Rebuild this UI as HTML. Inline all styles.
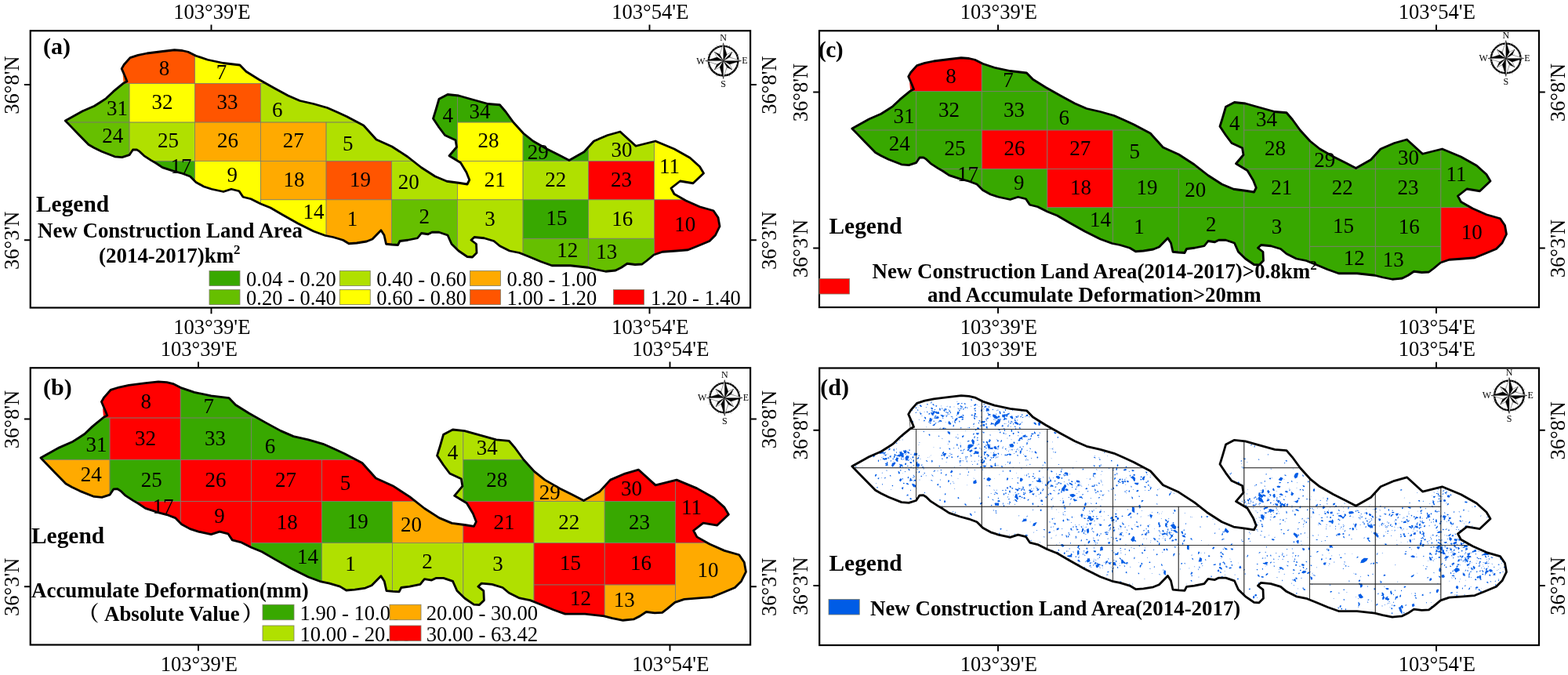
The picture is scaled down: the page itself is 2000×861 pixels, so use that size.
<!DOCTYPE html>
<html lang="en"><head><meta charset="utf-8"><title>Figure</title>
<style>html,body{margin:0;padding:0;background:#fff}svg{display:block}text{font-family:"Liberation Serif", "Noto Serif CJK SC", serif;fill:#000}.b{font-weight:bold}</style>
</head><body>
<svg width="2000" height="861" viewBox="0 0 2000 861">
<rect width="2000" height="861" fill="#fff"/>
<defs>
<clipPath id="oc"><path d="M83.30,154.00 L105.30,141.70 L120.30,135.20 L128.60,130.00 L135.30,125.60 L144.40,116.90 L148.30,113.60 L157.80,105.90 L162.00,103.80 L159.70,98.00 L155.20,87.60 L158.30,82.30 L166.00,73.60 L176.00,70.40 L187.50,68.00 L207.50,65.50 L222.50,63.75 L232.50,64.50 L240.00,66.25 L250.00,71.25 L265.00,76.25 L285.00,80.50 L306.00,83.00 L314.00,91.25 L330.00,101.25 L350.00,112.50 L367.50,122.00 L382.50,128.50 L400.00,132.50 L417.50,137.50 L430.00,143.00 L442.50,148.75 L463.75,160.00 L480.00,178.00 L500.00,187.00 L520.00,200.00 L537.50,213.75 L555.00,225.00 L570.00,231.25 L585.00,233.25 L596.00,235.00 L598.75,229.50 L595.00,220.00 L587.50,207.50 L573.00,198.75 L582.50,187.50 L581.00,178.75 L567.50,172.50 L560.00,162.50 L552.50,151.25 L556.00,140.00 L560.00,126.25 L571.00,120.50 L585.00,122.00 L600.00,126.25 L622.50,132.50 L637.50,133.75 L645.00,142.50 L655.00,156.25 L667.50,170.00 L680.00,180.00 L697.50,190.00 L712.50,197.50 L726.00,204.50 L745.00,193.75 L757.50,180.00 L775.00,172.50 L791.00,168.00 L811.00,186.25 L836.00,180.00 L860.00,190.00 L880.00,201.25 L892.50,212.50 L897.50,221.00 L884.00,233.75 L867.50,231.00 L856.00,240.00 L860.00,247.50 L875.00,256.00 L892.50,263.75 L910.00,268.75 L916.00,277.50 L918.00,288.75 L912.50,300.00 L905.00,307.50 L890.00,313.75 L877.50,318.75 L862.50,320.00 L845.00,321.25 L834.00,325.00 L825.00,332.50 L819.00,337.00 L810.00,337.50 L800.00,336.25 L792.50,341.25 L785.00,345.00 L772.50,346.25 L760.00,343.75 L750.00,341.25 L727.50,338.75 L704.00,338.75 L690.00,333.75 L675.00,327.50 L662.50,322.50 L650.00,320.00 L637.50,313.75 L630.00,307.50 L617.50,303.75 L605.00,302.50 L601.00,306.25 L607.50,311.25 L608.00,322.50 L602.50,328.00 L596.00,327.50 L585.00,320.00 L576.00,311.25 L571.00,300.00 L560.00,296.25 L551.00,296.25 L546.00,298.75 L537.50,297.50 L532.50,303.75 L520.00,306.25 L510.00,307.50 L507.50,312.50 L500.00,312.00 L492.50,311.25 L490.00,300.00 L486.00,293.75 L475.00,305.00 L467.50,308.00 L455.00,310.00 L445.00,310.75 L437.50,306.25 L425.00,302.50 L415.00,300.50 L400.00,295.00 L380.00,285.00 L360.00,273.75 L345.00,265.00 L332.50,260.00 L320.00,253.75 L310.00,251.25 L305.00,243.75 L295.00,241.25 L285.00,244.50 L270.00,241.25 L260.00,238.00 L250.00,232.50 L242.50,225.00 L232.50,221.25 L221.00,218.20 L207.20,213.60 L198.80,208.00 L192.90,204.60 L183.60,198.60 L178.00,193.20 L174.30,190.80 L169.50,191.00 L165.00,197.70 L155.70,200.60 L146.40,199.80 L129.70,193.20 L120.00,188.50 L113.00,184.50 L100.00,171.30 L90.00,160.90Z"/></clipPath>
</defs>
<g id="pa">
<rect x="38.75" y="39.25" width="918.35" height="353.25" fill="#fff" stroke="#000" stroke-width="2.2"/><path d="M269.50,39.25 v-7.8 M269.50,392.50 v7.8" stroke="#000" stroke-width="1.9"/><path d="M828.50,39.25 v-7.8 M828.50,392.50 v7.8" stroke="#000" stroke-width="1.9"/><path d="M38.75,108.00 h-7.8 M957.10,108.00 h7.8" stroke="#000" stroke-width="1.9"/><path d="M38.75,306.25 h-7.8 M957.10,306.25 h7.8" stroke="#000" stroke-width="1.9"/><text x="270.30" y="24.20" font-size="26.6" text-anchor="middle">103°39'E</text><text x="270.30" y="425.50" font-size="26.6" text-anchor="middle">103°39'E</text><text x="829.30" y="24.20" font-size="26.6" text-anchor="middle">103°54'E</text><text x="829.30" y="425.50" font-size="26.6" text-anchor="middle">103°54'E</text><text transform="translate(23.75,108.50) rotate(-90)" font-size="26.6" text-anchor="middle">36°8'N</text><text transform="translate(989.60,108.50) rotate(-90)" font-size="26.6" text-anchor="middle">36°8'N</text><text transform="translate(23.75,306.75) rotate(-90)" font-size="26.6" text-anchor="middle">36°3'N</text><text transform="translate(989.60,306.75) rotate(-90)" font-size="26.6" text-anchor="middle">36°3'N</text>
<g transform="translate(0.000,0.000) scale(1.0000)"><g clip-path="url(#oc)"><rect x="81.33" y="57.20" width="167.34" height="49.40" fill="#FF5500"/><rect x="248.67" y="57.20" width="167.34" height="49.40" fill="#FFFF00"/><rect x="81.33" y="106.60" width="83.67" height="49.40" fill="#66BF00"/><rect x="165.00" y="106.60" width="83.67" height="49.40" fill="#FFFF00"/><rect x="248.67" y="106.60" width="83.67" height="49.40" fill="#FF5500"/><rect x="332.34" y="106.60" width="200.81" height="49.40" fill="#B0E000"/><rect x="81.33" y="156.00" width="83.67" height="49.40" fill="#66BF00"/><rect x="165.00" y="156.00" width="83.67" height="49.40" fill="#B0E000"/><rect x="248.67" y="156.00" width="83.67" height="49.40" fill="#FFAA00"/><rect x="332.34" y="156.00" width="83.67" height="49.40" fill="#FFAA00"/><rect x="416.01" y="156.00" width="117.14" height="49.40" fill="#B0E000"/><rect x="541.51" y="106.60" width="41.84" height="98.80" fill="#38A800"/><rect x="583.35" y="106.60" width="83.67" height="49.40" fill="#38A800"/><rect x="583.35" y="156.00" width="83.67" height="49.40" fill="#FFFF00"/><rect x="667.02" y="156.00" width="83.67" height="49.40" fill="#38A800"/><rect x="750.69" y="156.00" width="83.67" height="49.40" fill="#B0E000"/><rect x="834.36" y="156.00" width="167.34" height="98.80" fill="#FFFF00"/><rect x="81.33" y="205.40" width="167.34" height="49.40" fill="#38A800"/><rect x="248.67" y="205.40" width="83.67" height="98.80" fill="#FFFF00"/><rect x="332.34" y="205.40" width="83.67" height="49.40" fill="#FFAA00"/><rect x="416.01" y="205.40" width="83.67" height="49.40" fill="#FF5500"/><rect x="499.68" y="205.40" width="83.67" height="49.40" fill="#B0E000"/><rect x="583.35" y="205.40" width="83.67" height="49.40" fill="#FFFF00"/><rect x="667.02" y="205.40" width="83.67" height="49.40" fill="#B0E000"/><rect x="750.69" y="205.40" width="83.67" height="49.40" fill="#FF0000"/><rect x="332.34" y="254.80" width="83.67" height="98.80" fill="#FFFF00"/><rect x="416.01" y="254.80" width="83.67" height="98.80" fill="#FFAA00"/><rect x="499.68" y="254.80" width="83.67" height="98.80" fill="#66BF00"/><rect x="583.35" y="254.80" width="83.67" height="98.80" fill="#B0E000"/><rect x="667.02" y="254.80" width="83.67" height="49.40" fill="#38A800"/><rect x="750.69" y="254.80" width="83.67" height="49.40" fill="#B0E000"/><rect x="834.36" y="254.80" width="167.34" height="98.80" fill="#FF0000"/><rect x="667.02" y="304.20" width="83.67" height="98.80" fill="#66BF00"/><rect x="750.69" y="304.20" width="83.67" height="98.80" fill="#66BF00"/><rect x="81.33" y="57.20" width="167.34" height="49.40" fill="none" stroke="#7a7a6a" stroke-width="0.60"/><rect x="248.67" y="57.20" width="167.34" height="49.40" fill="none" stroke="#7a7a6a" stroke-width="0.60"/><rect x="81.33" y="106.60" width="83.67" height="49.40" fill="none" stroke="#7a7a6a" stroke-width="0.60"/><rect x="165.00" y="106.60" width="83.67" height="49.40" fill="none" stroke="#7a7a6a" stroke-width="0.60"/><rect x="248.67" y="106.60" width="83.67" height="49.40" fill="none" stroke="#7a7a6a" stroke-width="0.60"/><rect x="332.34" y="106.60" width="200.81" height="49.40" fill="none" stroke="#7a7a6a" stroke-width="0.60"/><rect x="81.33" y="156.00" width="83.67" height="49.40" fill="none" stroke="#7a7a6a" stroke-width="0.60"/><rect x="165.00" y="156.00" width="83.67" height="49.40" fill="none" stroke="#7a7a6a" stroke-width="0.60"/><rect x="248.67" y="156.00" width="83.67" height="49.40" fill="none" stroke="#7a7a6a" stroke-width="0.60"/><rect x="332.34" y="156.00" width="83.67" height="49.40" fill="none" stroke="#7a7a6a" stroke-width="0.60"/><rect x="416.01" y="156.00" width="117.14" height="49.40" fill="none" stroke="#7a7a6a" stroke-width="0.60"/><rect x="541.51" y="106.60" width="41.84" height="98.80" fill="none" stroke="#7a7a6a" stroke-width="0.60"/><rect x="583.35" y="106.60" width="83.67" height="49.40" fill="none" stroke="#7a7a6a" stroke-width="0.60"/><rect x="583.35" y="156.00" width="83.67" height="49.40" fill="none" stroke="#7a7a6a" stroke-width="0.60"/><rect x="667.02" y="156.00" width="83.67" height="49.40" fill="none" stroke="#7a7a6a" stroke-width="0.60"/><rect x="750.69" y="156.00" width="83.67" height="49.40" fill="none" stroke="#7a7a6a" stroke-width="0.60"/><rect x="834.36" y="156.00" width="167.34" height="98.80" fill="none" stroke="#7a7a6a" stroke-width="0.60"/><rect x="81.33" y="205.40" width="167.34" height="49.40" fill="none" stroke="#7a7a6a" stroke-width="0.60"/><rect x="248.67" y="205.40" width="83.67" height="98.80" fill="none" stroke="#7a7a6a" stroke-width="0.60"/><rect x="332.34" y="205.40" width="83.67" height="49.40" fill="none" stroke="#7a7a6a" stroke-width="0.60"/><rect x="416.01" y="205.40" width="83.67" height="49.40" fill="none" stroke="#7a7a6a" stroke-width="0.60"/><rect x="499.68" y="205.40" width="83.67" height="49.40" fill="none" stroke="#7a7a6a" stroke-width="0.60"/><rect x="583.35" y="205.40" width="83.67" height="49.40" fill="none" stroke="#7a7a6a" stroke-width="0.60"/><rect x="667.02" y="205.40" width="83.67" height="49.40" fill="none" stroke="#7a7a6a" stroke-width="0.60"/><rect x="750.69" y="205.40" width="83.67" height="49.40" fill="none" stroke="#7a7a6a" stroke-width="0.60"/><rect x="332.34" y="254.80" width="83.67" height="98.80" fill="none" stroke="#7a7a6a" stroke-width="0.60"/><rect x="416.01" y="254.80" width="83.67" height="98.80" fill="none" stroke="#7a7a6a" stroke-width="0.60"/><rect x="499.68" y="254.80" width="83.67" height="98.80" fill="none" stroke="#7a7a6a" stroke-width="0.60"/><rect x="583.35" y="254.80" width="83.67" height="98.80" fill="none" stroke="#7a7a6a" stroke-width="0.60"/><rect x="667.02" y="254.80" width="83.67" height="49.40" fill="none" stroke="#7a7a6a" stroke-width="0.60"/><rect x="750.69" y="254.80" width="83.67" height="49.40" fill="none" stroke="#7a7a6a" stroke-width="0.60"/><rect x="834.36" y="254.80" width="167.34" height="98.80" fill="none" stroke="#7a7a6a" stroke-width="0.60"/><rect x="667.02" y="304.20" width="83.67" height="98.80" fill="none" stroke="#7a7a6a" stroke-width="0.60"/><rect x="750.69" y="304.20" width="83.67" height="98.80" fill="none" stroke="#7a7a6a" stroke-width="0.60"/></g><path d="M156.6,94.5 L157.6,105.6 L161.8,104 Z" fill="#FF5500" stroke="none" stroke-width="0.60"/><path d="M83.30,154.00 L105.30,141.70 L120.30,135.20 L128.60,130.00 L135.30,125.60 L144.40,116.90 L148.30,113.60 L157.80,105.90 L162.00,103.80 L159.70,98.00 L155.20,87.60 L158.30,82.30 L166.00,73.60 L176.00,70.40 L187.50,68.00 L207.50,65.50 L222.50,63.75 L232.50,64.50 L240.00,66.25 L250.00,71.25 L265.00,76.25 L285.00,80.50 L306.00,83.00 L314.00,91.25 L330.00,101.25 L350.00,112.50 L367.50,122.00 L382.50,128.50 L400.00,132.50 L417.50,137.50 L430.00,143.00 L442.50,148.75 L463.75,160.00 L480.00,178.00 L500.00,187.00 L520.00,200.00 L537.50,213.75 L555.00,225.00 L570.00,231.25 L585.00,233.25 L596.00,235.00 L598.75,229.50 L595.00,220.00 L587.50,207.50 L573.00,198.75 L582.50,187.50 L581.00,178.75 L567.50,172.50 L560.00,162.50 L552.50,151.25 L556.00,140.00 L560.00,126.25 L571.00,120.50 L585.00,122.00 L600.00,126.25 L622.50,132.50 L637.50,133.75 L645.00,142.50 L655.00,156.25 L667.50,170.00 L680.00,180.00 L697.50,190.00 L712.50,197.50 L726.00,204.50 L745.00,193.75 L757.50,180.00 L775.00,172.50 L791.00,168.00 L811.00,186.25 L836.00,180.00 L860.00,190.00 L880.00,201.25 L892.50,212.50 L897.50,221.00 L884.00,233.75 L867.50,231.00 L856.00,240.00 L860.00,247.50 L875.00,256.00 L892.50,263.75 L910.00,268.75 L916.00,277.50 L918.00,288.75 L912.50,300.00 L905.00,307.50 L890.00,313.75 L877.50,318.75 L862.50,320.00 L845.00,321.25 L834.00,325.00 L825.00,332.50 L819.00,337.00 L810.00,337.50 L800.00,336.25 L792.50,341.25 L785.00,345.00 L772.50,346.25 L760.00,343.75 L750.00,341.25 L727.50,338.75 L704.00,338.75 L690.00,333.75 L675.00,327.50 L662.50,322.50 L650.00,320.00 L637.50,313.75 L630.00,307.50 L617.50,303.75 L605.00,302.50 L601.00,306.25 L607.50,311.25 L608.00,322.50 L602.50,328.00 L596.00,327.50 L585.00,320.00 L576.00,311.25 L571.00,300.00 L560.00,296.25 L551.00,296.25 L546.00,298.75 L537.50,297.50 L532.50,303.75 L520.00,306.25 L510.00,307.50 L507.50,312.50 L500.00,312.00 L492.50,311.25 L490.00,300.00 L486.00,293.75 L475.00,305.00 L467.50,308.00 L455.00,310.00 L445.00,310.75 L437.50,306.25 L425.00,302.50 L415.00,300.50 L400.00,295.00 L380.00,285.00 L360.00,273.75 L345.00,265.00 L332.50,260.00 L320.00,253.75 L310.00,251.25 L305.00,243.75 L295.00,241.25 L285.00,244.50 L270.00,241.25 L260.00,238.00 L250.00,232.50 L242.50,225.00 L232.50,221.25 L221.00,218.20 L207.20,213.60 L198.80,208.00 L192.90,204.60 L183.60,198.60 L178.00,193.20 L174.30,190.80 L169.50,191.00 L165.00,197.70 L155.70,200.60 L146.40,199.80 L129.70,193.20 L120.00,188.50 L113.00,184.50 L100.00,171.30 L90.00,160.90Z" fill="none" stroke="#000" stroke-width="2.80" stroke-linejoin="round"/></g><text x="209.50" y="95.90" font-size="27" text-anchor="middle">8</text><text x="282.50" y="100.90" font-size="27" text-anchor="middle">7</text><text x="149.50" y="146.65" font-size="27" text-anchor="middle">31</text><text x="207.00" y="139.15" font-size="27" text-anchor="middle">32</text><text x="290.00" y="139.15" font-size="27" text-anchor="middle">33</text><text x="353.75" y="148.90" font-size="27" text-anchor="middle">6</text><text x="143.75" y="181.65" font-size="27" text-anchor="middle">24</text><text x="214.50" y="188.40" font-size="27" text-anchor="middle">25</text><text x="290.50" y="188.40" font-size="27" text-anchor="middle">26</text><text x="374.25" y="188.40" font-size="27" text-anchor="middle">27</text><text x="443.75" y="192.15" font-size="27" text-anchor="middle">5</text><text x="231.00" y="220.90" font-size="27" text-anchor="middle">17</text><text x="296.25" y="232.15" font-size="27" text-anchor="middle">9</text><text x="375.00" y="238.40" font-size="27" text-anchor="middle">18</text><text x="459.50" y="237.90" font-size="27" text-anchor="middle">19</text><text x="400.00" y="278.90" font-size="27" text-anchor="middle">14</text><text x="449.50" y="288.40" font-size="27" text-anchor="middle">1</text><text x="521.25" y="240.90" font-size="27" text-anchor="middle">20</text><text x="541.25" y="285.15" font-size="27" text-anchor="middle">2</text><text x="631.25" y="237.90" font-size="27" text-anchor="middle">21</text><text x="708.75" y="237.90" font-size="27" text-anchor="middle">22</text><text x="625.00" y="287.90" font-size="27" text-anchor="middle">3</text><text x="710.00" y="287.15" font-size="27" text-anchor="middle">15</text><text x="571.25" y="155.90" font-size="27" text-anchor="middle">4</text><text x="612.00" y="150.90" font-size="27" text-anchor="middle">34</text><text x="623.00" y="188.40" font-size="27" text-anchor="middle">28</text><text x="686.25" y="203.40" font-size="27" text-anchor="middle">29</text><text x="793.00" y="199.65" font-size="27" text-anchor="middle">30</text><text x="854.00" y="220.90" font-size="27" text-anchor="middle">11</text><text x="792.50" y="238.40" font-size="27" text-anchor="middle">23</text><text x="793.75" y="287.90" font-size="27" text-anchor="middle">16</text><text x="873.75" y="295.15" font-size="27" text-anchor="middle">10</text><text x="723.75" y="328.40" font-size="27" text-anchor="middle">12</text><text x="773.75" y="330.40" font-size="27" text-anchor="middle">13</text>
<text x="55.10" y="68.60" font-size="30.00" class="b">(a)</text>
<text x="46.00" y="269.50" font-size="29.40" class="b">Legend</text>
<text x="48.00" y="303.00" font-size="26.90" class="b">New Construction Land Area</text>
<text x="126.00" y="334.50" font-size="26.95" class="b">(2014-2017)km<tspan font-size="17" dy="-11">2</tspan></text>
<rect x="267.00" y="345.50" width="39.00" height="19.00" fill="#38A800" stroke="#7d7d66" stroke-width="0.8"/>
<text x="314.00" y="364.50" font-size="26.50">0.04 - 0.20</text>
<rect x="267.00" y="369.50" width="39.00" height="19.00" fill="#66BF00" stroke="#7d7d66" stroke-width="0.8"/>
<text x="314.00" y="388.50" font-size="26.50">0.20 - 0.40</text>
<rect x="433.25" y="345.50" width="39.00" height="19.00" fill="#B0E000" stroke="#7d7d66" stroke-width="0.8"/>
<text x="480.25" y="364.50" font-size="26.50">0.40 - 0.60</text>
<rect x="433.25" y="369.50" width="39.00" height="19.00" fill="#FFFF00" stroke="#7d7d66" stroke-width="0.8"/>
<text x="480.25" y="388.50" font-size="26.50">0.60 - 0.80</text>
<rect x="599.50" y="345.50" width="39.00" height="19.00" fill="#FFAA00" stroke="#7d7d66" stroke-width="0.8"/>
<text x="646.50" y="364.50" font-size="26.50">0.80 - 1.00</text>
<rect x="599.50" y="369.50" width="39.00" height="19.00" fill="#FF5500" stroke="#7d7d66" stroke-width="0.8"/>
<text x="646.50" y="388.50" font-size="26.50">1.00 - 1.20</text>
<rect x="782.50" y="369.50" width="39.00" height="19.00" fill="#FF0000" stroke="#7d7d66" stroke-width="0.8"/>
<text x="830.00" y="388.50" font-size="26.50">1.20 - 1.40</text>
<g transform="translate(922.6,77.6)"><g><circle r="18.8" fill="#fff" stroke="#000" stroke-width="2.3"/><circle r="18.8" fill="none" stroke="#fff" stroke-width="0.5" stroke-dasharray="1.2 2.4"/><g transform="rotate(22.5)"><path d="M0,-13 L0,-7" stroke="#999" stroke-width="0.35"/><path d="M0,-20.2 L0,-21.6" stroke="#777" stroke-width="0.6"/></g><g transform="rotate(67.5)"><path d="M0,-13 L0,-7" stroke="#999" stroke-width="0.35"/><path d="M0,-20.2 L0,-21.6" stroke="#777" stroke-width="0.6"/></g><g transform="rotate(112.5)"><path d="M0,-13 L0,-7" stroke="#999" stroke-width="0.35"/><path d="M0,-20.2 L0,-21.6" stroke="#777" stroke-width="0.6"/></g><g transform="rotate(157.5)"><path d="M0,-13 L0,-7" stroke="#999" stroke-width="0.35"/><path d="M0,-20.2 L0,-21.6" stroke="#777" stroke-width="0.6"/></g><g transform="rotate(202.5)"><path d="M0,-13 L0,-7" stroke="#999" stroke-width="0.35"/><path d="M0,-20.2 L0,-21.6" stroke="#777" stroke-width="0.6"/></g><g transform="rotate(247.5)"><path d="M0,-13 L0,-7" stroke="#999" stroke-width="0.35"/><path d="M0,-20.2 L0,-21.6" stroke="#777" stroke-width="0.6"/></g><g transform="rotate(292.5)"><path d="M0,-13 L0,-7" stroke="#999" stroke-width="0.35"/><path d="M0,-20.2 L0,-21.6" stroke="#777" stroke-width="0.6"/></g><g transform="rotate(337.5)"><path d="M0,-13 L0,-7" stroke="#999" stroke-width="0.35"/><path d="M0,-20.2 L0,-21.6" stroke="#777" stroke-width="0.6"/></g><g transform="rotate(45)"><path d="M0,-16 L3.5,-6.8 L0,0Z" fill="#000" stroke="#000" stroke-width="0.3"/><path d="M0,-16 L-3.5,-6.8 L0,0Z" fill="#fff" stroke="#000" stroke-width="0.35"/></g><g transform="rotate(135)"><path d="M0,-16 L3.5,-6.8 L0,0Z" fill="#000" stroke="#000" stroke-width="0.3"/><path d="M0,-16 L-3.5,-6.8 L0,0Z" fill="#fff" stroke="#000" stroke-width="0.35"/></g><g transform="rotate(225)"><path d="M0,-16 L3.5,-6.8 L0,0Z" fill="#000" stroke="#000" stroke-width="0.3"/><path d="M0,-16 L-3.5,-6.8 L0,0Z" fill="#fff" stroke="#000" stroke-width="0.35"/></g><g transform="rotate(315)"><path d="M0,-16 L3.5,-6.8 L0,0Z" fill="#000" stroke="#000" stroke-width="0.3"/><path d="M0,-16 L-3.5,-6.8 L0,0Z" fill="#fff" stroke="#000" stroke-width="0.35"/></g><g transform="rotate(0)"><path d="M0,-22.8 L4.5,-7.8 L0,0Z" fill="#000" stroke="#000" stroke-width="0.3"/><path d="M0,-22.8 L-4.5,-7.8 L0,0Z" fill="#fff" stroke="#000" stroke-width="0.4"/></g><g transform="rotate(90)"><path d="M0,-22.8 L4.5,-7.8 L0,0Z" fill="#000" stroke="#000" stroke-width="0.3"/><path d="M0,-22.8 L-4.5,-7.8 L0,0Z" fill="#fff" stroke="#000" stroke-width="0.4"/></g><g transform="rotate(180)"><path d="M0,-22.8 L4.5,-7.8 L0,0Z" fill="#000" stroke="#000" stroke-width="0.3"/><path d="M0,-22.8 L-4.5,-7.8 L0,0Z" fill="#fff" stroke="#000" stroke-width="0.4"/></g><g transform="rotate(270)"><path d="M0,-22.8 L4.5,-7.8 L0,0Z" fill="#000" stroke="#000" stroke-width="0.3"/><path d="M0,-22.8 L-4.5,-7.8 L0,0Z" fill="#fff" stroke="#000" stroke-width="0.4"/></g><text x="0" y="-25.6" font-size="12" text-anchor="middle">N</text><text x="0" y="33.4" font-size="12" text-anchor="middle">S</text><text x="23.6" y="3.8" font-size="12">E</text><text x="-23" y="3.9" font-size="12" text-anchor="end">W</text></g></g>
</g>
<g id="pb">
<rect x="38.75" y="469.25" width="918.35" height="353.25" fill="#fff" stroke="#000" stroke-width="2.2"/><path d="M253.00,469.25 v-7.8 M253.00,822.50 v7.8" stroke="#000" stroke-width="1.9"/><path d="M854.50,469.25 v-7.8 M854.50,822.50 v7.8" stroke="#000" stroke-width="1.9"/><path d="M38.75,534.50 h-7.8 M957.10,534.50 h7.8" stroke="#000" stroke-width="1.9"/><path d="M38.75,748.25 h-7.8 M957.10,748.25 h7.8" stroke="#000" stroke-width="1.9"/><text x="253.80" y="454.20" font-size="26.6" text-anchor="middle">103°39'E</text><text x="253.80" y="855.50" font-size="26.6" text-anchor="middle">103°39'E</text><text x="855.30" y="454.20" font-size="26.6" text-anchor="middle">103°54'E</text><text x="855.30" y="855.50" font-size="26.6" text-anchor="middle">103°54'E</text><text transform="translate(23.75,535.00) rotate(-90)" font-size="26.6" text-anchor="middle">36°8'N</text><text transform="translate(989.60,535.00) rotate(-90)" font-size="26.6" text-anchor="middle">36°8'N</text><text transform="translate(23.75,748.75) rotate(-90)" font-size="26.6" text-anchor="middle">36°3'N</text><text transform="translate(989.60,748.75) rotate(-90)" font-size="26.6" text-anchor="middle">36°3'N</text>
<g transform="translate(-37.804,418.144) scale(1.0776)"><g clip-path="url(#oc)"><rect x="81.33" y="57.20" width="167.34" height="49.40" fill="#FF0000"/><rect x="248.67" y="57.20" width="167.34" height="49.40" fill="#38A800"/><rect x="81.33" y="106.60" width="83.67" height="49.40" fill="#38A800"/><rect x="165.00" y="106.60" width="83.67" height="49.40" fill="#FF0000"/><rect x="248.67" y="106.60" width="83.67" height="49.40" fill="#38A800"/><rect x="332.34" y="106.60" width="200.81" height="49.40" fill="#38A800"/><rect x="81.33" y="156.00" width="83.67" height="49.40" fill="#FFAA00"/><rect x="165.00" y="156.00" width="83.67" height="49.40" fill="#38A800"/><rect x="248.67" y="156.00" width="83.67" height="49.40" fill="#FF0000"/><rect x="332.34" y="156.00" width="83.67" height="49.40" fill="#FF0000"/><rect x="416.01" y="156.00" width="117.14" height="49.40" fill="#FF0000"/><rect x="541.51" y="106.60" width="41.84" height="98.80" fill="#B0E000"/><rect x="583.35" y="106.60" width="83.67" height="49.40" fill="#B0E000"/><rect x="583.35" y="156.00" width="83.67" height="49.40" fill="#38A800"/><rect x="667.02" y="156.00" width="83.67" height="49.40" fill="#FFAA00"/><rect x="750.69" y="156.00" width="83.67" height="49.40" fill="#FF0000"/><rect x="834.36" y="156.00" width="167.34" height="98.80" fill="#FF0000"/><rect x="81.33" y="205.40" width="167.34" height="49.40" fill="#FF0000"/><rect x="248.67" y="205.40" width="83.67" height="98.80" fill="#FF0000"/><rect x="332.34" y="205.40" width="83.67" height="49.40" fill="#FF0000"/><rect x="416.01" y="205.40" width="83.67" height="49.40" fill="#38A800"/><rect x="499.68" y="205.40" width="83.67" height="49.40" fill="#FFAA00"/><rect x="583.35" y="205.40" width="83.67" height="49.40" fill="#FF0000"/><rect x="667.02" y="205.40" width="83.67" height="49.40" fill="#B0E000"/><rect x="750.69" y="205.40" width="83.67" height="49.40" fill="#38A800"/><rect x="332.34" y="254.80" width="83.67" height="98.80" fill="#38A800"/><rect x="416.01" y="254.80" width="83.67" height="98.80" fill="#B0E000"/><rect x="499.68" y="254.80" width="83.67" height="98.80" fill="#B0E000"/><rect x="583.35" y="254.80" width="83.67" height="98.80" fill="#B0E000"/><rect x="667.02" y="254.80" width="83.67" height="49.40" fill="#FF0000"/><rect x="750.69" y="254.80" width="83.67" height="49.40" fill="#FF0000"/><rect x="834.36" y="254.80" width="167.34" height="98.80" fill="#FFAA00"/><rect x="667.02" y="304.20" width="83.67" height="98.80" fill="#FF0000"/><rect x="750.69" y="304.20" width="83.67" height="98.80" fill="#FFAA00"/><rect x="81.33" y="57.20" width="167.34" height="49.40" fill="none" stroke="#7a7a6a" stroke-width="0.56"/><rect x="248.67" y="57.20" width="167.34" height="49.40" fill="none" stroke="#7a7a6a" stroke-width="0.56"/><rect x="81.33" y="106.60" width="83.67" height="49.40" fill="none" stroke="#7a7a6a" stroke-width="0.56"/><rect x="165.00" y="106.60" width="83.67" height="49.40" fill="none" stroke="#7a7a6a" stroke-width="0.56"/><rect x="248.67" y="106.60" width="83.67" height="49.40" fill="none" stroke="#7a7a6a" stroke-width="0.56"/><rect x="332.34" y="106.60" width="200.81" height="49.40" fill="none" stroke="#7a7a6a" stroke-width="0.56"/><rect x="81.33" y="156.00" width="83.67" height="49.40" fill="none" stroke="#7a7a6a" stroke-width="0.56"/><rect x="165.00" y="156.00" width="83.67" height="49.40" fill="none" stroke="#7a7a6a" stroke-width="0.56"/><rect x="248.67" y="156.00" width="83.67" height="49.40" fill="none" stroke="#7a7a6a" stroke-width="0.56"/><rect x="332.34" y="156.00" width="83.67" height="49.40" fill="none" stroke="#7a7a6a" stroke-width="0.56"/><rect x="416.01" y="156.00" width="117.14" height="49.40" fill="none" stroke="#7a7a6a" stroke-width="0.56"/><rect x="541.51" y="106.60" width="41.84" height="98.80" fill="none" stroke="#7a7a6a" stroke-width="0.56"/><rect x="583.35" y="106.60" width="83.67" height="49.40" fill="none" stroke="#7a7a6a" stroke-width="0.56"/><rect x="583.35" y="156.00" width="83.67" height="49.40" fill="none" stroke="#7a7a6a" stroke-width="0.56"/><rect x="667.02" y="156.00" width="83.67" height="49.40" fill="none" stroke="#7a7a6a" stroke-width="0.56"/><rect x="750.69" y="156.00" width="83.67" height="49.40" fill="none" stroke="#7a7a6a" stroke-width="0.56"/><rect x="834.36" y="156.00" width="167.34" height="98.80" fill="none" stroke="#7a7a6a" stroke-width="0.56"/><rect x="81.33" y="205.40" width="167.34" height="49.40" fill="none" stroke="#7a7a6a" stroke-width="0.56"/><rect x="248.67" y="205.40" width="83.67" height="98.80" fill="none" stroke="#7a7a6a" stroke-width="0.56"/><rect x="332.34" y="205.40" width="83.67" height="49.40" fill="none" stroke="#7a7a6a" stroke-width="0.56"/><rect x="416.01" y="205.40" width="83.67" height="49.40" fill="none" stroke="#7a7a6a" stroke-width="0.56"/><rect x="499.68" y="205.40" width="83.67" height="49.40" fill="none" stroke="#7a7a6a" stroke-width="0.56"/><rect x="583.35" y="205.40" width="83.67" height="49.40" fill="none" stroke="#7a7a6a" stroke-width="0.56"/><rect x="667.02" y="205.40" width="83.67" height="49.40" fill="none" stroke="#7a7a6a" stroke-width="0.56"/><rect x="750.69" y="205.40" width="83.67" height="49.40" fill="none" stroke="#7a7a6a" stroke-width="0.56"/><rect x="332.34" y="254.80" width="83.67" height="98.80" fill="none" stroke="#7a7a6a" stroke-width="0.56"/><rect x="416.01" y="254.80" width="83.67" height="98.80" fill="none" stroke="#7a7a6a" stroke-width="0.56"/><rect x="499.68" y="254.80" width="83.67" height="98.80" fill="none" stroke="#7a7a6a" stroke-width="0.56"/><rect x="583.35" y="254.80" width="83.67" height="98.80" fill="none" stroke="#7a7a6a" stroke-width="0.56"/><rect x="667.02" y="254.80" width="83.67" height="49.40" fill="none" stroke="#7a7a6a" stroke-width="0.56"/><rect x="750.69" y="254.80" width="83.67" height="49.40" fill="none" stroke="#7a7a6a" stroke-width="0.56"/><rect x="834.36" y="254.80" width="167.34" height="98.80" fill="none" stroke="#7a7a6a" stroke-width="0.56"/><rect x="667.02" y="304.20" width="83.67" height="98.80" fill="none" stroke="#7a7a6a" stroke-width="0.56"/><rect x="750.69" y="304.20" width="83.67" height="98.80" fill="none" stroke="#7a7a6a" stroke-width="0.56"/></g><path d="M156.6,94.5 L157.6,105.6 L161.8,104 Z" fill="#FF0000" stroke="none" stroke-width="0.56"/><path d="M83.30,154.00 L105.30,141.70 L120.30,135.20 L128.60,130.00 L135.30,125.60 L144.40,116.90 L148.30,113.60 L157.80,105.90 L162.00,103.80 L159.70,98.00 L155.20,87.60 L158.30,82.30 L166.00,73.60 L176.00,70.40 L187.50,68.00 L207.50,65.50 L222.50,63.75 L232.50,64.50 L240.00,66.25 L250.00,71.25 L265.00,76.25 L285.00,80.50 L306.00,83.00 L314.00,91.25 L330.00,101.25 L350.00,112.50 L367.50,122.00 L382.50,128.50 L400.00,132.50 L417.50,137.50 L430.00,143.00 L442.50,148.75 L463.75,160.00 L480.00,178.00 L500.00,187.00 L520.00,200.00 L537.50,213.75 L555.00,225.00 L570.00,231.25 L585.00,233.25 L596.00,235.00 L598.75,229.50 L595.00,220.00 L587.50,207.50 L573.00,198.75 L582.50,187.50 L581.00,178.75 L567.50,172.50 L560.00,162.50 L552.50,151.25 L556.00,140.00 L560.00,126.25 L571.00,120.50 L585.00,122.00 L600.00,126.25 L622.50,132.50 L637.50,133.75 L645.00,142.50 L655.00,156.25 L667.50,170.00 L680.00,180.00 L697.50,190.00 L712.50,197.50 L726.00,204.50 L745.00,193.75 L757.50,180.00 L775.00,172.50 L791.00,168.00 L811.00,186.25 L836.00,180.00 L860.00,190.00 L880.00,201.25 L892.50,212.50 L897.50,221.00 L884.00,233.75 L867.50,231.00 L856.00,240.00 L860.00,247.50 L875.00,256.00 L892.50,263.75 L910.00,268.75 L916.00,277.50 L918.00,288.75 L912.50,300.00 L905.00,307.50 L890.00,313.75 L877.50,318.75 L862.50,320.00 L845.00,321.25 L834.00,325.00 L825.00,332.50 L819.00,337.00 L810.00,337.50 L800.00,336.25 L792.50,341.25 L785.00,345.00 L772.50,346.25 L760.00,343.75 L750.00,341.25 L727.50,338.75 L704.00,338.75 L690.00,333.75 L675.00,327.50 L662.50,322.50 L650.00,320.00 L637.50,313.75 L630.00,307.50 L617.50,303.75 L605.00,302.50 L601.00,306.25 L607.50,311.25 L608.00,322.50 L602.50,328.00 L596.00,327.50 L585.00,320.00 L576.00,311.25 L571.00,300.00 L560.00,296.25 L551.00,296.25 L546.00,298.75 L537.50,297.50 L532.50,303.75 L520.00,306.25 L510.00,307.50 L507.50,312.50 L500.00,312.00 L492.50,311.25 L490.00,300.00 L486.00,293.75 L475.00,305.00 L467.50,308.00 L455.00,310.00 L445.00,310.75 L437.50,306.25 L425.00,302.50 L415.00,300.50 L400.00,295.00 L380.00,285.00 L360.00,273.75 L345.00,265.00 L332.50,260.00 L320.00,253.75 L310.00,251.25 L305.00,243.75 L295.00,241.25 L285.00,244.50 L270.00,241.25 L260.00,238.00 L250.00,232.50 L242.50,225.00 L232.50,221.25 L221.00,218.20 L207.20,213.60 L198.80,208.00 L192.90,204.60 L183.60,198.60 L178.00,193.20 L174.30,190.80 L169.50,191.00 L165.00,197.70 L155.70,200.60 L146.40,199.80 L129.70,193.20 L120.00,188.50 L113.00,184.50 L100.00,171.30 L90.00,160.90Z" fill="none" stroke="#000" stroke-width="2.60" stroke-linejoin="round"/></g><text x="186.25" y="520.90" font-size="27" text-anchor="middle">8</text><text x="266.25" y="527.15" font-size="27" text-anchor="middle">7</text><text x="123.00" y="575.90" font-size="27" text-anchor="middle">31</text><text x="185.50" y="567.90" font-size="27" text-anchor="middle">32</text><text x="274.50" y="567.90" font-size="27" text-anchor="middle">33</text><text x="344.50" y="578.40" font-size="27" text-anchor="middle">6</text><text x="116.25" y="614.15" font-size="27" text-anchor="middle">24</text><text x="193.25" y="620.90" font-size="27" text-anchor="middle">25</text><text x="275.00" y="620.90" font-size="27" text-anchor="middle">26</text><text x="364.50" y="620.90" font-size="27" text-anchor="middle">27</text><text x="440.50" y="625.40" font-size="27" text-anchor="middle">5</text><text x="208.00" y="655.40" font-size="27" text-anchor="middle">17</text><text x="280.00" y="667.15" font-size="27" text-anchor="middle">9</text><text x="366.25" y="674.65" font-size="27" text-anchor="middle">18</text><text x="456.25" y="673.90" font-size="27" text-anchor="middle">19</text><text x="392.50" y="718.90" font-size="27" text-anchor="middle">14</text><text x="447.00" y="728.40" font-size="27" text-anchor="middle">1</text><text x="524.50" y="677.65" font-size="27" text-anchor="middle">20</text><text x="545.00" y="725.15" font-size="27" text-anchor="middle">2</text><text x="635.00" y="728.40" font-size="27" text-anchor="middle">3</text><text x="643.00" y="674.65" font-size="27" text-anchor="middle">21</text><text x="725.75" y="674.65" font-size="27" text-anchor="middle">22</text><text x="727.50" y="727.15" font-size="27" text-anchor="middle">15</text><text x="577.50" y="585.90" font-size="27" text-anchor="middle">4</text><text x="621.25" y="580.40" font-size="27" text-anchor="middle">34</text><text x="633.75" y="620.90" font-size="27" text-anchor="middle">28</text><text x="701.25" y="637.15" font-size="27" text-anchor="middle">29</text><text x="805.50" y="632.15" font-size="27" text-anchor="middle">30</text><text x="882.00" y="656.40" font-size="27" text-anchor="middle">11</text><text x="815.50" y="674.65" font-size="27" text-anchor="middle">23</text><text x="817.50" y="727.15" font-size="27" text-anchor="middle">16</text><text x="903.00" y="735.90" font-size="27" text-anchor="middle">10</text><text x="740.50" y="772.15" font-size="27" text-anchor="middle">12</text><text x="796.25" y="773.90" font-size="27" text-anchor="middle">13</text>
<text x="55.10" y="503.60" font-size="30.00" class="b">(b)</text>
<text x="40.00" y="692.50" font-size="29.40" class="b">Legend</text>
<text x="40.00" y="761.50" font-size="26.93" class="b">Accumulate Deformation(mm)</text>
<text y="791.5" font-size="26.9" class="b"><tspan x="99.5">（</tspan><tspan x="133">Absolute Value</tspan><tspan x="308.75">）</tspan></text>
<rect x="335.00" y="771.25" width="40.00" height="19.50" fill="#38A800" stroke="#7d7d66" stroke-width="0.8"/>
<text x="382.50" y="790.75" font-size="26.70">1.90 - 10.00</text>
<rect x="335.00" y="798.00" width="40.00" height="19.50" fill="#B0E000" stroke="#7d7d66" stroke-width="0.8"/>
<text x="382.50" y="817.50" font-size="26.70">10.00 - 20.00</text>
<rect x="497.00" y="771.25" width="40.00" height="19.50" fill="#FFAA00" stroke="#7d7d66" stroke-width="0.8"/>
<text x="543.75" y="790.75" font-size="26.70">20.00 - 30.00</text>
<rect x="497.00" y="798.00" width="40.00" height="19.50" fill="#FF0000" stroke="#7d7d66" stroke-width="0.8"/>
<text x="543.75" y="817.50" font-size="26.70">30.00 - 63.42</text>
<g transform="translate(924.25,507.5)"><g><circle r="18.8" fill="#fff" stroke="#000" stroke-width="2.3"/><circle r="18.8" fill="none" stroke="#fff" stroke-width="0.5" stroke-dasharray="1.2 2.4"/><g transform="rotate(22.5)"><path d="M0,-13 L0,-7" stroke="#999" stroke-width="0.35"/><path d="M0,-20.2 L0,-21.6" stroke="#777" stroke-width="0.6"/></g><g transform="rotate(67.5)"><path d="M0,-13 L0,-7" stroke="#999" stroke-width="0.35"/><path d="M0,-20.2 L0,-21.6" stroke="#777" stroke-width="0.6"/></g><g transform="rotate(112.5)"><path d="M0,-13 L0,-7" stroke="#999" stroke-width="0.35"/><path d="M0,-20.2 L0,-21.6" stroke="#777" stroke-width="0.6"/></g><g transform="rotate(157.5)"><path d="M0,-13 L0,-7" stroke="#999" stroke-width="0.35"/><path d="M0,-20.2 L0,-21.6" stroke="#777" stroke-width="0.6"/></g><g transform="rotate(202.5)"><path d="M0,-13 L0,-7" stroke="#999" stroke-width="0.35"/><path d="M0,-20.2 L0,-21.6" stroke="#777" stroke-width="0.6"/></g><g transform="rotate(247.5)"><path d="M0,-13 L0,-7" stroke="#999" stroke-width="0.35"/><path d="M0,-20.2 L0,-21.6" stroke="#777" stroke-width="0.6"/></g><g transform="rotate(292.5)"><path d="M0,-13 L0,-7" stroke="#999" stroke-width="0.35"/><path d="M0,-20.2 L0,-21.6" stroke="#777" stroke-width="0.6"/></g><g transform="rotate(337.5)"><path d="M0,-13 L0,-7" stroke="#999" stroke-width="0.35"/><path d="M0,-20.2 L0,-21.6" stroke="#777" stroke-width="0.6"/></g><g transform="rotate(45)"><path d="M0,-16 L3.5,-6.8 L0,0Z" fill="#000" stroke="#000" stroke-width="0.3"/><path d="M0,-16 L-3.5,-6.8 L0,0Z" fill="#fff" stroke="#000" stroke-width="0.35"/></g><g transform="rotate(135)"><path d="M0,-16 L3.5,-6.8 L0,0Z" fill="#000" stroke="#000" stroke-width="0.3"/><path d="M0,-16 L-3.5,-6.8 L0,0Z" fill="#fff" stroke="#000" stroke-width="0.35"/></g><g transform="rotate(225)"><path d="M0,-16 L3.5,-6.8 L0,0Z" fill="#000" stroke="#000" stroke-width="0.3"/><path d="M0,-16 L-3.5,-6.8 L0,0Z" fill="#fff" stroke="#000" stroke-width="0.35"/></g><g transform="rotate(315)"><path d="M0,-16 L3.5,-6.8 L0,0Z" fill="#000" stroke="#000" stroke-width="0.3"/><path d="M0,-16 L-3.5,-6.8 L0,0Z" fill="#fff" stroke="#000" stroke-width="0.35"/></g><g transform="rotate(0)"><path d="M0,-22.8 L4.5,-7.8 L0,0Z" fill="#000" stroke="#000" stroke-width="0.3"/><path d="M0,-22.8 L-4.5,-7.8 L0,0Z" fill="#fff" stroke="#000" stroke-width="0.4"/></g><g transform="rotate(90)"><path d="M0,-22.8 L4.5,-7.8 L0,0Z" fill="#000" stroke="#000" stroke-width="0.3"/><path d="M0,-22.8 L-4.5,-7.8 L0,0Z" fill="#fff" stroke="#000" stroke-width="0.4"/></g><g transform="rotate(180)"><path d="M0,-22.8 L4.5,-7.8 L0,0Z" fill="#000" stroke="#000" stroke-width="0.3"/><path d="M0,-22.8 L-4.5,-7.8 L0,0Z" fill="#fff" stroke="#000" stroke-width="0.4"/></g><g transform="rotate(270)"><path d="M0,-22.8 L4.5,-7.8 L0,0Z" fill="#000" stroke="#000" stroke-width="0.3"/><path d="M0,-22.8 L-4.5,-7.8 L0,0Z" fill="#fff" stroke="#000" stroke-width="0.4"/></g><text x="0" y="-25.6" font-size="12" text-anchor="middle">N</text><text x="0" y="33.4" font-size="12" text-anchor="middle">S</text><text x="23.6" y="3.8" font-size="12">E</text><text x="-23" y="3.9" font-size="12" text-anchor="end">W</text></g></g>
</g>
<g id="pc">
<rect x="1045.00" y="39.25" width="918.00" height="352.75" fill="#fff" stroke="#000" stroke-width="2.2"/><path d="M1273.00,39.25 v-7.8 M1273.00,392.00 v7.8" stroke="#000" stroke-width="1.9"/><path d="M1832.00,39.25 v-7.8 M1832.00,392.00 v7.8" stroke="#000" stroke-width="1.9"/><path d="M1045.00,117.50 h-7.8 M1963.00,117.50 h7.8" stroke="#000" stroke-width="1.9"/><path d="M1045.00,316.50 h-7.8 M1963.00,316.50 h7.8" stroke="#000" stroke-width="1.9"/><text x="1273.80" y="24.20" font-size="26.6" text-anchor="middle">103°39'E</text><text x="1273.80" y="425.50" font-size="26.6" text-anchor="middle">103°39'E</text><text x="1832.80" y="24.20" font-size="26.6" text-anchor="middle">103°54'E</text><text x="1832.80" y="425.50" font-size="26.6" text-anchor="middle">103°54'E</text><text transform="translate(1030.00,118.00) rotate(-90)" font-size="26.6" text-anchor="middle">36°8'N</text><text transform="translate(1995.50,118.00) rotate(-90)" font-size="26.6" text-anchor="middle">36°8'N</text><text transform="translate(1030.00,317.00) rotate(-90)" font-size="26.6" text-anchor="middle">36°3'N</text><text transform="translate(1995.50,317.00) rotate(-90)" font-size="26.6" text-anchor="middle">36°3'N</text>
<g transform="translate(1003.500,10.000) scale(1.0000)"><g clip-path="url(#oc)"><rect x="81.33" y="57.20" width="167.34" height="49.40" fill="#FF0000"/><rect x="248.67" y="57.20" width="167.34" height="49.40" fill="#38A800"/><rect x="81.33" y="106.60" width="83.67" height="49.40" fill="#38A800"/><rect x="165.00" y="106.60" width="83.67" height="49.40" fill="#38A800"/><rect x="248.67" y="106.60" width="83.67" height="49.40" fill="#38A800"/><rect x="332.34" y="106.60" width="200.81" height="49.40" fill="#38A800"/><rect x="81.33" y="156.00" width="83.67" height="49.40" fill="#38A800"/><rect x="165.00" y="156.00" width="83.67" height="49.40" fill="#38A800"/><rect x="248.67" y="156.00" width="83.67" height="49.40" fill="#FF0000"/><rect x="332.34" y="156.00" width="83.67" height="49.40" fill="#FF0000"/><rect x="416.01" y="156.00" width="117.14" height="49.40" fill="#38A800"/><rect x="541.51" y="106.60" width="41.84" height="98.80" fill="#38A800"/><rect x="583.35" y="106.60" width="83.67" height="49.40" fill="#38A800"/><rect x="583.35" y="156.00" width="83.67" height="49.40" fill="#38A800"/><rect x="667.02" y="156.00" width="83.67" height="49.40" fill="#38A800"/><rect x="750.69" y="156.00" width="83.67" height="49.40" fill="#38A800"/><rect x="834.36" y="156.00" width="167.34" height="98.80" fill="#38A800"/><rect x="81.33" y="205.40" width="167.34" height="49.40" fill="#38A800"/><rect x="248.67" y="205.40" width="83.67" height="98.80" fill="#38A800"/><rect x="332.34" y="205.40" width="83.67" height="49.40" fill="#FF0000"/><rect x="416.01" y="205.40" width="83.67" height="49.40" fill="#38A800"/><rect x="499.68" y="205.40" width="83.67" height="49.40" fill="#38A800"/><rect x="583.35" y="205.40" width="83.67" height="49.40" fill="#38A800"/><rect x="667.02" y="205.40" width="83.67" height="49.40" fill="#38A800"/><rect x="750.69" y="205.40" width="83.67" height="49.40" fill="#38A800"/><rect x="332.34" y="254.80" width="83.67" height="98.80" fill="#38A800"/><rect x="416.01" y="254.80" width="83.67" height="98.80" fill="#38A800"/><rect x="499.68" y="254.80" width="83.67" height="98.80" fill="#38A800"/><rect x="583.35" y="254.80" width="83.67" height="98.80" fill="#38A800"/><rect x="667.02" y="254.80" width="83.67" height="49.40" fill="#38A800"/><rect x="750.69" y="254.80" width="83.67" height="49.40" fill="#38A800"/><rect x="834.36" y="254.80" width="167.34" height="98.80" fill="#FF0000"/><rect x="667.02" y="304.20" width="83.67" height="98.80" fill="#38A800"/><rect x="750.69" y="304.20" width="83.67" height="98.80" fill="#38A800"/><rect x="81.33" y="57.20" width="167.34" height="49.40" fill="none" stroke="#7a7a6a" stroke-width="0.60"/><rect x="248.67" y="57.20" width="167.34" height="49.40" fill="none" stroke="#7a7a6a" stroke-width="0.60"/><rect x="81.33" y="106.60" width="83.67" height="49.40" fill="none" stroke="#7a7a6a" stroke-width="0.60"/><rect x="165.00" y="106.60" width="83.67" height="49.40" fill="none" stroke="#7a7a6a" stroke-width="0.60"/><rect x="248.67" y="106.60" width="83.67" height="49.40" fill="none" stroke="#7a7a6a" stroke-width="0.60"/><rect x="332.34" y="106.60" width="200.81" height="49.40" fill="none" stroke="#7a7a6a" stroke-width="0.60"/><rect x="81.33" y="156.00" width="83.67" height="49.40" fill="none" stroke="#7a7a6a" stroke-width="0.60"/><rect x="165.00" y="156.00" width="83.67" height="49.40" fill="none" stroke="#7a7a6a" stroke-width="0.60"/><rect x="248.67" y="156.00" width="83.67" height="49.40" fill="none" stroke="#7a7a6a" stroke-width="0.60"/><rect x="332.34" y="156.00" width="83.67" height="49.40" fill="none" stroke="#7a7a6a" stroke-width="0.60"/><rect x="416.01" y="156.00" width="117.14" height="49.40" fill="none" stroke="#7a7a6a" stroke-width="0.60"/><rect x="541.51" y="106.60" width="41.84" height="98.80" fill="none" stroke="#7a7a6a" stroke-width="0.60"/><rect x="583.35" y="106.60" width="83.67" height="49.40" fill="none" stroke="#7a7a6a" stroke-width="0.60"/><rect x="583.35" y="156.00" width="83.67" height="49.40" fill="none" stroke="#7a7a6a" stroke-width="0.60"/><rect x="667.02" y="156.00" width="83.67" height="49.40" fill="none" stroke="#7a7a6a" stroke-width="0.60"/><rect x="750.69" y="156.00" width="83.67" height="49.40" fill="none" stroke="#7a7a6a" stroke-width="0.60"/><rect x="834.36" y="156.00" width="167.34" height="98.80" fill="none" stroke="#7a7a6a" stroke-width="0.60"/><rect x="81.33" y="205.40" width="167.34" height="49.40" fill="none" stroke="#7a7a6a" stroke-width="0.60"/><rect x="248.67" y="205.40" width="83.67" height="98.80" fill="none" stroke="#7a7a6a" stroke-width="0.60"/><rect x="332.34" y="205.40" width="83.67" height="49.40" fill="none" stroke="#7a7a6a" stroke-width="0.60"/><rect x="416.01" y="205.40" width="83.67" height="49.40" fill="none" stroke="#7a7a6a" stroke-width="0.60"/><rect x="499.68" y="205.40" width="83.67" height="49.40" fill="none" stroke="#7a7a6a" stroke-width="0.60"/><rect x="583.35" y="205.40" width="83.67" height="49.40" fill="none" stroke="#7a7a6a" stroke-width="0.60"/><rect x="667.02" y="205.40" width="83.67" height="49.40" fill="none" stroke="#7a7a6a" stroke-width="0.60"/><rect x="750.69" y="205.40" width="83.67" height="49.40" fill="none" stroke="#7a7a6a" stroke-width="0.60"/><rect x="332.34" y="254.80" width="83.67" height="98.80" fill="none" stroke="#7a7a6a" stroke-width="0.60"/><rect x="416.01" y="254.80" width="83.67" height="98.80" fill="none" stroke="#7a7a6a" stroke-width="0.60"/><rect x="499.68" y="254.80" width="83.67" height="98.80" fill="none" stroke="#7a7a6a" stroke-width="0.60"/><rect x="583.35" y="254.80" width="83.67" height="98.80" fill="none" stroke="#7a7a6a" stroke-width="0.60"/><rect x="667.02" y="254.80" width="83.67" height="49.40" fill="none" stroke="#7a7a6a" stroke-width="0.60"/><rect x="750.69" y="254.80" width="83.67" height="49.40" fill="none" stroke="#7a7a6a" stroke-width="0.60"/><rect x="834.36" y="254.80" width="167.34" height="98.80" fill="none" stroke="#7a7a6a" stroke-width="0.60"/><rect x="667.02" y="304.20" width="83.67" height="98.80" fill="none" stroke="#7a7a6a" stroke-width="0.60"/><rect x="750.69" y="304.20" width="83.67" height="98.80" fill="none" stroke="#7a7a6a" stroke-width="0.60"/></g><path d="M156.6,94.5 L157.6,105.6 L161.8,104 Z" fill="#FF0000" stroke="none" stroke-width="0.60"/><path d="M83.30,154.00 L105.30,141.70 L120.30,135.20 L128.60,130.00 L135.30,125.60 L144.40,116.90 L148.30,113.60 L157.80,105.90 L162.00,103.80 L159.70,98.00 L155.20,87.60 L158.30,82.30 L166.00,73.60 L176.00,70.40 L187.50,68.00 L207.50,65.50 L222.50,63.75 L232.50,64.50 L240.00,66.25 L250.00,71.25 L265.00,76.25 L285.00,80.50 L306.00,83.00 L314.00,91.25 L330.00,101.25 L350.00,112.50 L367.50,122.00 L382.50,128.50 L400.00,132.50 L417.50,137.50 L430.00,143.00 L442.50,148.75 L463.75,160.00 L480.00,178.00 L500.00,187.00 L520.00,200.00 L537.50,213.75 L555.00,225.00 L570.00,231.25 L585.00,233.25 L596.00,235.00 L598.75,229.50 L595.00,220.00 L587.50,207.50 L573.00,198.75 L582.50,187.50 L581.00,178.75 L567.50,172.50 L560.00,162.50 L552.50,151.25 L556.00,140.00 L560.00,126.25 L571.00,120.50 L585.00,122.00 L600.00,126.25 L622.50,132.50 L637.50,133.75 L645.00,142.50 L655.00,156.25 L667.50,170.00 L680.00,180.00 L697.50,190.00 L712.50,197.50 L726.00,204.50 L745.00,193.75 L757.50,180.00 L775.00,172.50 L791.00,168.00 L811.00,186.25 L836.00,180.00 L860.00,190.00 L880.00,201.25 L892.50,212.50 L897.50,221.00 L884.00,233.75 L867.50,231.00 L856.00,240.00 L860.00,247.50 L875.00,256.00 L892.50,263.75 L910.00,268.75 L916.00,277.50 L918.00,288.75 L912.50,300.00 L905.00,307.50 L890.00,313.75 L877.50,318.75 L862.50,320.00 L845.00,321.25 L834.00,325.00 L825.00,332.50 L819.00,337.00 L810.00,337.50 L800.00,336.25 L792.50,341.25 L785.00,345.00 L772.50,346.25 L760.00,343.75 L750.00,341.25 L727.50,338.75 L704.00,338.75 L690.00,333.75 L675.00,327.50 L662.50,322.50 L650.00,320.00 L637.50,313.75 L630.00,307.50 L617.50,303.75 L605.00,302.50 L601.00,306.25 L607.50,311.25 L608.00,322.50 L602.50,328.00 L596.00,327.50 L585.00,320.00 L576.00,311.25 L571.00,300.00 L560.00,296.25 L551.00,296.25 L546.00,298.75 L537.50,297.50 L532.50,303.75 L520.00,306.25 L510.00,307.50 L507.50,312.50 L500.00,312.00 L492.50,311.25 L490.00,300.00 L486.00,293.75 L475.00,305.00 L467.50,308.00 L455.00,310.00 L445.00,310.75 L437.50,306.25 L425.00,302.50 L415.00,300.50 L400.00,295.00 L380.00,285.00 L360.00,273.75 L345.00,265.00 L332.50,260.00 L320.00,253.75 L310.00,251.25 L305.00,243.75 L295.00,241.25 L285.00,244.50 L270.00,241.25 L260.00,238.00 L250.00,232.50 L242.50,225.00 L232.50,221.25 L221.00,218.20 L207.20,213.60 L198.80,208.00 L192.90,204.60 L183.60,198.60 L178.00,193.20 L174.30,190.80 L169.50,191.00 L165.00,197.70 L155.70,200.60 L146.40,199.80 L129.70,193.20 L120.00,188.50 L113.00,184.50 L100.00,171.30 L90.00,160.90Z" fill="none" stroke="#000" stroke-width="2.80" stroke-linejoin="round"/></g><text x="1213.00" y="105.90" font-size="27" text-anchor="middle">8</text><text x="1286.00" y="110.90" font-size="27" text-anchor="middle">7</text><text x="1153.00" y="156.65" font-size="27" text-anchor="middle">31</text><text x="1210.50" y="149.15" font-size="27" text-anchor="middle">32</text><text x="1293.50" y="149.15" font-size="27" text-anchor="middle">33</text><text x="1357.25" y="158.90" font-size="27" text-anchor="middle">6</text><text x="1147.25" y="191.65" font-size="27" text-anchor="middle">24</text><text x="1218.00" y="198.40" font-size="27" text-anchor="middle">25</text><text x="1294.00" y="198.40" font-size="27" text-anchor="middle">26</text><text x="1377.75" y="198.40" font-size="27" text-anchor="middle">27</text><text x="1447.25" y="202.15" font-size="27" text-anchor="middle">5</text><text x="1234.50" y="230.90" font-size="27" text-anchor="middle">17</text><text x="1299.75" y="242.15" font-size="27" text-anchor="middle">9</text><text x="1378.50" y="248.40" font-size="27" text-anchor="middle">18</text><text x="1463.00" y="247.90" font-size="27" text-anchor="middle">19</text><text x="1403.50" y="288.90" font-size="27" text-anchor="middle">14</text><text x="1453.00" y="298.40" font-size="27" text-anchor="middle">1</text><text x="1524.75" y="250.90" font-size="27" text-anchor="middle">20</text><text x="1544.75" y="295.15" font-size="27" text-anchor="middle">2</text><text x="1634.75" y="247.90" font-size="27" text-anchor="middle">21</text><text x="1712.25" y="247.90" font-size="27" text-anchor="middle">22</text><text x="1628.50" y="297.90" font-size="27" text-anchor="middle">3</text><text x="1713.50" y="297.15" font-size="27" text-anchor="middle">15</text><text x="1574.75" y="165.90" font-size="27" text-anchor="middle">4</text><text x="1615.50" y="160.90" font-size="27" text-anchor="middle">34</text><text x="1626.50" y="198.40" font-size="27" text-anchor="middle">28</text><text x="1689.75" y="213.40" font-size="27" text-anchor="middle">29</text><text x="1796.50" y="209.65" font-size="27" text-anchor="middle">30</text><text x="1857.50" y="230.90" font-size="27" text-anchor="middle">11</text><text x="1796.00" y="248.40" font-size="27" text-anchor="middle">23</text><text x="1797.25" y="297.90" font-size="27" text-anchor="middle">16</text><text x="1877.25" y="305.15" font-size="27" text-anchor="middle">10</text><text x="1727.25" y="338.40" font-size="27" text-anchor="middle">12</text><text x="1777.25" y="340.40" font-size="27" text-anchor="middle">13</text>
<text x="1044.00" y="73.40" font-size="29.50" class="b" letter-spacing="-0.6">(c)</text>
<text x="1057.50" y="297.50" font-size="29.40" class="b">Legend</text>
<rect x="1045.00" y="355.50" width="38.50" height="19.50" fill="#FF0000" stroke="#7d7d66" stroke-width="0.8"/>
<text x="1112.50" y="354.50" font-size="26.90" class="b">New Construction Land Area(2014-2017)&gt;0.8km<tspan font-size="17" dy="-11">2</tspan></text>
<text x="1183.00" y="385.00" font-size="26.86" class="b">and Accumulate Deformation&gt;20mm</text>
<g transform="translate(1920.75,74.5)"><g><circle r="18.8" fill="#fff" stroke="#000" stroke-width="2.3"/><circle r="18.8" fill="none" stroke="#fff" stroke-width="0.5" stroke-dasharray="1.2 2.4"/><g transform="rotate(22.5)"><path d="M0,-13 L0,-7" stroke="#999" stroke-width="0.35"/><path d="M0,-20.2 L0,-21.6" stroke="#777" stroke-width="0.6"/></g><g transform="rotate(67.5)"><path d="M0,-13 L0,-7" stroke="#999" stroke-width="0.35"/><path d="M0,-20.2 L0,-21.6" stroke="#777" stroke-width="0.6"/></g><g transform="rotate(112.5)"><path d="M0,-13 L0,-7" stroke="#999" stroke-width="0.35"/><path d="M0,-20.2 L0,-21.6" stroke="#777" stroke-width="0.6"/></g><g transform="rotate(157.5)"><path d="M0,-13 L0,-7" stroke="#999" stroke-width="0.35"/><path d="M0,-20.2 L0,-21.6" stroke="#777" stroke-width="0.6"/></g><g transform="rotate(202.5)"><path d="M0,-13 L0,-7" stroke="#999" stroke-width="0.35"/><path d="M0,-20.2 L0,-21.6" stroke="#777" stroke-width="0.6"/></g><g transform="rotate(247.5)"><path d="M0,-13 L0,-7" stroke="#999" stroke-width="0.35"/><path d="M0,-20.2 L0,-21.6" stroke="#777" stroke-width="0.6"/></g><g transform="rotate(292.5)"><path d="M0,-13 L0,-7" stroke="#999" stroke-width="0.35"/><path d="M0,-20.2 L0,-21.6" stroke="#777" stroke-width="0.6"/></g><g transform="rotate(337.5)"><path d="M0,-13 L0,-7" stroke="#999" stroke-width="0.35"/><path d="M0,-20.2 L0,-21.6" stroke="#777" stroke-width="0.6"/></g><g transform="rotate(45)"><path d="M0,-16 L3.5,-6.8 L0,0Z" fill="#000" stroke="#000" stroke-width="0.3"/><path d="M0,-16 L-3.5,-6.8 L0,0Z" fill="#fff" stroke="#000" stroke-width="0.35"/></g><g transform="rotate(135)"><path d="M0,-16 L3.5,-6.8 L0,0Z" fill="#000" stroke="#000" stroke-width="0.3"/><path d="M0,-16 L-3.5,-6.8 L0,0Z" fill="#fff" stroke="#000" stroke-width="0.35"/></g><g transform="rotate(225)"><path d="M0,-16 L3.5,-6.8 L0,0Z" fill="#000" stroke="#000" stroke-width="0.3"/><path d="M0,-16 L-3.5,-6.8 L0,0Z" fill="#fff" stroke="#000" stroke-width="0.35"/></g><g transform="rotate(315)"><path d="M0,-16 L3.5,-6.8 L0,0Z" fill="#000" stroke="#000" stroke-width="0.3"/><path d="M0,-16 L-3.5,-6.8 L0,0Z" fill="#fff" stroke="#000" stroke-width="0.35"/></g><g transform="rotate(0)"><path d="M0,-22.8 L4.5,-7.8 L0,0Z" fill="#000" stroke="#000" stroke-width="0.3"/><path d="M0,-22.8 L-4.5,-7.8 L0,0Z" fill="#fff" stroke="#000" stroke-width="0.4"/></g><g transform="rotate(90)"><path d="M0,-22.8 L4.5,-7.8 L0,0Z" fill="#000" stroke="#000" stroke-width="0.3"/><path d="M0,-22.8 L-4.5,-7.8 L0,0Z" fill="#fff" stroke="#000" stroke-width="0.4"/></g><g transform="rotate(180)"><path d="M0,-22.8 L4.5,-7.8 L0,0Z" fill="#000" stroke="#000" stroke-width="0.3"/><path d="M0,-22.8 L-4.5,-7.8 L0,0Z" fill="#fff" stroke="#000" stroke-width="0.4"/></g><g transform="rotate(270)"><path d="M0,-22.8 L4.5,-7.8 L0,0Z" fill="#000" stroke="#000" stroke-width="0.3"/><path d="M0,-22.8 L-4.5,-7.8 L0,0Z" fill="#fff" stroke="#000" stroke-width="0.4"/></g><text x="0" y="-25.6" font-size="12" text-anchor="middle">N</text><text x="0" y="33.4" font-size="12" text-anchor="middle">S</text><text x="23.6" y="3.8" font-size="12">E</text><text x="-23" y="3.9" font-size="12" text-anchor="end">W</text></g></g>
</g>
<g id="pd">
<rect x="1045.20" y="469.50" width="917.80" height="353.50" fill="#fff" stroke="#000" stroke-width="2.2"/><path d="M1273.00,469.50 v-7.8 M1273.00,823.00 v7.8" stroke="#000" stroke-width="1.9"/><path d="M1832.00,469.50 v-7.8 M1832.00,823.00 v7.8" stroke="#000" stroke-width="1.9"/><path d="M1045.20,548.75 h-7.8 M1963.00,548.75 h7.8" stroke="#000" stroke-width="1.9"/><path d="M1045.20,747.00 h-7.8 M1963.00,747.00 h7.8" stroke="#000" stroke-width="1.9"/><text x="1273.80" y="454.20" font-size="26.6" text-anchor="middle">103°39'E</text><text x="1273.80" y="855.50" font-size="26.6" text-anchor="middle">103°39'E</text><text x="1832.80" y="454.20" font-size="26.6" text-anchor="middle">103°54'E</text><text x="1832.80" y="855.50" font-size="26.6" text-anchor="middle">103°54'E</text><text transform="translate(1030.20,549.25) rotate(-90)" font-size="26.6" text-anchor="middle">36°8'N</text><text transform="translate(1995.50,549.25) rotate(-90)" font-size="26.6" text-anchor="middle">36°8'N</text><text transform="translate(1030.20,747.50) rotate(-90)" font-size="26.6" text-anchor="middle">36°3'N</text><text transform="translate(1995.50,747.50) rotate(-90)" font-size="26.6" text-anchor="middle">36°3'N</text>
<g transform="translate(1003.500,440.800) scale(1.0000)"><g clip-path="url(#oc)"><rect x="0" y="0" width="1000" height="400" fill="#fff"/><path fill="#005CE6" d="M648.3,198.7L648.9,198.0L649.7,198.8L649.0,200.0ZM631.3,238.2L631.2,238.8L630.8,238.8L630.8,238.3ZM267.5,86.9L268.0,87.9L266.9,87.9L266.6,86.7ZM283.7,126.3L285.1,125.6L288.0,124.9L289.9,127.7L288.8,129.7L285.0,129.4ZM504.0,238.8L502.9,238.0L502.8,237.3L503.1,236.7L503.9,237.5L504.1,238.2ZM864.3,292.7L863.3,292.5L864.0,291.9L864.8,292.2ZM125.9,135.6L126.0,136.3L125.3,136.2L125.5,135.4ZM493.8,211.3L494.3,208.7L496.2,210.4L495.3,212.3ZM240.3,172.6L240.1,172.1L240.4,170.9L241.3,171.3ZM731.0,228.7L731.6,227.9L732.1,228.4L731.7,229.2ZM434.0,288.8L433.8,290.8L432.1,289.8L432.7,288.1ZM398.5,271.0L398.2,269.8L399.4,269.3L399.5,270.7ZM622.0,192.2L619.7,191.9L620.4,189.9L621.6,189.2L622.7,189.2L623.2,191.7ZM387.7,281.1L386.6,281.6L385.8,281.5L386.2,280.7L387.5,279.9L388.1,280.4ZM871.5,308.1L871.5,310.2L870.3,311.4L869.4,310.6ZM235.0,138.3L234.9,139.2L234.0,139.5L234.1,138.7ZM813.9,246.4L815.8,247.3L813.9,248.8L812.5,247.8ZM624.6,185.6L625.3,185.9L624.8,186.4L624.3,186.1ZM569.4,259.1L569.3,260.4L568.6,260.8L567.2,260.6L567.1,259.7L568.6,258.7ZM219.9,131.1L219.2,131.6L218.4,131.2L219.0,130.2ZM340.0,180.1L337.1,179.8L336.7,179.1L337.3,177.4L339.7,178.2ZM606.8,191.7L607.6,190.3L608.5,190.1L610.0,190.3L610.0,191.3L607.8,192.2ZM817.2,220.3L816.5,221.3L815.2,220.2L816.2,219.3ZM484.5,228.6L484.9,230.2L483.5,230.3L482.6,229.4ZM778.1,222.4L777.1,223.2L775.9,222.2L776.9,221.2ZM508.9,239.7L509.0,240.7L508.4,241.4L507.6,241.1L507.2,240.6L507.9,239.7ZM278.5,152.4L278.4,151.6L279.0,151.5L279.2,152.3ZM680.6,203.8L679.5,202.9L680.3,202.2L681.4,202.6ZM319.4,225.9L319.1,226.0L318.9,225.8L318.8,225.5L319.1,225.3L319.6,225.6ZM382.5,246.7L383.9,247.1L383.8,247.8L383.0,248.2L381.5,247.5ZM844.4,270.7L844.7,270.4L845.0,270.7L844.8,271.0ZM218.5,140.7L219.5,140.7L219.0,141.7L217.9,142.6L217.2,142.2L217.7,140.9ZM353.0,212.9L352.7,213.9L352.2,213.7L352.1,212.9ZM764.5,237.3L764.4,237.9L763.9,237.8L763.7,237.3L764.0,237.1ZM582.3,144.2L582.6,143.3L584.6,144.3L583.7,145.6ZM139.6,139.9L139.6,139.6L140.4,139.5L140.4,140.2L139.9,140.4ZM272.2,199.1L269.0,199.1L268.9,197.7L271.3,197.3ZM239.3,98.5L239.2,100.4L238.0,101.8L237.8,100.0ZM291.2,123.9L290.8,125.0L289.3,125.0L289.0,123.3L289.9,122.5ZM759.4,300.9L758.7,302.7L756.5,302.4L757.4,301.2ZM359.9,177.6L360.1,178.0L359.6,178.5L359.3,178.1ZM750.6,228.1L750.6,229.2L748.8,229.6L747.5,229.0L748.8,228.4ZM831.0,314.0L829.7,315.6L828.3,314.4L828.6,311.6L830.3,310.8L831.8,311.3ZM341.9,173.5L341.6,172.9L342.1,171.4L342.6,172.0L342.9,172.8L342.2,174.5ZM266.2,213.8L266.5,212.5L267.8,213.4L268.0,214.3ZM617.0,212.2L614.5,209.6L616.7,208.2L618.9,209.0ZM339.8,194.0L339.7,194.8L339.4,195.4L338.9,194.9L338.8,194.5L339.1,194.0ZM508.3,277.9L508.0,278.9L506.9,277.6L507.7,277.0ZM283.9,200.2L283.6,199.7L283.9,199.3L284.4,199.3L284.5,199.8L284.3,200.4ZM866.9,224.6L866.6,225.0L865.9,224.6L866.5,224.1ZM609.7,208.6L609.7,206.5L613.2,205.2L613.9,207.2ZM627.2,210.9L627.8,211.1L627.6,211.7L626.8,211.8ZM230.2,133.6L230.8,132.6L231.9,131.5L232.0,133.0L231.1,133.8ZM625.1,295.2L626.0,295.7L625.8,296.5L625.0,296.2ZM482.0,240.9L479.2,241.9L478.1,240.7L480.2,239.8ZM661.0,239.6L660.1,239.8L660.0,239.2L660.4,238.7L660.8,238.2L661.4,239.0ZM421.5,165.4L421.1,165.2L421.0,164.6L421.5,164.8L421.9,165.3ZM422.8,219.3L423.9,220.8L422.7,222.1L421.4,222.5L421.1,220.8L421.3,219.1ZM236.1,125.2L236.1,125.9L235.5,125.7L235.6,125.2ZM241.9,111.3L245.1,111.7L243.6,113.0L241.5,112.7ZM386.8,248.7L386.8,250.6L385.1,252.6L383.9,252.1L385.0,249.3ZM281.9,201.4L282.4,201.7L282.4,202.1L281.9,202.3L281.5,202.1L281.7,201.8ZM739.1,215.4L739.6,214.7L740.6,214.9L740.0,215.7ZM375.8,238.1L377.1,232.8L379.0,233.9L377.9,237.5ZM479.2,263.0L479.9,263.3L479.3,264.4L478.9,263.6ZM699.7,200.6L699.2,202.9L696.6,203.6L696.8,201.4ZM651.8,310.0L652.1,309.8L652.5,309.9L652.4,310.3L652.2,310.4L651.7,310.5ZM143.8,135.2L147.2,136.5L149.2,139.8L149.2,142.7L147.1,142.7L144.5,139.6ZM516.7,218.5L517.0,218.8L516.9,219.2L516.7,219.4L516.4,219.1L516.2,218.8ZM854.4,253.1L855.5,253.4L855.4,254.2L854.4,254.2ZM556.5,294.3L555.6,295.3L553.7,295.0L555.5,293.9ZM831.0,195.8L832.0,194.7L833.4,195.3L831.9,196.5ZM644.4,258.6L645.1,258.6L645.4,259.1L645.1,259.6L644.6,259.6L644.2,259.2ZM109.8,139.6L112.4,137.8L112.3,141.2L110.3,142.8ZM859.5,254.4L859.4,251.0L861.7,252.1L861.6,254.8ZM627.9,214.6L627.6,214.1L628.3,213.7L628.6,214.2ZM392.4,258.6L391.5,258.8L391.9,257.5L392.5,257.2ZM297.1,136.0L297.6,134.2L299.6,133.7L298.9,136.4ZM628.6,190.4L628.4,189.5L629.9,188.8L631.5,188.8L631.4,189.8L630.0,190.9ZM310.2,225.0L310.4,224.7L310.9,224.7L311.0,224.9L310.9,225.5L310.4,225.5ZM410.3,216.3L411.1,216.4L410.5,216.8L409.8,217.2L409.3,217.0ZM343.5,209.4L343.9,208.6L344.4,208.9L343.9,209.7ZM866.5,200.6L865.0,200.2L864.6,198.9L866.6,198.7L868.2,199.4L868.0,200.5ZM299.0,183.6L299.9,184.2L299.9,185.2L298.9,185.5L298.6,184.1ZM653.9,226.2L652.7,226.6L652.9,225.9L653.2,225.5L654.4,225.2L654.4,225.6ZM380.5,264.5L383.6,261.5L384.9,262.9L382.7,266.2ZM388.4,276.7L389.2,276.6L389.4,277.1L388.8,277.6L388.1,277.1ZM749.7,209.8L749.9,207.9L752.5,206.8L751.9,209.5ZM394.5,254.4L394.2,254.3L394.0,253.9L393.9,252.9L394.5,253.0L394.7,253.2ZM600.8,321.7L600.1,321.9L599.7,321.4L600.4,321.0ZM258.7,119.3L260.4,121.0L259.6,122.3L257.6,120.4ZM326.5,183.2L326.4,182.4L327.4,182.6L327.8,183.3L327.7,184.6L327.0,184.2ZM402.6,283.4L403.1,283.6L402.9,284.1L402.4,284.2ZM409.4,140.6L409.1,141.2L408.7,140.7L409.1,140.2ZM758.0,228.5L758.6,227.8L759.7,228.1L759.6,228.8L758.1,229.1ZM862.8,209.9L863.1,209.5L864.0,209.8L864.1,210.4L863.2,211.0L862.8,210.7ZM230.4,157.6L230.4,158.1L229.9,158.1L229.3,157.7L229.7,157.4ZM270.2,139.2L268.7,137.5L269.7,136.7L270.9,137.9ZM398.6,144.8L399.3,144.6L400.0,144.9L400.4,145.6L399.4,146.0L398.4,145.6ZM413.5,146.1L414.5,146.1L415.3,146.9L414.8,147.7L413.5,147.4ZM607.1,278.3L607.7,277.1L610.2,276.9L612.0,277.9L610.5,278.7ZM888.7,281.9L888.2,282.2L888.1,281.7L888.5,281.1L888.9,281.1ZM393.3,177.2L392.7,179.9L391.7,180.5L391.9,178.2ZM453.6,277.5L453.7,279.1L453.1,279.6L452.2,278.6L452.0,277.3L452.7,276.9ZM165.5,154.4L165.5,153.7L166.3,153.6L166.3,154.4ZM650.1,181.7L650.6,181.3L650.9,181.9L650.4,182.2ZM358.3,262.5L358.4,262.1L358.9,261.7L359.3,262.1L359.2,262.7ZM291.6,107.6L291.0,106.3L292.5,105.2L292.8,106.7ZM213.9,130.8L212.5,131.2L212.1,130.8L213.5,130.3ZM175.1,84.2L175.9,84.1L176.3,84.4L175.8,84.7L175.3,84.8ZM864.5,257.1L863.7,256.3L863.3,254.3L864.5,255.0L865.0,256.4ZM683.1,250.2L681.7,250.2L681.6,249.5L682.6,249.7ZM227.1,131.9L226.9,133.0L226.0,132.4L226.5,131.7ZM376.6,192.4L376.7,194.1L373.1,194.1L373.1,192.6ZM831.1,244.0L831.4,243.3L832.1,243.5L832.1,244.3ZM600.4,234.9L599.7,235.8L598.6,234.6L599.7,234.0ZM644.9,211.1L645.4,211.3L645.1,211.7L644.7,211.7L644.6,211.3ZM840.4,187.7L841.3,186.9L841.8,188.4L841.3,189.1ZM551.7,278.9L552.3,277.2L553.6,277.1L553.2,279.1ZM463.4,167.6L464.2,167.6L464.6,168.1L463.9,168.5L462.9,168.2ZM276.0,94.7L277.7,91.9L279.6,92.9L278.1,95.0ZM254.1,125.9L254.5,126.2L253.9,127.3L253.6,126.5ZM216.5,126.5L217.1,125.1L217.7,125.4L218.1,127.3L217.5,128.1L217.0,128.0ZM368.2,244.4L368.9,244.6L369.2,245.8L368.2,246.2ZM254.4,95.6L253.8,94.6L255.1,94.3L255.6,95.5ZM611.2,281.7L611.0,281.2L611.1,280.6L611.7,280.6L611.6,281.3ZM635.2,196.6L635.1,197.4L634.3,197.1L633.0,196.5L633.7,195.8L634.4,195.7ZM185.5,149.0L184.7,148.7L184.5,146.6L185.5,145.7L186.2,147.7ZM368.8,196.2L370.7,197.7L367.2,198.7L366.1,197.9ZM221.4,77.5L221.4,75.7L223.0,77.4L222.4,78.9ZM556.9,236.9L557.2,237.5L556.8,237.9L555.9,238.2L555.7,238.0L556.2,237.4ZM334.1,156.5L334.0,157.6L333.6,157.1L333.4,156.3ZM254.4,101.0L253.6,100.7L253.5,99.8L254.3,99.1L255.5,99.8L255.2,100.5ZM617.8,157.0L618.4,157.5L618.2,157.9L617.6,157.7L616.9,157.3L617.4,156.9ZM608.0,219.4L607.6,220.4L607.0,220.1L606.6,219.8L606.9,219.2L607.8,219.0ZM831.2,191.8L831.8,192.0L832.1,192.6L831.6,192.8L830.9,192.7L830.9,192.2ZM842.0,271.8L838.4,272.0L840.8,268.4L844.9,268.8ZM509.7,226.8L509.4,228.1L508.7,227.8L508.4,226.7ZM386.9,227.9L387.3,227.8L388.1,227.7L387.9,228.7L387.3,229.2L386.7,229.0ZM559.6,232.5L564.2,237.1L562.3,239.2L558.0,236.8ZM756.3,245.1L756.9,245.6L756.4,246.0L756.0,245.7ZM839.1,279.2L840.0,279.3L839.1,281.5L838.4,280.6ZM220.0,82.8L220.0,81.9L220.7,81.9L221.1,82.9L220.6,83.2ZM359.0,238.8L359.4,238.0L360.4,238.6L359.6,239.6ZM664.4,289.4L665.0,289.0L665.4,289.7L664.8,290.1ZM220.5,143.8L221.0,143.7L221.7,143.9L221.4,144.5L220.5,144.5L220.4,144.1ZM856.6,234.8L857.3,234.0L857.5,235.3L857.1,235.7L856.7,235.5ZM216.0,95.9L213.6,97.5L214.5,93.9L217.3,92.0L218.2,93.3ZM848.2,229.7L848.6,230.2L848.0,230.6L847.8,230.1ZM384.2,228.3L383.7,228.5L383.0,228.4L383.3,227.9L383.8,227.9ZM790.6,330.7L790.2,331.1L789.9,331.2L789.4,331.2L790.0,330.4L790.6,329.9ZM553.8,271.7L554.3,271.2L554.8,271.7L554.3,272.0ZM356.5,177.7L356.4,179.1L353.6,180.1L354.9,178.2ZM305.2,145.4L305.9,146.5L305.0,146.6L304.5,145.7ZM801.1,319.7L800.4,318.4L802.3,318.1L802.8,319.1ZM810.5,239.6L812.3,239.1L812.2,240.6L811.3,241.0ZM403.4,178.0L402.9,178.4L402.4,177.9L403.1,177.5ZM498.0,238.9L497.2,239.0L497.3,238.4L498.0,238.4ZM298.9,134.6L298.1,134.2L298.4,133.7L299.2,133.6L299.7,134.6ZM766.1,237.4L766.0,236.2L767.3,236.0L768.0,237.0ZM489.8,241.6L488.3,240.8L488.2,239.4L489.4,240.0ZM718.9,217.9L719.3,217.5L720.2,217.9L719.4,218.2ZM263.9,137.4L264.9,138.4L264.2,139.5L263.2,139.0ZM364.2,176.2L364.9,178.9L360.2,176.3L360.2,174.6ZM514.6,218.0L515.3,218.2L515.3,219.0L514.7,218.7ZM273.0,123.1L272.7,122.8L273.2,121.7L274.0,122.2L273.7,123.0ZM729.8,205.2L730.1,205.7L729.7,206.1L729.3,206.0L729.1,205.4ZM412.4,232.9L413.3,234.4L412.1,235.4L411.8,233.4ZM205.2,125.8L205.6,125.2L206.1,125.9L205.7,126.5ZM267.1,101.4L265.2,99.2L267.9,95.8L272.5,94.3L271.7,98.8ZM882.0,272.4L881.2,272.3L882.3,271.2L882.7,271.6ZM463.9,250.7L464.3,250.4L464.6,250.8L464.3,251.5L464.0,251.6ZM630.8,199.8L630.0,201.5L628.9,201.9L628.4,201.1L629.2,199.7L629.7,198.8ZM160.3,141.4L161.7,141.5L161.9,143.1L160.9,143.6L159.9,142.9ZM233.5,105.3L232.1,105.3L232.5,104.1L233.8,104.0ZM252.6,169.5L251.9,170.4L251.0,169.8L251.7,168.7ZM850.6,260.5L851.7,260.1L852.7,260.7L850.8,261.9L850.0,261.5ZM368.8,126.0L369.1,125.5L369.7,125.7L369.3,126.3ZM148.6,133.9L150.1,133.5L149.9,135.2L148.4,135.3ZM783.0,317.4L783.6,319.0L783.2,320.6L781.8,320.8L781.8,319.3ZM655.9,296.7L656.5,296.1L657.1,296.0L657.0,296.7L656.6,297.2L655.8,297.1ZM391.7,280.6L391.0,280.7L390.5,280.2L390.7,279.6L391.8,279.5L392.0,280.2ZM124.5,143.8L123.6,145.2L122.8,144.6L123.0,144.0L123.5,143.2ZM252.1,110.4L252.0,111.2L251.5,111.9L250.3,111.2L250.8,110.0ZM865.2,276.7L865.1,275.9L865.2,275.0L865.7,274.9L866.1,275.4L865.8,276.6ZM209.3,138.6L211.6,138.3L210.6,139.3L208.4,139.7ZM229.5,148.6L230.4,148.9L230.2,149.4L229.4,149.0ZM832.3,211.0L832.5,211.9L831.3,212.2L831.4,210.6ZM576.4,277.0L576.5,277.4L575.9,277.5L576.0,277.0ZM154.5,141.1L155.9,140.1L155.8,143.3L154.2,145.1L153.8,143.6ZM301.0,193.8L299.9,194.8L299.1,193.6L300.7,192.7ZM292.4,104.2L291.8,104.4L290.2,103.4L291.0,102.4ZM201.9,83.6L201.2,84.3L200.0,83.2L199.9,82.4L200.9,81.1L201.6,82.0ZM806.3,259.0L806.6,260.1L805.9,259.8L805.8,259.4ZM828.9,223.2L827.8,223.2L827.6,222.4L828.5,222.4ZM766.7,225.0L765.7,226.0L765.6,225.3L765.9,224.8L766.7,224.6ZM218.9,80.9L218.3,80.6L217.9,80.0L218.4,79.7L219.0,80.2ZM307.2,217.8L305.9,219.0L306.0,217.8L307.3,216.7ZM895.6,274.4L895.3,274.9L894.9,274.9L894.7,274.2ZM340.2,227.0L339.8,226.9L339.5,226.6L339.7,226.3L340.0,226.0L340.3,226.5ZM895.0,267.6L895.5,268.8L895.3,269.7L894.0,268.7ZM652.5,268.7L653.0,268.8L652.6,269.6L652.1,269.1ZM646.3,211.3L646.9,211.4L646.9,211.8L646.4,212.1ZM318.6,235.5L319.4,235.2L319.2,236.1L318.4,236.5ZM797.8,232.7L797.1,233.8L795.6,232.5L796.5,231.5ZM268.1,90.1L269.2,94.0L265.2,93.0L262.4,89.9L263.1,87.4L266.1,88.5ZM456.6,257.9L456.9,257.7L457.3,258.0L457.5,258.4L457.1,258.7L456.4,258.3ZM783.2,240.1L784.1,241.1L783.6,242.2L782.3,241.0ZM424.0,240.7L425.4,240.8L425.5,241.7L424.5,242.0L423.8,241.3ZM673.6,184.3L673.1,186.2L671.4,185.8L671.2,183.9L672.6,182.3L673.6,183.0ZM812.5,245.7L812.0,246.9L810.4,245.3L810.7,243.9ZM260.3,144.9L260.8,145.5L260.0,146.6L259.0,146.9L259.1,145.2ZM689.8,258.8L689.7,260.1L689.2,260.6L688.8,261.1L688.7,260.0L688.8,259.1ZM186.0,93.6L184.3,97.1L182.1,96.8L183.5,93.8ZM313.4,230.7L312.9,230.2L313.4,230.0L313.7,230.3ZM796.5,251.3L794.3,250.4L794.0,247.2L796.5,247.8ZM672.0,212.0L673.1,213.6L671.4,214.2L671.0,213.0ZM251.3,78.6L253.1,77.0L254.8,77.0L254.6,78.4L252.7,79.0ZM841.7,272.5L841.5,273.6L839.8,274.4L840.1,272.9ZM878.9,258.1L878.9,257.7L879.4,257.6L879.6,257.9L879.7,258.3L879.1,258.5ZM554.9,248.4L554.8,247.5L555.4,246.6L557.2,246.2L556.9,247.5ZM134.0,150.6L134.9,149.8L137.3,150.4L137.3,151.5L135.5,151.6ZM353.7,204.7L352.9,204.2L353.6,203.5L354.2,203.1L354.5,204.1ZM647.0,300.3L646.0,298.9L648.6,297.3L649.3,298.9ZM756.0,216.6L758.3,217.4L757.7,218.3L756.1,217.6ZM834.6,253.1L835.5,253.0L836.0,253.5L835.5,254.3L834.7,253.7ZM294.1,141.0L293.8,139.3L295.1,139.5L295.2,141.0ZM274.9,131.0L274.5,130.8L274.7,130.3L275.5,130.0L276.1,130.3L275.9,130.9ZM710.0,243.2L711.2,243.7L711.5,245.5L710.5,245.4L709.4,243.5ZM604.9,242.6L603.9,241.9L604.2,241.1L605.1,241.8ZM356.2,163.7L355.1,162.6L356.2,161.9L357.5,162.3L357.4,163.1ZM355.4,184.6L355.6,182.9L357.5,182.5L359.4,184.1L358.5,185.1L357.2,185.3ZM820.3,214.7L819.3,219.8L816.7,219.5L817.3,216.1ZM704.4,242.2L702.0,241.3L702.1,240.1L705.4,239.2L706.4,241.2ZM598.1,203.0L597.9,202.0L598.4,201.4L599.2,201.7L599.4,202.3L599.2,202.8ZM157.4,184.9L157.7,183.8L158.5,184.8L158.1,185.4ZM709.2,234.2L709.4,233.4L709.8,233.6L710.0,234.4L709.3,234.8ZM894.6,279.4L894.7,279.9L894.3,280.0L894.0,279.3ZM427.8,273.5L428.4,274.3L428.7,275.2L427.8,274.8L427.2,273.9ZM770.8,229.7L770.5,230.2L769.9,230.2L769.5,229.4L770.0,229.3ZM611.2,164.9L611.0,163.7L611.9,163.3L612.3,164.4ZM597.2,193.6L597.8,194.4L596.0,194.9L595.3,194.6L595.6,194.0ZM850.9,256.9L850.8,255.1L851.9,253.9L853.3,254.4L853.1,255.8L852.7,256.9ZM516.5,288.7L516.7,289.4L516.2,289.5L515.6,289.0ZM385.4,211.0L386.3,210.8L386.5,211.6L385.7,211.8ZM857.0,260.3L856.3,260.4L856.0,259.7L856.6,259.2L857.3,259.5L857.7,260.1ZM335.6,173.5L332.6,178.3L331.6,175.4L334.2,172.5ZM775.7,224.3L775.1,224.6L775.1,223.8L775.6,223.3ZM206.2,140.6L207.2,140.5L208.1,141.2L207.2,141.7ZM656.9,221.1L657.2,220.4L657.9,221.4L657.3,221.9ZM690.7,262.4L690.0,261.4L690.0,260.6L691.2,259.2L691.8,260.3L692.1,261.1ZM775.9,228.3L775.9,226.3L777.6,225.9L778.1,227.4L776.8,229.4ZM143.2,150.6L148.4,152.9L147.6,154.3L144.8,153.5ZM481.2,243.3L480.8,244.0L480.1,243.4L480.6,242.9ZM369.1,232.0L368.0,230.9L369.3,230.0L370.5,231.1ZM245.7,78.1L245.2,78.1L245.1,77.7L245.7,77.7ZM609.8,271.4L609.9,270.6L611.1,270.7L610.6,271.6ZM431.0,280.2L430.9,280.9L430.3,281.2L430.3,280.3L430.5,280.0ZM422.1,173.4L422.3,172.8L423.1,171.9L424.4,172.9L424.2,174.1L423.2,174.3ZM155.5,191.9L154.9,191.9L155.2,191.5L155.5,191.5L155.7,191.6ZM432.6,253.9L431.9,253.5L432.4,252.9L433.0,253.3ZM395.6,283.8L394.4,282.3L394.1,279.8L398.4,279.0L398.1,282.0ZM784.6,313.5L783.5,313.3L783.5,311.7L784.5,312.1ZM694.6,272.7L691.9,273.1L692.8,271.2L694.5,271.3ZM824.2,270.5L822.8,271.2L822.2,270.7L823.0,269.3L823.9,269.6ZM568.2,258.8L568.6,259.6L567.7,260.4L566.4,259.7L566.1,258.8ZM868.5,260.3L865.8,261.2L865.8,258.3L868.4,258.5ZM161.4,178.2L161.1,178.8L160.4,178.4L160.9,177.5ZM304.2,185.3L304.0,185.6L303.5,185.6L303.6,185.1L304.1,184.9ZM381.0,240.5L381.6,239.9L381.9,240.4L381.6,241.2L381.1,241.2ZM862.1,256.0L861.8,255.9L861.8,255.1L862.4,254.6L862.5,255.1L862.6,255.6ZM475.8,292.6L475.0,291.9L474.9,291.2L476.0,291.6L476.4,292.4ZM606.7,220.8L605.2,220.7L605.2,219.4L606.6,219.3ZM756.8,300.8L757.1,299.5L758.0,300.7L758.0,301.6ZM208.0,113.6L205.3,111.4L205.1,109.3L208.1,110.1L208.5,111.4ZM446.4,214.9L447.4,213.3L448.3,214.4L447.2,215.5ZM749.5,312.0L749.0,311.1L749.1,309.2L749.7,309.4L750.6,309.6L750.5,310.9ZM222.2,103.9L223.0,104.6L222.4,106.0L221.4,105.0ZM853.0,257.9L854.0,256.7L854.5,258.0L854.0,259.3ZM175.6,92.5L175.6,90.8L177.5,91.6L177.6,94.1ZM640.3,182.4L640.6,181.7L641.1,182.1L640.8,182.7ZM788.9,306.7L790.0,308.0L787.3,309.3L787.2,307.3ZM260.1,100.3L260.8,100.1L261.3,100.8L260.6,101.3L260.0,101.1ZM397.8,247.5L398.1,248.7L397.1,249.1L396.7,248.1L396.9,247.5ZM717.2,206.9L716.9,208.3L716.0,208.8L715.5,208.3L716.2,206.9ZM148.1,156.0L147.7,155.0L148.2,154.1L148.6,155.2ZM437.4,262.6L436.7,262.1L436.3,261.2L436.6,260.2L437.1,260.1L437.7,261.0ZM618.9,248.0L618.2,246.7L620.5,246.5L622.3,247.4L621.7,248.2L620.8,248.8ZM786.0,332.6L786.3,334.4L784.7,335.5L783.6,333.3L783.6,331.2L785.3,331.1ZM771.8,235.5L772.2,235.5L772.5,235.6L772.6,236.1L772.2,236.2L771.9,235.9ZM312.9,201.6L314.2,200.3L314.9,202.3L313.9,203.6ZM310.0,186.4L310.1,185.7L310.5,185.8L310.6,186.5L310.3,186.6ZM379.6,284.0L379.1,283.2L380.0,282.3L381.1,283.4ZM910.3,283.6L910.7,284.0L910.6,284.5L910.3,284.4L909.8,284.1L910.0,283.8ZM859.5,223.7L859.1,224.1L858.0,223.9L857.9,223.2L858.8,223.0L859.8,223.2ZM661.0,226.7L660.4,226.9L660.2,226.7L660.7,226.3L661.0,226.2ZM652.9,195.6L651.8,195.1L652.6,194.3L653.6,194.2L654.1,194.6L654.3,195.6ZM453.0,209.9L453.5,210.5L453.3,211.1L452.7,210.6ZM529.7,280.8L530.3,280.5L530.9,280.5L530.6,281.3L530.0,281.4ZM158.6,145.7L158.2,145.2L159.3,144.8L159.5,145.5ZM792.8,239.9L792.1,239.5L793.3,239.0L793.6,239.8ZM872.6,276.0L871.4,276.2L871.2,275.3L872.0,274.5ZM317.6,111.6L316.8,113.0L315.3,111.4L315.9,109.3ZM184.9,81.8L185.4,81.9L185.4,82.5L184.8,82.6ZM622.4,184.8L621.2,185.4L619.7,184.2L619.8,182.8L621.0,181.8L621.7,183.2ZM220.2,147.9L219.9,146.2L221.3,147.2L221.2,148.9ZM627.0,171.2L630.0,167.7L633.2,169.3L630.8,172.6ZM186.5,93.2L186.3,93.5L186.0,93.6L185.8,93.2L185.9,92.9L186.5,92.7ZM665.4,257.5L667.7,258.7L666.7,260.7L665.2,260.5ZM290.6,137.2L290.5,137.8L290.2,137.9L289.5,137.6L289.7,137.1L290.2,137.2ZM183.4,79.6L185.0,78.9L186.8,80.3L185.6,81.6ZM704.0,315.0L705.1,315.5L704.6,316.4L703.8,315.9ZM729.1,269.3L728.8,270.1L727.4,271.2L726.8,270.2L728.2,269.0ZM213.4,156.2L213.4,155.7L213.5,155.1L214.1,154.7L214.7,154.9L214.4,155.3ZM397.8,185.6L397.9,186.6L397.1,186.8L396.5,186.2L396.7,185.6ZM352.0,198.3L352.4,197.4L353.4,197.4L353.2,198.8L352.2,198.9ZM314.4,167.6L312.7,167.0L313.9,166.2L315.8,166.6ZM890.9,292.0L890.8,288.4L892.9,287.8L892.8,290.8ZM482.2,259.2L482.6,260.1L482.6,261.0L481.4,261.7L480.7,261.2L480.4,259.5ZM338.7,197.3L337.3,197.1L337.0,195.6L337.9,195.4ZM711.1,217.6L711.9,214.1L713.5,215.9L712.6,217.5ZM96.9,154.0L96.4,154.6L96.2,154.2L96.6,153.8ZM646.9,166.8L648.5,163.1L650.8,162.3L652.8,162.6L651.2,168.2L648.4,169.8ZM113.8,175.9L114.0,175.4L114.5,175.5L114.6,176.3L114.1,176.4ZM639.2,236.4L638.3,235.8L639.5,234.7L641.1,234.9ZM310.3,134.8L309.5,134.8L309.1,134.1L310.1,134.1ZM187.6,85.0L187.2,84.9L187.2,84.4L187.6,84.2L187.8,84.7ZM404.2,189.8L404.5,189.2L405.0,189.3L404.6,190.1ZM209.9,99.4L208.7,101.3L205.7,98.7L206.8,96.0ZM279.5,93.2L279.9,93.7L280.0,94.3L279.1,93.9L279.0,93.7ZM206.0,87.6L205.3,88.4L205.1,87.9L205.4,86.8L205.8,86.8L206.2,86.8ZM898.0,300.5L898.7,301.3L898.6,301.8L897.7,301.4L897.1,300.9L897.2,300.4ZM280.8,235.6L281.3,236.1L280.5,236.5L280.0,235.9ZM421.5,246.0L420.6,245.6L420.3,245.0L421.5,245.2ZM166.9,83.3L166.7,81.7L167.5,81.2L167.8,83.2ZM224.7,80.1L225.7,80.2L226.1,81.7L224.9,81.9ZM399.3,176.2L398.8,176.7L397.8,176.0L397.4,175.3L398.2,174.8L399.0,175.3ZM283.0,189.1L283.5,189.9L282.6,190.2L282.4,189.3ZM278.9,112.7L279.8,112.0L279.9,112.9L279.1,113.5ZM558.0,257.4L558.8,257.5L559.0,258.2L558.7,258.8L557.7,258.2ZM219.5,83.4L219.8,84.1L220.1,85.2L219.5,85.2L219.3,84.3ZM693.1,206.6L692.7,206.8L692.3,206.1L692.8,205.7L693.5,206.0ZM333.5,181.2L334.3,181.2L334.0,182.1L333.5,181.9ZM279.3,100.1L279.1,99.4L280.0,99.6L279.9,100.1ZM451.4,168.2L451.2,167.1L451.7,166.7L452.6,166.9L453.2,167.9L452.4,168.5ZM384.6,177.8L384.6,177.3L385.2,177.5L385.5,177.9L385.1,178.3L384.9,178.2ZM310.7,120.0L309.8,119.9L310.0,118.9L310.9,118.1L311.8,117.7L311.7,118.7ZM583.4,196.8L584.7,196.4L584.4,198.7L583.6,198.4ZM270.5,93.9L271.4,93.8L271.9,95.5L270.9,95.9ZM268.2,132.4L265.7,131.9L264.9,128.3L267.2,128.8ZM312.9,90.8L312.5,91.6L311.9,91.3L312.3,90.7ZM708.1,220.9L708.7,218.8L710.0,218.3L709.7,220.2ZM769.0,333.6L769.8,333.5L769.8,334.0L769.2,334.1ZM393.6,249.4L393.2,250.8L392.3,250.2L392.3,248.6L393.3,248.2ZM387.9,200.7L389.1,201.4L389.1,202.0L387.5,201.5ZM262.1,81.7L262.8,80.8L263.6,81.9L263.3,82.5ZM862.1,275.7L862.1,275.0L863.6,274.5L863.2,275.6ZM370.3,233.5L369.3,233.8L368.9,233.0L370.4,232.8ZM305.6,166.7L305.6,164.9L306.4,164.3L306.6,166.3ZM409.7,291.9L410.1,292.5L409.6,292.7L408.7,292.7L408.4,292.2L409.1,291.7ZM892.7,273.1L892.3,272.5L892.9,272.1L893.2,272.7ZM479.0,237.1L479.0,236.0L479.9,235.7L480.4,236.6L480.2,237.8ZM793.5,207.2L792.1,206.5L793.1,205.7L794.3,205.6L795.2,206.3L794.5,206.9ZM716.6,212.5L718.5,211.3L720.2,214.5L717.4,215.0ZM250.0,122.6L251.3,122.2L252.4,123.4L250.9,124.3ZM620.9,212.1L621.4,212.2L621.1,212.9L620.7,213.1L620.3,212.7L620.6,212.2ZM826.7,272.9L826.7,273.3L826.0,273.1L825.9,272.5L826.4,272.4ZM234.9,77.5L235.1,77.0L235.6,77.3L235.7,77.5L235.5,77.9L234.9,77.7ZM444.0,259.5L442.5,259.2L442.3,258.5L443.4,258.4ZM260.1,188.9L260.4,188.2L261.2,188.1L261.4,188.6ZM537.6,217.4L537.5,218.7L535.8,219.3L534.6,217.6ZM325.6,175.7L325.3,175.0L325.6,174.9L326.1,175.2L326.3,175.7L326.1,175.8ZM751.3,331.1L753.2,328.9L754.2,329.9L752.5,331.6ZM213.9,182.7L214.2,182.0L214.7,182.8L214.0,183.3ZM759.8,331.4L760.0,332.7L759.2,332.7L759.0,331.7ZM399.4,283.2L400.1,283.5L399.9,284.2L399.0,283.7ZM283.4,134.9L282.9,135.3L282.6,134.1L283.0,134.0L283.4,134.2ZM632.1,222.7L633.2,221.4L634.4,222.7L633.2,223.6ZM635.7,192.1L636.2,191.8L636.9,193.1L636.5,193.4ZM294.3,90.7L294.3,91.8L292.9,92.2L293.0,91.0ZM787.3,194.6L787.5,193.9L788.0,193.6L788.2,194.5ZM239.4,121.7L239.1,125.7L236.9,124.0L235.4,121.7L236.8,119.0ZM417.4,230.8L418.1,232.6L417.1,233.5L416.1,232.0ZM242.7,76.1L242.8,75.6L243.1,75.7L243.4,76.0L243.3,76.3L242.9,76.5ZM880.2,275.0L880.2,274.5L880.9,274.6L880.7,275.2ZM192.7,178.8L191.6,177.7L192.4,176.2L194.2,177.0ZM316.1,230.1L313.7,230.0L314.4,227.0L318.3,225.2L318.4,226.9ZM638.3,259.2L638.8,260.0L638.0,260.5L637.4,259.9L637.6,259.4ZM309.7,179.6L309.4,179.0L310.3,179.2L310.2,179.9ZM321.2,160.1L321.7,159.5L323.8,159.9L322.2,161.1ZM206.4,82.4L206.1,81.7L206.6,81.2L207.0,82.0ZM655.8,205.4L655.4,207.1L654.4,207.6L654.0,206.2L654.5,204.9L655.6,204.7ZM637.8,187.0L636.9,186.6L638.1,184.7L638.6,185.8ZM369.8,147.4L369.9,147.7L369.6,148.0L369.3,147.9L369.1,147.7L369.4,147.4ZM426.6,233.5L426.6,234.1L426.0,233.8L426.1,233.3ZM656.6,289.8L657.6,288.3L659.6,287.0L662.7,287.9L662.6,289.3L659.1,290.7ZM706.9,335.1L708.1,334.8L708.6,336.3L708.2,336.8L707.1,336.5ZM397.9,153.4L398.5,152.8L399.6,152.8L400.4,154.0L399.5,154.6L398.8,154.6ZM626.0,201.7L626.9,203.5L625.6,204.6L623.2,203.1L622.3,201.4ZM565.9,272.4L565.6,272.6L565.3,272.5L565.0,272.2L565.2,271.7L565.7,272.0ZM638.9,276.2L638.7,275.3L639.3,274.9L640.3,275.9L640.2,276.5ZM721.1,234.7L720.8,233.1L722.3,232.0L723.8,234.0L722.4,235.9ZM810.9,224.0L810.3,223.2L810.8,223.0L811.4,223.7ZM286.7,132.3L287.8,132.1L288.1,132.7L287.9,133.6L287.0,133.5L286.7,132.8ZM148.8,180.5L148.6,182.4L147.9,183.6L146.5,182.3L146.5,181.4L147.5,180.7ZM121.9,142.2L121.9,142.6L121.3,143.1L120.9,142.5L121.3,142.1ZM834.1,229.3L833.6,228.4L834.3,228.6L834.9,229.3ZM315.1,169.9L315.3,168.6L317.4,168.0L316.4,170.0ZM393.8,273.4L393.9,272.9L394.1,272.8L394.7,273.1L394.8,273.9L394.2,273.9ZM689.4,193.8L690.6,194.7L690.6,196.2L689.3,196.6L688.9,195.7ZM501.3,266.3L500.9,266.5L500.5,266.2L500.7,265.6L501.2,265.8ZM595.6,205.5L595.5,206.0L595.1,205.8L594.7,205.6L594.8,205.2L595.4,205.2ZM224.6,133.5L225.1,133.5L225.4,134.5L225.2,134.9L224.6,134.5L224.5,133.7ZM744.9,277.7L745.8,277.1L746.4,277.7L745.7,278.8L744.8,279.1ZM439.9,214.2L437.2,216.6L435.9,214.9L438.5,212.6ZM660.2,223.2L660.1,223.8L659.6,223.5L659.3,222.9L659.3,222.6L659.9,222.3ZM347.9,167.8L348.7,167.5L348.6,168.7L347.7,168.6ZM417.0,278.4L416.4,279.0L416.3,278.0L417.0,277.8ZM389.3,234.6L389.2,235.2L388.4,235.1L388.6,234.5ZM657.8,184.4L657.2,182.9L658.2,183.4L659.7,184.1L659.6,184.7L659.0,185.1ZM291.9,196.3L293.6,197.7L294.3,199.2L293.4,199.4L291.3,197.7L290.4,195.8ZM850.8,270.5L850.9,271.3L850.4,271.4L849.9,271.4L849.6,271.0L849.9,270.3ZM517.3,300.3L516.4,301.1L515.0,299.4L515.7,298.9ZM272.9,85.3L272.3,85.8L271.6,85.5L270.5,83.9L271.8,83.6L272.3,84.0ZM830.3,263.3L829.6,263.2L829.0,262.8L829.9,262.4L831.1,262.6L830.9,263.1ZM131.2,142.5L131.2,140.8L132.6,140.5L133.3,142.7ZM601.6,203.4L601.3,202.8L601.3,202.6L601.9,202.4L602.2,202.7L602.0,203.0ZM315.6,97.7L317.6,98.5L318.3,99.9L318.3,101.5L316.6,100.6L315.5,99.6ZM748.2,208.2L748.8,208.8L748.1,209.3L747.8,208.7ZM895.5,286.7L895.7,287.3L895.8,287.8L895.1,288.0L894.2,287.6L894.6,287.1ZM834.3,263.2L832.2,263.9L830.0,263.0L831.1,262.3L833.5,261.5ZM831.5,269.1L833.2,269.2L833.2,271.2L831.1,270.9ZM484.8,238.5L485.5,238.9L485.9,239.9L484.7,241.5L484.2,240.2ZM818.3,250.6L817.2,250.9L816.5,250.2L816.8,249.5L817.5,249.7ZM651.0,296.8L651.4,297.5L650.3,298.1L649.0,296.9L649.0,295.7L649.8,295.7ZM352.2,257.0L349.5,255.1L349.8,253.8L350.5,253.2L352.5,253.5L354.1,255.5ZM285.3,103.7L285.2,103.0L285.9,102.7L285.9,103.7ZM704.0,210.8L703.3,209.2L704.3,209.3L705.3,210.4L704.8,211.4ZM558.0,246.7L557.9,247.2L557.2,247.1L557.2,246.5L557.9,246.2ZM612.4,256.0L612.2,257.8L611.3,257.5L611.5,256.4ZM496.0,234.5L492.2,233.2L489.6,229.1L491.4,227.9L493.8,227.3L495.9,230.5ZM204.2,148.8L203.4,149.1L203.1,148.6L203.6,148.2ZM266.8,201.9L265.7,202.0L264.8,201.8L265.1,201.3L266.0,201.1L267.0,201.4ZM240.6,157.9L240.5,158.7L239.2,159.3L239.5,158.4ZM255.1,134.7L254.4,135.7L253.9,135.4L254.4,134.4ZM485.6,240.8L485.7,241.6L484.7,242.3L484.5,241.2ZM291.8,90.5L292.6,89.7L294.0,91.0L293.0,92.1ZM146.3,134.7L147.2,135.2L146.4,135.7L145.7,135.2ZM769.8,315.4L769.8,313.3L770.9,312.5L772.1,315.5L772.3,317.1ZM246.5,102.8L246.5,102.1L248.0,101.4L248.6,102.0L247.9,102.9ZM852.0,264.3L854.0,265.7L850.7,268.1L848.6,265.8ZM832.0,258.5L831.2,258.7L830.7,258.6L830.4,258.4L831.0,257.6L831.8,258.0ZM828.9,209.7L828.4,210.0L827.9,209.8L828.2,209.3ZM247.1,146.5L249.6,144.4L250.7,145.2L249.0,147.6ZM253.6,131.1L254.2,129.9L255.3,130.6L254.9,131.4L254.3,131.6ZM789.6,261.9L790.6,262.4L789.8,263.7L788.8,263.1ZM152.5,149.8L152.5,151.4L151.9,152.2L150.6,152.2L150.7,150.7L151.3,150.0ZM170.9,78.3L169.5,76.8L169.5,75.3L171.7,76.4L172.5,78.0ZM689.4,198.5L689.0,198.6L688.4,198.5L687.9,198.0L688.9,197.5L689.7,197.7ZM254.9,170.1L257.1,167.9L259.4,169.0L260.9,170.5L258.4,172.9L255.4,172.2ZM392.0,250.9L392.4,250.3L392.8,251.0L392.3,251.4ZM471.3,267.4L471.3,265.7L473.0,265.8L473.0,267.3ZM138.0,138.2L138.8,138.9L139.4,140.3L138.4,140.8L137.3,140.9L137.0,138.6ZM857.3,319.1L857.1,319.7L856.9,319.9L856.5,319.5L856.5,318.9L857.2,318.7ZM411.0,230.7L410.4,230.4L410.0,229.5L411.0,229.0L411.7,230.2ZM584.1,206.7L583.8,205.0L585.5,203.7L586.5,205.1L586.8,206.5L585.3,208.7ZM342.2,185.0L342.5,185.4L342.6,185.9L342.1,185.9L341.8,185.4ZM884.9,298.2L882.8,296.2L883.9,293.4L885.9,296.0ZM672.0,211.3L672.2,211.9L671.8,213.1L670.8,213.0L670.0,212.3L670.6,211.8ZM301.8,221.1L302.2,220.4L302.7,221.3L302.2,222.0ZM626.5,213.9L625.3,215.2L623.7,214.6L624.8,213.5ZM846.7,246.3L846.6,245.3L848.3,246.2L848.3,247.4ZM321.4,168.5L322.4,169.0L321.7,170.8L320.7,170.5ZM276.4,102.6L276.3,103.1L275.4,102.9L275.6,102.5L276.1,102.2ZM347.0,152.1L346.4,152.0L346.3,151.3L346.8,151.2L347.2,151.3L347.5,151.6ZM202.3,88.5L202.6,88.8L202.3,89.3L201.9,89.2L201.7,88.6L202.0,88.4ZM174.4,164.3L174.6,164.6L174.7,165.1L174.2,165.3L174.0,164.8L174.0,164.3ZM194.6,81.3L194.7,79.8L195.8,79.9L196.1,80.4L196.2,82.6L195.1,82.9ZM432.3,259.9L431.6,260.7L430.6,259.4L431.7,258.9ZM278.3,107.4L278.8,108.2L278.4,109.2L277.6,108.9L277.2,108.2L277.8,107.2ZM809.2,252.7L809.7,252.4L809.7,253.4L809.0,253.7ZM801.7,239.2L801.1,238.9L802.4,238.1L802.9,238.6ZM628.5,282.5L631.6,282.6L633.0,284.5L630.2,285.0L628.3,284.1ZM611.0,212.6L611.9,212.5L612.4,213.1L612.3,213.9L611.3,214.0L610.6,213.3ZM383.7,219.7L385.3,219.1L385.3,220.2L383.7,221.5L382.9,221.3ZM429.5,173.5L430.3,172.6L431.2,172.5L431.5,172.8L430.8,173.7L429.2,174.3ZM774.3,212.2L775.1,213.2L772.5,213.6L771.4,212.1ZM257.6,141.2L254.5,139.4L255.2,138.1L258.3,139.8ZM252.1,149.1L250.6,148.2L250.8,146.8L251.8,145.8L252.9,147.1ZM136.1,143.9L136.8,144.1L136.9,144.8L136.3,145.2L136.0,144.5ZM303.9,90.4L304.6,90.1L305.1,90.7L304.1,91.3ZM402.8,191.6L402.5,190.4L403.6,189.7L404.2,191.1L403.5,192.0ZM250.8,74.6L252.5,74.5L252.3,75.7L250.6,75.2ZM819.8,218.9L817.8,217.2L818.6,215.3L821.1,218.6ZM719.5,217.4L718.0,218.4L717.6,217.7L719.3,216.4ZM599.9,212.7L601.2,212.7L601.2,213.1L600.5,213.5L599.8,213.5L599.6,213.1ZM437.9,304.3L437.8,304.6L437.3,304.9L436.4,304.3L436.8,303.8ZM247.6,142.0L249.2,141.3L249.1,142.0L248.1,142.9L246.9,143.0ZM516.8,267.6L516.2,268.2L516.1,267.7L516.4,266.6L516.8,266.7L517.2,267.1ZM705.9,270.0L707.6,269.6L708.1,271.3L705.8,271.3ZM322.1,110.7L323.2,110.9L323.4,111.5L323.1,112.3L322.2,111.5ZM500.4,231.3L500.5,232.7L499.3,232.5L499.1,231.3ZM161.8,168.2L161.9,168.5L161.4,169.0L160.8,169.0L160.9,168.2L161.2,167.5ZM304.7,113.5L305.4,116.8L302.1,117.0L300.5,115.3ZM528.5,264.3L528.9,264.8L528.1,265.1L528.1,264.6ZM771.6,230.0L772.8,230.2L772.5,231.1L771.1,231.1ZM182.1,98.3L181.8,98.8L181.1,98.2L181.5,97.6ZM211.6,90.7L211.6,91.7L208.8,90.3L209.9,90.0ZM887.2,279.8L887.4,279.4L888.2,279.5L888.0,280.0ZM255.3,125.0L258.2,125.9L260.3,131.2L257.0,131.4ZM218.2,88.2L217.0,87.4L217.6,84.6L218.2,83.9L220.2,85.1L219.2,87.6ZM878.9,310.1L879.8,310.8L879.5,311.6L878.6,310.8ZM808.2,219.3L808.9,219.5L808.1,219.9L807.3,220.0L806.8,219.6L807.3,219.3ZM846.8,263.6L847.2,262.9L848.0,263.3L847.0,264.0ZM277.5,100.1L277.1,99.5L277.4,99.3L278.0,99.4L278.3,100.1L278.1,100.3ZM336.7,189.3L335.3,189.2L335.5,188.1L336.9,188.0ZM139.0,146.1L138.0,145.4L138.7,144.8L139.5,144.7L139.9,145.9ZM672.2,213.8L671.1,214.7L670.6,214.3L670.9,213.6ZM230.5,78.6L231.2,79.4L230.0,79.9L229.3,79.3ZM693.1,220.2L692.4,218.9L694.0,217.9L694.7,219.9ZM802.6,321.9L801.8,322.2L801.9,320.8L802.4,320.2ZM590.5,196.5L590.3,195.4L591.6,195.3L591.4,196.7ZM854.0,251.5L853.1,252.4L852.2,251.7L853.0,250.0ZM884.2,271.6L883.5,272.5L882.4,271.9L883.3,271.1ZM382.0,182.3L382.5,181.7L383.9,182.6L382.6,183.4ZM892.0,266.7L891.2,266.5L891.6,266.1L892.0,266.3ZM821.1,300.0L820.0,300.4L819.8,297.9L821.4,296.5L822.4,296.7L822.8,298.6ZM872.5,283.5L873.0,283.1L873.5,283.8L873.4,284.3L872.8,284.6L872.1,284.1ZM325.1,210.8L323.7,211.3L323.0,210.6L323.7,210.1L324.3,209.3L325.2,209.9ZM227.6,141.5L228.3,141.5L228.4,142.4L227.6,142.3ZM812.2,238.2L811.2,238.3L810.5,237.2L811.1,236.3L811.8,237.2ZM255.9,96.8L255.6,97.2L255.2,97.1L255.1,96.8L255.3,96.5L255.7,96.6ZM276.1,94.2L276.5,93.9L277.0,94.0L276.6,94.9L276.2,95.5L276.0,95.0ZM294.3,190.2L293.9,193.0L292.1,193.9L291.2,190.3L293.0,189.1ZM914.8,292.4L915.5,292.5L915.8,293.2L915.4,293.5L914.7,292.9ZM243.2,116.9L243.9,116.9L244.2,117.4L243.7,118.3L242.5,118.4L242.5,117.7ZM477.5,239.2L477.5,239.7L476.9,240.0L476.8,239.2ZM663.0,220.6L663.0,220.1L663.2,219.9L663.5,220.2L663.7,220.6L663.3,220.8ZM381.1,235.9L380.8,237.5L379.3,236.8L379.8,235.6ZM245.1,135.5L244.7,138.5L239.3,137.6L240.0,134.1ZM202.9,164.7L203.3,164.3L204.0,164.8L203.8,165.6L202.9,165.4ZM308.2,197.8L306.9,197.6L307.4,196.1L309.3,195.6ZM263.4,137.2L263.1,136.7L264.0,136.2L264.8,136.5L264.2,137.2ZM122.5,141.8L122.6,141.5L123.0,141.1L123.2,141.3L123.4,141.6L122.9,141.8ZM345.5,175.4L346.5,174.9L346.5,175.7L346.1,176.1ZM128.0,147.8L129.0,149.8L128.1,153.0L127.1,150.4ZM322.5,190.1L321.3,190.4L321.1,189.7L321.9,189.4ZM680.9,223.5L682.5,222.3L684.4,223.1L683.8,224.6ZM187.2,89.5L185.0,88.7L184.8,86.9L186.8,87.2ZM675.8,204.4L675.7,203.0L677.0,201.7L677.4,203.4L676.9,204.5ZM602.1,193.3L603.6,192.4L603.6,195.4L602.2,195.1ZM802.7,219.7L802.3,218.3L803.2,218.2L804.1,219.6L803.5,220.3ZM714.0,281.7L712.2,281.7L712.2,280.6L713.6,280.1ZM473.0,190.6L472.9,192.1L471.7,191.3L471.4,190.3L472.0,189.6ZM671.5,243.1L670.6,242.5L671.1,241.5L672.1,242.4ZM860.3,218.9L859.5,219.1L858.7,217.2L859.7,216.7ZM882.8,296.5L881.9,296.7L881.2,295.4L881.4,294.9L882.5,295.3ZM303.5,187.8L304.1,187.7L304.1,188.3L303.8,188.8L303.3,188.8L303.1,188.4ZM816.8,296.3L817.1,295.4L818.9,295.5L818.4,296.3L817.0,297.0ZM227.7,142.5L228.5,141.8L229.1,141.9L229.0,142.4L228.4,143.1L227.8,143.0ZM864.6,306.4L865.8,305.0L865.9,306.6L864.9,307.5ZM350.4,159.3L350.9,161.1L349.5,162.0L349.3,160.1ZM354.1,206.9L354.1,206.3L355.1,205.6L355.6,206.3L355.6,207.4L354.8,207.8ZM378.8,219.7L379.9,219.6L381.6,220.1L381.3,221.0L380.2,221.1L378.8,220.8ZM249.5,77.6L249.6,76.6L250.4,77.5L250.1,78.6ZM407.6,292.9L407.7,292.3L407.9,292.1L408.5,291.8L408.6,292.2L408.2,292.8ZM188.3,84.9L189.8,84.1L190.8,83.7L193.6,86.4L192.8,86.9L191.7,87.2ZM884.5,272.2L884.5,271.7L884.7,270.9L885.3,271.3L885.9,272.0L885.7,272.7ZM851.9,248.6L851.8,247.6L852.1,247.2L853.8,247.5L853.8,248.1L852.8,248.6ZM387.6,194.2L388.0,194.2L388.4,194.6L388.1,194.9L387.8,195.3L387.3,194.9ZM140.5,143.8L141.8,142.6L142.5,143.8L141.0,144.7ZM634.9,170.7L634.5,171.2L633.9,171.0L634.3,170.4ZM444.6,169.8L440.5,169.7L438.0,167.4L442.3,167.1ZM230.7,166.1L230.3,165.4L230.5,164.8L231.0,164.7L231.2,165.0L231.2,165.6ZM309.5,187.4L310.7,186.8L310.9,187.8L309.5,188.2ZM833.3,249.5L833.0,248.6L833.9,247.9L834.8,248.0L834.6,249.2ZM677.2,207.9L676.6,208.0L676.9,207.0L677.3,207.0ZM617.5,218.0L618.1,218.1L618.2,218.5L617.8,219.0L617.1,218.7L616.6,218.4ZM699.0,276.0L698.9,276.5L697.9,276.6L697.4,275.9ZM426.4,262.3L425.9,262.1L426.1,261.0L426.7,261.2ZM168.4,94.3L169.0,94.4L169.3,95.2L168.4,94.9ZM617.5,221.9L617.8,222.5L616.9,222.7L616.1,222.2L616.5,221.8ZM341.1,236.1L341.3,236.6L340.4,236.3L340.2,235.8L340.8,235.6ZM628.8,193.4L628.5,192.2L629.8,192.4L629.9,193.3ZM837.7,198.7L837.6,196.6L839.6,196.1L840.7,197.5L840.0,199.2ZM294.3,123.7L294.6,123.9L294.6,124.8L294.5,125.5L294.0,125.0L293.9,124.4ZM390.7,180.4L388.4,179.5L389.8,178.5L391.7,179.1ZM424.7,247.9L424.2,246.7L425.3,245.8L426.8,246.3L426.4,247.5ZM400.6,186.5L399.8,185.0L401.1,184.7L402.1,186.4ZM848.1,263.8L848.0,263.2L848.4,262.5L848.7,262.5L849.1,263.1L848.7,263.7ZM605.8,197.6L605.7,198.0L604.9,198.2L605.0,197.6L605.4,197.3ZM244.1,98.4L244.7,98.0L245.5,97.9L245.4,99.2L244.9,99.7L244.4,99.0ZM659.7,230.7L659.7,231.2L659.4,231.5L658.8,231.5L658.7,231.2L659.0,230.7ZM786.9,239.5L787.0,239.9L786.6,240.4L786.0,240.2L786.2,239.5L786.5,239.1ZM830.1,188.2L829.9,189.2L828.5,189.2L828.6,188.2ZM162.2,145.1L162.6,147.2L161.3,148.3L160.9,146.1ZM490.8,239.0L490.0,239.1L489.5,238.4L490.6,238.3ZM884.9,312.6L885.3,312.4L886.2,313.3L886.2,314.5L885.1,314.3L884.7,313.6ZM685.2,276.6L688.3,276.8L686.7,280.3L684.2,279.0ZM811.3,252.9L813.2,253.3L812.7,255.4L811.7,256.7L810.6,255.3L810.4,253.8ZM743.0,204.5L743.4,205.3L742.9,206.0L742.6,205.1ZM239.0,116.2L239.7,115.3L240.4,116.5L239.5,118.4L238.9,118.3ZM464.9,220.3L463.1,217.6L463.1,215.0L466.7,216.5ZM582.5,154.7L582.9,154.8L583.1,156.4L582.2,156.8L581.5,156.6L581.9,155.5ZM222.2,91.4L223.6,90.2L225.9,91.7L224.5,92.8ZM322.3,195.1L322.3,194.6L322.8,194.6L323.0,195.2ZM149.3,176.5L148.5,176.2L148.4,175.3L149.4,175.0L150.5,175.9ZM221.3,144.2L221.5,143.5L222.1,143.6L222.0,144.5ZM235.5,148.2L235.2,147.4L235.9,147.3L236.1,148.2ZM828.6,233.8L827.6,232.6L830.1,229.7L830.5,231.3ZM907.4,286.2L907.4,285.5L908.0,285.6L908.1,286.3ZM683.0,266.8L683.9,266.8L683.9,267.6L683.3,267.7L682.7,267.1ZM174.5,95.7L175.4,94.6L176.5,95.4L175.3,97.0ZM861.4,268.3L861.8,268.6L862.0,269.2L861.2,269.0L860.7,268.7L860.9,268.3ZM850.7,250.9L854.1,250.0L854.7,252.3L851.7,253.8L849.7,253.3ZM770.4,218.2L770.1,217.3L771.0,216.0L772.0,216.2L772.6,217.1L771.7,217.6ZM495.4,233.0L495.3,231.6L496.2,229.7L496.9,231.4L496.5,233.1ZM473.1,184.4L472.5,183.6L473.4,183.5L474.1,184.2ZM670.1,290.9L670.8,289.8L671.0,290.5L670.7,291.0L670.0,291.7ZM812.8,230.2L813.4,230.1L813.4,230.5L813.5,231.2L812.7,231.5L812.2,230.5ZM653.2,267.5L652.5,268.9L651.6,268.2L652.6,267.2ZM249.9,158.8L249.3,158.7L249.6,158.2L250.3,157.6L250.8,158.1L250.4,158.7ZM804.6,219.6L803.0,220.6L800.7,221.9L801.3,220.8L802.5,218.5L804.2,218.5ZM865.2,292.9L865.3,293.3L865.0,294.1L864.8,293.9L864.4,293.7L864.6,293.0ZM293.7,95.2L294.4,94.5L294.9,95.3L294.3,95.9ZM416.5,182.9L415.6,181.2L415.8,180.5L417.3,181.1L417.8,183.4ZM343.2,136.6L342.4,137.3L342.1,136.2L342.4,135.4L343.4,135.5ZM790.5,226.0L786.7,226.4L786.0,225.0L789.5,223.4ZM487.8,191.6L487.6,190.2L488.5,188.1L490.3,188.0L489.0,190.6ZM191.3,84.7L192.0,85.3L191.6,86.0L190.7,86.3L190.4,85.6L190.3,84.9ZM687.4,271.7L687.4,271.0L687.9,270.7L688.3,271.0L688.1,271.6ZM239.0,121.6L239.4,121.5L239.6,122.2L238.9,122.2ZM292.3,191.2L294.7,192.8L295.4,195.5L294.4,197.0L292.8,195.5L291.9,193.1ZM268.1,90.5L269.0,90.7L268.7,91.4L267.8,91.6L267.0,91.1ZM245.7,194.4L245.8,193.7L246.5,194.2L246.8,194.9L246.4,195.0L246.0,195.1ZM400.4,266.3L400.3,267.4L400.0,268.2L398.9,268.3L398.6,267.2L399.6,266.2ZM313.4,184.3L314.0,184.1L314.2,184.6L314.0,185.0L313.7,185.0ZM868.3,266.7L870.8,264.1L871.2,267.0L868.5,268.4ZM524.6,264.3L525.3,262.8L526.6,263.1L526.5,264.7L525.6,265.8L524.7,266.5ZM292.7,194.1L291.8,193.1L293.0,192.0L294.3,192.8ZM479.2,211.7L479.5,211.8L479.5,212.4L479.0,212.2ZM383.7,216.1L384.1,216.5L383.8,216.9L383.2,216.7L383.2,216.4L383.3,215.9ZM695.8,221.8L696.8,222.2L696.0,224.7L694.3,225.6ZM860.6,224.4L860.1,225.1L858.5,223.8L858.9,223.0L859.8,223.2ZM314.5,113.2L313.2,112.9L314.0,111.9L315.5,112.0ZM697.9,216.5L697.2,217.4L695.9,216.2L697.0,215.6ZM235.4,140.7L236.3,140.7L236.4,141.3L235.5,141.3ZM437.3,166.7L437.5,165.4L438.0,164.9L438.8,164.9L438.5,166.3L437.7,166.7ZM233.5,131.8L232.1,132.1L232.5,130.2L233.8,129.4L234.2,130.4ZM606.6,189.9L607.2,189.5L607.9,190.1L608.0,190.9ZM696.1,211.7L696.3,214.3L694.3,214.6L692.9,212.3ZM244.2,126.4L244.8,125.2L245.5,125.7L245.2,126.6ZM807.3,256.8L806.5,256.9L806.5,256.3L807.3,255.9ZM487.5,223.3L486.8,225.5L484.4,227.3L485.1,224.2ZM840.5,251.8L840.2,251.1L840.8,250.1L841.5,250.2L842.1,250.2L841.5,251.7ZM429.0,225.0L427.9,226.1L427.7,225.4L428.3,224.9ZM143.5,139.4L143.3,139.8L143.0,139.8L142.7,139.5L142.8,139.2L143.2,139.0ZM165.2,150.4L166.0,148.1L167.4,148.3L165.8,151.8ZM391.4,209.6L392.5,209.9L392.0,210.8L391.3,210.8L390.8,210.3ZM268.8,92.3L267.5,91.2L269.8,90.1L271.1,91.9ZM744.6,202.8L744.1,202.7L743.8,202.3L743.9,202.1L744.5,202.2ZM307.1,116.1L306.7,116.6L305.5,116.5L305.5,115.7L305.9,115.3L306.8,115.5ZM249.5,119.8L248.8,120.4L248.7,119.8L249.6,119.0ZM480.2,245.3L480.0,245.8L479.2,245.7L479.4,245.3ZM253.7,136.7L252.6,136.3L252.7,135.5L253.6,135.3L254.4,136.2ZM271.9,239.4L271.8,240.1L271.0,240.0L270.4,239.4L270.8,238.6L271.2,238.7ZM604.0,175.2L604.1,174.7L604.6,174.8L604.6,175.6L604.2,175.7ZM822.3,241.9L822.7,241.9L822.7,242.5L822.3,242.7L821.9,242.1ZM265.3,135.0L264.6,135.5L264.5,134.8L265.0,134.6ZM581.8,178.1L581.8,178.6L581.1,178.4L580.9,177.8L581.1,177.5L581.9,177.6ZM361.0,201.3L362.0,200.8L362.0,201.9L361.1,202.2ZM664.7,244.7L664.3,244.6L664.4,244.2L664.4,243.9L664.8,244.1L665.2,244.3ZM797.0,259.6L797.5,260.1L796.7,260.5L796.5,260.1ZM166.6,137.5L166.4,140.0L161.9,140.5L162.6,136.7ZM379.9,267.3L380.5,267.1L380.7,267.3L380.8,267.9L380.2,268.2L379.9,268.1ZM647.0,188.6L644.4,192.0L642.7,189.4L644.6,187.2ZM227.0,75.1L226.0,73.7L227.6,73.4L228.4,74.7ZM263.1,132.3L259.5,132.3L259.0,130.2L262.8,130.8ZM627.5,288.9L627.9,288.1L628.7,288.4L628.3,289.4ZM186.5,165.7L187.1,167.1L185.6,166.2L184.7,164.6ZM547.4,278.6L547.6,279.5L546.0,280.2L543.9,280.3L544.5,279.1L545.6,278.6ZM350.1,184.2L350.7,183.7L351.5,184.7L351.7,185.4L351.0,185.8L350.5,185.5ZM754.6,317.4L753.4,317.3L754.2,316.0L755.3,315.6ZM587.1,205.1L587.1,205.6L586.5,205.9L586.2,205.5L586.6,205.0ZM355.8,178.7L356.5,178.8L356.3,179.2L355.8,179.4L355.4,179.1L355.6,178.7ZM485.6,231.9L485.3,231.8L485.0,230.7L485.4,230.6L485.8,231.1ZM872.4,268.5L873.3,269.8L870.2,270.8L867.0,270.3L867.4,268.9L869.4,267.9ZM309.0,90.2L309.7,90.2L310.0,91.1L309.6,91.5L309.1,91.4L309.0,90.9ZM469.3,248.9L469.4,248.5L469.9,248.6L470.1,249.1L469.7,249.3L469.3,249.2ZM814.6,208.4L814.6,207.4L815.3,207.3L815.7,207.6L815.3,208.4ZM839.0,242.1L839.1,241.5L839.8,241.4L839.7,242.0ZM256.1,93.9L254.3,93.0L256.1,91.8L257.8,92.5ZM836.2,247.6L835.9,248.6L834.8,248.4L835.2,247.5ZM482.5,248.2L483.6,248.1L483.4,249.2L482.0,249.3ZM276.4,200.3L276.2,202.4L275.3,202.7L275.5,201.2ZM189.3,158.9L189.5,159.7L188.6,160.7L187.3,160.8L186.5,160.7L187.8,159.6ZM150.9,144.4L150.3,144.5L150.0,143.9L150.7,143.8ZM419.7,196.9L418.6,197.2L418.6,196.1L419.4,195.9ZM356.8,261.7L357.9,261.6L357.6,262.8L356.3,263.0ZM331.5,193.1L330.9,194.8L329.9,194.0L330.3,192.5ZM677.0,248.0L675.8,248.1L674.6,247.7L675.7,247.1L677.5,247.2ZM612.8,267.0L613.5,268.1L613.4,269.0L612.6,269.1L612.1,267.8ZM168.8,126.7L167.9,126.7L168.1,126.1L168.8,126.0ZM876.1,261.5L876.5,263.0L875.0,264.4L874.2,262.8L875.3,261.7ZM770.8,242.8L770.5,241.9L771.6,242.2L771.6,243.2ZM835.0,224.1L835.1,225.5L833.4,225.2L833.3,224.3ZM188.3,76.9L186.2,75.8L186.0,74.2L187.5,74.8ZM181.4,86.3L182.7,85.9L182.7,87.1L181.8,87.9L180.8,87.6ZM207.8,123.4L206.7,123.6L206.7,123.0L207.8,122.6ZM590.3,238.8L589.3,238.8L589.9,237.6L590.8,237.7ZM728.9,327.7L729.5,326.7L730.5,328.6L729.9,330.0L728.9,329.5ZM412.1,298.0L412.4,297.8L412.8,297.8L412.9,298.5L412.5,298.5L412.0,298.3ZM847.4,289.6L847.9,290.1L847.4,291.2L846.5,290.8L846.3,289.7L846.9,289.0ZM153.3,137.3L153.4,137.9L152.8,137.9L153.0,137.2ZM168.9,123.8L168.9,123.1L169.6,123.3L169.9,124.3ZM864.1,252.6L863.6,252.1L864.1,251.1L864.7,251.3L864.8,252.2ZM430.9,275.8L432.4,277.8L430.2,278.2L428.9,276.4ZM181.9,99.0L182.8,98.2L184.0,98.3L184.2,99.3L183.2,99.5ZM318.5,182.4L318.5,181.6L319.4,181.3L320.5,182.2L320.1,182.7L319.6,183.1ZM416.3,225.6L416.9,225.7L417.0,226.3L415.9,226.1ZM677.5,241.3L678.4,241.2L678.5,241.8L677.7,241.9ZM610.5,244.2L609.9,244.9L608.6,244.6L609.5,243.2ZM463.4,181.8L464.7,180.3L465.3,181.0L464.5,183.3L463.4,184.2ZM587.6,269.9L586.7,269.5L587.9,266.7L588.8,267.4ZM828.5,254.2L829.5,253.4L830.2,254.1L829.1,255.2ZM161.4,166.1L161.2,164.9L162.4,165.2L162.1,166.1ZM764.9,230.4L765.2,231.4L764.2,232.3L763.4,231.7ZM820.0,266.1L819.5,265.2L819.7,264.5L821.2,264.1L822.0,265.0L822.0,266.2ZM752.0,219.8L751.9,219.5L752.2,218.6L752.9,218.8L752.6,219.7ZM238.4,131.1L238.4,131.8L237.2,131.5L237.5,131.0ZM808.6,213.1L810.1,213.3L810.0,213.8L809.7,214.7L808.8,214.3L808.3,213.6ZM845.7,258.1L846.2,257.8L847.0,258.9L846.0,259.3L845.4,258.6ZM260.8,98.2L261.3,98.5L261.4,99.4L260.8,99.2L260.3,98.6ZM364.8,193.8L361.9,192.1L360.8,190.0L364.1,189.3L365.8,189.3L368.7,191.1ZM848.2,251.9L847.9,252.9L846.6,253.2L846.6,252.2L847.9,251.4ZM485.6,227.2L484.1,232.3L482.5,229.6L482.9,226.3ZM841.3,190.3L841.1,189.7L841.9,189.7L842.0,190.1ZM248.4,147.1L252.2,149.3L249.7,150.6L247.0,149.0ZM705.1,266.9L705.2,267.3L704.7,267.6L704.5,267.4L704.4,266.8L704.8,266.5ZM155.2,146.2L152.2,146.8L151.2,144.4L153.7,144.2ZM126.3,135.8L125.8,137.5L123.8,138.4L123.5,137.1ZM248.0,91.0L248.3,90.5L249.2,90.9L249.0,91.8L248.1,91.6ZM872.4,296.1L872.6,295.6L872.8,295.3L873.4,295.6L873.3,295.9L873.0,296.2ZM333.5,158.6L332.0,159.0L332.3,157.6L333.5,157.7ZM169.0,171.1L169.5,170.8L170.0,171.3L169.5,171.9ZM309.5,183.7L310.9,183.8L312.6,185.6L310.6,186.0L308.4,184.7ZM235.6,132.8L237.0,133.6L236.3,134.8L235.2,135.2L234.3,134.6L234.6,133.0ZM296.7,191.5L298.0,191.7L299.3,192.3L298.4,193.2L297.3,193.0L296.4,192.5ZM392.1,178.7L391.4,178.2L392.5,177.2L392.9,177.7ZM229.3,144.6L228.5,145.4L227.9,144.1L228.7,143.4ZM709.8,218.7L711.2,216.9L713.0,216.4L711.9,218.8ZM489.7,234.0L489.8,232.9L490.9,232.6L491.0,234.1ZM599.2,178.3L598.1,178.6L598.1,177.9L598.4,176.9L599.3,177.0L599.8,177.4ZM309.9,167.8L308.7,168.2L308.3,167.4L308.9,166.6L309.6,166.6L310.5,167.1ZM281.6,88.2L281.2,86.8L284.5,86.0L283.7,87.8ZM357.0,268.5L358.6,267.6L363.8,266.9L363.6,268.7L364.1,269.8L360.0,269.6ZM486.0,234.4L485.6,233.9L486.3,233.5L486.8,233.8L486.8,234.3ZM655.9,184.3L654.4,184.7L654.3,183.6L655.6,183.0ZM270.1,82.8L269.1,82.9L269.0,81.6L269.7,81.8ZM273.4,122.5L273.1,120.9L274.1,120.1L274.6,121.9ZM115.7,182.0L114.7,181.5L115.0,180.1L116.5,180.8ZM599.1,211.4L598.5,211.5L598.8,210.9L599.4,210.8ZM365.0,235.2L365.2,235.5L364.9,235.8L364.6,235.8L364.5,235.2L364.8,234.9ZM892.6,301.7L894.9,302.0L895.0,303.2L893.1,302.8ZM140.5,144.8L140.7,145.6L139.9,145.6L139.3,144.9ZM373.6,176.4L373.8,177.0L372.9,177.4L372.2,176.9L372.8,176.3ZM198.6,119.4L197.9,118.5L198.0,118.0L198.6,118.2L198.8,118.7ZM772.0,210.8L772.0,210.0L773.3,209.9L773.7,210.2L773.4,210.6L772.5,211.0ZM301.7,188.1L301.5,187.3L302.4,186.9L302.9,187.9ZM180.9,97.2L181.3,96.6L182.0,97.1L182.0,97.6L181.5,97.8ZM833.0,253.7L831.8,251.4L834.8,252.1L835.0,253.8ZM421.3,265.2L423.3,266.2L421.6,267.2L420.1,267.0L417.7,266.3L419.1,265.2ZM833.7,255.6L831.6,258.3L829.2,258.0L827.7,257.7L830.2,255.8L832.8,254.4ZM247.3,145.6L247.8,145.8L247.9,146.4L247.2,146.1ZM852.3,288.7L852.2,287.0L852.8,285.3L853.5,287.1ZM275.3,101.0L276.2,101.2L276.3,101.6L275.8,101.8L274.9,101.9L274.7,101.4ZM338.9,122.7L339.3,122.7L339.4,123.2L339.2,123.4L338.8,123.4L338.6,123.1ZM845.9,300.3L845.5,300.6L845.0,300.7L845.0,300.3L845.5,300.0ZM325.2,202.1L325.8,202.0L326.6,202.9L326.2,203.3L325.5,203.1ZM711.2,279.5L710.9,279.5L710.4,279.1L710.5,278.6L711.0,278.5L711.6,279.0ZM202.7,198.0L202.3,200.2L200.9,200.3L200.5,199.2L200.9,197.5ZM826.2,201.4L826.7,203.5L825.0,203.1L824.4,199.8ZM645.3,204.4L645.1,204.7L644.2,205.0L644.0,204.6L643.8,204.1L644.6,203.9ZM762.4,215.1L761.6,214.4L762.5,214.0L763.6,214.5ZM394.8,186.9L395.2,187.0L395.0,188.1L394.7,188.3L394.2,188.6L394.2,187.4ZM568.8,253.0L566.9,255.0L565.3,255.3L567.5,252.5ZM637.2,166.1L636.5,166.5L635.3,165.8L634.6,165.3L635.1,164.7L636.6,165.0ZM653.6,211.4L650.5,210.8L648.8,209.8L648.9,208.7L651.0,208.6L652.6,209.6ZM463.1,283.9L463.9,284.1L463.9,285.3L463.0,285.0ZM230.6,142.8L229.8,142.6L229.5,141.6L229.9,140.9L230.7,141.5ZM689.1,229.1L688.0,228.1L688.5,227.8L689.2,228.4ZM127.8,150.2L127.9,151.0L125.3,151.2L125.7,150.1ZM371.7,271.0L371.9,269.7L373.1,269.5L372.7,271.3ZM580.6,247.3L580.9,248.1L580.3,248.6L579.6,248.1ZM381.1,231.9L381.2,231.2L382.1,231.0L382.5,231.8ZM142.0,160.8L142.6,160.0L144.5,162.1L143.9,163.4L143.4,164.0L142.5,163.0ZM894.7,277.6L895.7,276.9L896.1,277.7L894.7,278.5ZM616.2,212.7L617.4,211.3L617.9,212.2L617.4,213.2ZM270.3,131.8L269.5,132.8L268.6,132.2L269.2,131.2ZM359.6,272.1L359.9,271.2L360.4,271.4L360.3,272.1ZM419.3,274.9L419.4,274.3L419.9,274.4L420.4,274.9L420.1,275.3L419.7,275.2ZM885.9,309.9L885.6,309.8L885.6,309.3L886.1,309.4ZM716.6,200.3L715.6,200.7L715.5,199.8L716.5,199.6ZM475.4,235.3L475.4,236.3L475.0,236.6L474.2,236.2L474.7,235.4ZM120.5,168.9L120.6,168.1L121.2,168.7L121.0,169.3ZM199.4,81.2L198.9,81.5L198.3,81.0L198.8,80.6ZM802.6,266.1L802.8,265.6L803.2,265.9L802.9,266.5ZM833.9,217.0L834.9,216.0L835.3,217.7L834.5,219.4L833.5,218.6ZM134.8,144.4L135.6,143.8L136.1,144.8L135.5,145.4ZM391.3,217.1L391.4,217.9L390.7,218.4L390.4,217.5ZM810.1,224.9L810.0,223.7L810.3,223.3L810.6,223.5L810.7,224.3ZM223.0,136.9L224.8,136.6L224.4,138.0L223.1,138.0ZM751.7,277.2L751.8,276.1L753.6,276.5L753.7,278.1ZM832.5,248.8L831.2,248.3L831.8,246.5L833.1,247.7ZM606.3,175.2L606.2,176.0L605.0,175.5L605.4,174.3ZM838.5,261.6L837.4,261.4L836.6,260.5L838.5,260.8ZM285.7,200.7L284.5,200.6L283.9,198.6L285.3,199.1ZM641.9,183.5L642.3,184.4L641.1,185.3L640.5,184.3ZM384.3,184.9L384.8,185.7L384.3,186.9L383.5,185.9ZM890.6,284.0L890.6,284.4L889.7,284.6L888.8,284.3L889.3,284.0L890.3,283.8ZM785.1,206.2L786.7,206.9L785.5,208.7L784.4,207.8ZM237.7,174.4L238.2,172.8L241.6,171.5L242.2,174.9L241.2,176.0L238.2,176.4ZM884.0,293.7L884.3,294.0L883.8,294.7L883.5,295.0L883.4,294.2L883.5,293.7ZM373.2,178.5L374.0,177.8L374.7,178.6L374.0,179.2ZM655.8,249.6L655.3,249.2L655.5,248.9L656.8,249.1L656.4,249.6ZM352.2,269.3L352.8,268.6L353.3,269.1L352.8,269.8ZM121.8,161.8L122.1,162.1L122.0,162.9L121.4,163.1L121.4,162.2ZM706.0,234.0L705.7,233.4L706.0,233.1L706.8,233.7ZM859.5,273.8L859.6,271.8L860.8,273.2L860.4,274.5ZM835.5,198.8L834.3,199.2L832.7,199.2L832.5,198.0L833.4,197.5L835.4,197.6ZM807.1,232.9L807.8,233.4L807.0,234.1L806.3,233.5ZM320.8,98.2L322.6,97.2L324.1,98.3L322.8,102.2L320.8,101.6ZM870.9,224.3L871.8,224.5L871.7,225.6L870.3,226.9L869.7,226.4L870.0,225.2ZM300.9,179.8L302.3,180.1L302.5,181.2L301.9,182.0L300.7,181.3ZM894.6,282.5L894.4,282.1L894.2,281.7L895.2,281.7L895.6,281.7L895.4,282.4ZM732.6,219.0L733.9,217.6L734.8,218.4L733.5,219.4ZM431.0,173.6L431.3,172.3L432.6,172.8L432.5,173.6L431.8,174.7ZM218.4,113.0L218.8,113.3L218.6,113.8L218.2,113.7L217.8,113.4L217.7,113.1ZM456.6,297.5L456.8,297.8L456.8,298.2L456.1,298.1L456.1,297.4ZM666.2,196.6L666.3,195.4L667.7,195.4L668.0,196.9ZM480.9,287.0L479.8,286.6L479.8,285.7L480.9,286.0ZM626.4,199.4L624.9,198.4L627.1,196.9L628.8,197.6L629.3,198.5L627.9,200.3ZM404.7,276.6L405.3,276.0L405.9,276.5L405.1,277.0ZM525.6,284.9L525.5,285.7L524.9,286.6L524.8,286.0L524.8,285.2L525.4,284.4ZM886.7,264.5L886.2,264.3L886.5,263.3L886.9,263.6ZM803.5,235.9L803.8,235.8L804.5,236.3L804.9,237.2L803.7,236.7ZM877.0,261.7L877.1,261.2L877.8,261.2L877.6,261.9ZM584.4,144.1L585.1,143.9L585.5,144.0L585.1,145.1L584.5,145.0ZM171.2,88.2L169.6,86.9L171.0,86.0L172.2,86.9ZM516.4,291.6L515.1,292.1L515.3,290.3L517.0,289.0L517.9,289.2L517.4,290.7ZM776.3,321.9L776.2,320.7L779.2,319.2L779.5,321.9ZM124.8,168.4L126.3,168.0L126.0,169.3L124.3,169.6ZM809.9,232.2L805.9,233.2L806.8,231.7L809.4,231.5ZM755.7,230.3L756.0,229.8L756.3,230.2L756.1,231.0ZM478.6,239.7L479.7,239.7L479.8,240.2L479.3,240.6L478.5,240.3ZM891.7,292.1L891.3,292.6L890.2,292.7L890.5,291.9L891.6,291.7ZM364.5,156.8L364.4,155.8L365.6,155.5L365.7,156.8ZM259.2,155.6L258.4,156.5L257.5,155.3L258.7,155.0ZM890.0,264.0L890.5,263.7L891.2,264.7L890.5,265.0ZM803.5,226.9L804.2,226.4L804.2,227.0L803.4,227.5ZM395.0,267.4L396.3,265.8L399.3,265.2L397.4,267.5ZM165.9,157.6L166.8,157.3L167.7,157.9L166.7,158.7ZM894.2,218.8L894.1,219.3L893.3,219.5L892.7,219.4L892.8,218.9L893.4,218.5ZM185.6,72.1L185.2,72.9L184.5,72.2L184.2,71.3L184.7,71.5ZM314.8,188.5L315.5,190.0L313.4,190.4L312.7,189.0ZM831.5,190.2L832.2,190.5L832.0,191.2L831.2,191.5L831.1,190.6ZM201.8,141.4L200.5,141.6L200.2,140.8L201.9,140.4ZM495.5,265.4L494.9,266.3L494.1,265.9L494.4,264.9ZM691.3,210.6L690.4,210.1L690.6,209.6L691.5,209.9ZM575.1,174.4L575.7,173.5L577.5,174.6L577.2,175.1L576.0,175.4ZM341.0,227.8L341.2,226.8L341.7,225.9L342.7,226.4L343.2,227.5L342.2,228.3ZM290.6,241.2L290.4,240.0L290.9,239.8L291.4,240.6L291.1,241.1ZM212.6,211.8L212.7,212.1L212.0,212.4L211.3,212.2L211.5,211.6L212.2,211.5ZM824.9,273.7L825.2,274.8L824.5,275.2L824.3,274.6L824.2,273.9ZM886.4,286.3L887.1,286.3L887.9,287.3L887.1,287.6ZM804.0,290.1L804.3,289.9L804.6,289.9L804.7,290.4L804.6,290.7L804.0,290.5ZM466.0,291.1L465.3,290.7L465.8,290.1L466.1,290.5ZM767.4,227.4L767.0,226.3L768.0,225.4L768.5,226.2ZM394.8,157.7L395.0,157.3L395.8,158.1L396.1,158.9L395.3,158.6L394.9,158.1ZM598.5,224.1L598.9,225.1L597.2,224.7L597.6,223.8ZM809.6,241.3L809.1,240.8L810.5,240.2L810.7,240.8ZM831.9,263.9L831.7,263.2L832.2,262.9L832.7,263.0L832.8,263.4L832.3,263.8ZM485.0,261.4L483.7,260.2L484.3,258.4L485.6,259.5L486.1,261.4ZM242.0,107.5L241.4,108.6L240.4,107.7L240.6,106.5ZM344.3,111.6L342.6,112.6L341.0,111.7L340.7,110.5L342.1,110.2ZM837.3,217.0L838.7,216.3L839.8,218.3L837.9,219.9L836.2,218.4ZM176.5,163.1L175.2,163.4L174.9,162.5L176.1,162.0ZM764.4,321.1L768.4,322.6L768.5,324.0L767.2,325.1L763.3,323.6L763.2,321.8ZM771.6,330.8L772.9,331.0L772.5,331.8L771.5,331.5ZM156.0,145.6L156.0,146.5L154.9,147.3L154.6,146.7L155.3,145.6ZM493.4,213.2L493.9,213.4L493.7,214.1L493.4,214.4L492.6,213.7L492.9,212.9ZM727.7,210.4L727.0,210.5L726.6,210.2L727.3,209.8ZM780.6,218.7L780.1,219.9L779.2,220.9L779.0,219.7L779.4,218.7L780.3,218.3ZM587.5,149.2L587.0,149.3L587.0,148.5L587.6,148.4L588.0,148.7ZM485.1,223.0L485.1,224.3L483.3,224.0L482.6,222.3L483.0,221.3ZM782.1,333.7L782.3,333.0L783.4,332.5L784.0,332.8L784.2,333.5L782.8,334.0ZM466.6,213.0L465.9,213.2L465.9,212.3L466.5,212.3ZM588.7,200.9L588.6,200.0L589.3,199.9L589.5,200.6L589.2,201.2ZM739.2,207.9L739.6,208.1L739.8,208.5L739.5,208.8L738.6,208.5L738.7,207.9ZM812.1,199.3L811.2,198.7L811.6,198.0L812.5,198.3ZM496.2,238.7L492.2,235.6L495.5,235.0L499.3,238.7ZM195.8,196.2L196.5,197.4L196.0,198.0L195.4,198.2L194.7,196.9L195.1,196.2ZM809.5,245.1L810.5,245.6L810.3,246.7L808.9,246.5L808.8,245.7ZM748.1,220.2L745.8,218.3L746.6,216.6L748.4,217.9ZM416.0,289.1L415.3,289.8L414.7,288.8L414.8,287.8L415.2,287.1L416.0,287.6ZM693.1,278.5L692.2,279.0L691.6,278.4L691.8,278.0L692.5,277.7ZM291.7,187.0L292.4,186.8L292.2,187.6L291.4,188.4L291.0,187.8ZM340.5,168.8L340.0,169.4L339.6,168.7L340.4,168.3ZM387.0,275.2L383.6,276.8L382.2,274.8L383.9,272.2L386.2,271.2ZM205.7,87.9L205.8,88.5L205.1,88.6L205.2,87.8ZM768.0,216.9L767.9,216.2L768.5,214.9L769.7,213.8L769.6,215.6L769.4,216.7ZM327.6,168.8L326.8,168.1L327.0,167.5L327.8,168.0ZM768.2,310.8L765.5,311.8L763.6,309.2L767.2,309.3ZM854.4,318.9L854.0,318.6L854.2,317.7L855.1,317.5L855.5,318.3L855.3,319.1ZM156.3,146.1L156.2,145.3L156.7,145.3L156.7,146.0ZM215.7,117.4L215.6,116.6L216.3,115.9L216.5,116.4L216.6,116.8L216.0,117.9ZM844.9,192.7L843.9,191.2L844.1,190.3L845.4,191.1L845.9,192.0L845.8,193.1ZM902.7,292.7L903.1,291.9L903.4,291.8L903.8,292.1L903.8,293.1L903.2,292.9ZM751.8,211.8L752.6,212.2L752.1,212.8L751.2,212.8L750.8,211.9ZM783.7,251.4L783.1,251.2L783.4,250.8L784.2,251.1ZM747.2,339.3L746.5,339.9L745.6,339.6L745.8,339.0L746.7,339.1ZM484.2,237.1L485.0,237.0L485.4,237.1L485.9,237.6L485.6,238.1L484.8,237.9ZM452.3,218.2L451.7,218.7L451.0,218.6L451.8,217.8ZM724.3,232.0L724.0,228.4L726.0,226.7L727.2,227.8L725.9,231.5ZM251.1,83.7L250.7,83.7L250.6,83.4L250.6,83.0L251.3,83.1L251.3,83.4ZM221.3,123.8L221.8,124.1L221.8,124.6L221.3,124.5ZM626.0,209.5L625.8,209.9L625.4,209.6L625.3,209.3L625.6,209.0L626.1,209.2ZM160.8,156.5L161.5,156.1L162.1,156.2L161.7,157.0ZM443.7,228.5L444.3,228.5L444.5,229.0L444.0,229.2L443.6,228.7ZM323.2,209.1L324.8,208.6L325.0,209.8L323.3,210.1ZM631.7,285.5L632.7,284.5L633.5,284.3L633.8,285.6L633.2,286.3ZM552.1,234.3L551.4,234.9L551.2,233.6L552.0,233.6ZM827.0,230.0L826.5,229.7L826.1,229.2L827.0,228.4L827.6,228.8L827.8,229.3ZM828.9,271.4L828.9,271.9L828.1,272.0L828.2,271.4ZM812.9,225.2L813.4,225.3L813.7,225.6L813.4,226.1L813.0,226.4L812.6,226.0ZM395.3,278.2L393.9,278.8L391.9,278.6L393.4,276.2L394.6,276.5ZM183.6,72.4L184.5,72.9L184.3,74.0L183.2,73.3ZM810.1,252.7L809.2,253.1L808.8,252.3L809.7,251.6ZM343.8,262.9L346.0,263.1L347.8,266.0L345.9,266.4ZM150.7,139.6L151.0,138.6L152.3,138.0L151.9,139.3ZM379.4,262.5L379.3,262.1L379.5,262.0L379.8,261.8L380.1,262.3L379.7,262.5ZM557.0,260.5L556.0,259.3L556.5,259.0L557.6,260.0ZM116.9,145.6L117.5,145.6L117.7,147.1L116.8,148.6L116.2,147.0ZM143.5,120.8L143.4,120.0L144.4,120.6L144.5,121.1L144.0,121.2ZM425.1,280.2L425.8,280.6L424.5,280.9L424.0,280.4ZM354.2,173.8L353.8,174.5L353.3,173.8L353.9,173.3ZM256.3,89.1L257.6,87.3L259.8,87.5L260.5,88.4L258.2,89.2ZM153.1,190.4L154.8,189.5L155.0,191.2L153.0,192.0ZM430.8,186.2L431.6,185.3L432.3,186.7L431.5,187.2ZM209.3,85.2L207.4,84.2L206.7,82.6L208.1,82.6ZM147.9,170.9L147.0,170.0L147.2,169.5L147.7,169.3L148.4,169.8L148.4,170.3ZM281.3,148.7L281.2,148.2L281.8,147.9L282.9,148.4L283.0,148.8L282.3,149.1ZM842.1,224.4L842.4,224.8L842.2,225.1L841.7,225.3L841.5,224.9L841.7,224.4ZM400.2,209.4L400.6,209.2L401.1,209.6L401.0,209.9L400.3,210.1ZM851.7,295.6L850.7,295.8L850.4,295.6L850.6,295.3L851.1,294.6L851.8,294.9ZM304.4,142.0L303.9,141.3L304.6,140.6L305.8,140.7L306.5,141.0L305.4,141.9ZM322.7,173.1L324.1,173.1L324.1,174.3L322.5,174.8ZM355.5,216.5L355.0,216.8L354.8,216.6L354.8,215.7L355.5,216.0ZM153.4,144.4L152.0,144.5L153.1,143.2L154.3,143.3ZM312.0,113.6L312.7,114.4L312.5,116.3L311.1,116.7L311.3,115.0ZM270.4,204.1L265.6,204.0L265.4,200.7L270.7,200.8ZM817.3,216.5L817.5,216.1L818.1,216.3L817.9,216.9ZM458.3,239.7L458.5,238.6L459.1,237.7L459.9,238.7L459.8,240.0L458.8,240.0ZM516.3,247.5L517.0,247.4L517.2,248.0L517.1,248.5L516.6,248.4ZM393.9,177.1L395.8,177.6L396.4,178.7L395.5,179.0ZM885.3,286.8L884.9,288.0L884.1,288.6L883.6,287.6L884.4,286.7ZM819.4,249.1L819.3,249.5L818.7,249.4L818.6,248.9L819.2,248.8ZM296.5,149.9L296.4,149.1L297.1,149.3L296.9,150.2ZM624.7,265.2L624.2,265.7L623.9,264.4L624.3,263.9L624.7,264.2ZM299.3,81.1L300.4,83.4L299.4,83.6L298.0,83.0L298.1,81.7ZM811.6,225.6L811.9,227.1L810.4,226.5L809.6,224.9ZM580.3,198.8L580.8,198.2L581.2,197.9L581.6,198.0L581.6,198.5L580.8,199.1ZM844.9,236.5L844.0,236.5L843.6,235.4L844.1,234.6L844.9,234.5L844.9,235.6ZM794.0,200.3L794.8,200.1L795.4,200.4L794.8,201.2L794.0,201.1ZM380.6,276.2L380.7,275.4L381.8,275.8L381.3,276.4ZM195.9,104.5L196.2,105.1L195.8,105.8L195.0,106.4L195.4,105.0ZM218.4,170.0L218.0,169.3L218.7,169.4L219.0,169.8ZM836.5,278.8L835.8,279.0L835.2,278.2L835.7,277.9L836.2,277.4L837.2,277.9ZM821.2,214.8L821.4,213.8L822.3,213.8L822.9,214.2L822.3,215.8L821.7,215.4ZM460.0,271.2L460.1,269.9L460.5,270.2L460.6,271.3ZM396.3,239.1L396.7,239.5L396.4,239.9L396.1,239.9L395.8,239.5L395.9,239.1ZM848.7,295.8L849.0,296.4L848.5,297.0L847.8,296.0ZM897.8,264.5L894.6,267.3L886.4,267.5L891.6,263.4ZM745.8,238.2L745.7,237.6L746.2,237.4L746.5,237.9ZM278.3,132.0L279.2,131.0L280.2,131.7L279.3,132.9ZM246.5,201.5L248.0,200.0L250.0,200.4L248.9,202.1L246.5,202.7ZM351.3,186.9L350.7,187.7L349.7,187.8L349.6,186.8L350.1,185.5L351.1,186.3ZM792.8,212.7L793.2,212.0L793.9,211.8L793.5,212.8ZM365.4,232.2L364.9,231.8L364.9,230.8L366.0,230.7L366.5,231.3ZM598.0,203.0L598.3,203.9L596.8,204.1L597.0,203.0ZM231.4,162.6L231.4,161.0L232.4,160.3L232.5,161.7ZM257.3,192.5L257.6,192.9L257.9,194.1L257.3,194.3L256.4,193.5L256.7,192.5ZM462.0,185.1L460.8,185.0L460.7,184.6L461.5,184.2L462.6,184.3L462.9,184.7ZM788.4,239.6L788.2,241.9L786.9,242.3L786.2,241.5L787.0,239.6ZM519.8,281.6L520.5,281.4L520.7,282.4L520.0,282.4ZM648.0,301.1L648.4,300.0L649.8,300.2L649.3,301.4ZM791.7,234.0L791.8,234.3L791.3,234.8L791.0,234.4L790.8,234.0L791.1,233.9ZM419.5,218.2L420.2,218.1L420.3,219.1L419.6,219.5L419.3,219.0ZM342.0,180.9L342.3,179.7L344.2,179.9L343.3,181.0ZM588.1,198.1L587.9,197.5L588.5,197.3L588.9,197.7ZM690.7,224.3L693.2,223.3L697.8,225.0L696.5,226.3L691.7,225.2ZM674.9,196.9L675.0,197.3L674.7,197.6L674.4,197.1ZM446.3,231.4L445.0,230.4L446.9,230.4L447.8,231.0ZM440.1,167.7L439.7,168.8L438.9,168.2L439.8,167.4ZM155.9,132.8L156.8,132.6L157.5,133.1L157.2,133.8L156.1,134.5L155.9,133.5ZM875.8,286.5L875.1,286.1L875.2,285.3L875.9,285.5L876.2,286.0ZM624.4,209.2L624.8,208.9L625.3,209.6L624.7,209.9ZM285.7,99.8L284.7,100.0L284.5,99.2L285.1,98.3L286.2,98.3L285.9,99.4ZM418.2,263.6L417.1,264.6L416.6,264.3L416.8,263.9L417.7,263.2ZM834.4,260.4L834.8,260.3L835.0,261.3L834.8,261.7L834.5,261.5L834.1,260.7ZM852.0,318.3L852.4,317.2L852.9,317.8L852.5,318.5ZM747.8,291.0L748.4,291.8L747.2,292.2L746.7,291.1ZM212.0,96.8L211.7,97.6L211.1,98.0L211.3,97.0ZM289.5,133.3L289.9,132.7L290.5,132.6L290.2,133.3ZM844.7,218.4L844.3,218.8L843.9,218.5L844.0,217.9L844.5,217.8ZM438.8,282.5L438.6,283.1L437.8,282.5L437.5,281.8ZM424.6,230.2L424.2,229.2L424.9,229.4L425.4,230.0L425.3,230.7L424.9,230.7ZM606.2,236.5L606.2,237.1L605.7,237.6L605.1,237.2L604.8,236.6L605.6,236.2ZM287.0,169.6L288.6,168.9L288.4,169.5L287.4,170.2ZM742.5,324.0L741.6,325.1L740.8,324.5L741.6,323.6ZM442.5,164.1L444.3,164.2L444.2,165.9L442.7,166.0L441.6,165.2ZM824.4,196.6L825.5,199.0L824.6,200.4L823.8,198.2ZM613.9,276.1L612.9,278.5L609.1,279.1L608.8,277.6L611.0,275.9ZM228.2,108.8L227.6,108.9L227.6,108.2L228.0,108.1L228.5,108.3ZM179.8,86.0L178.8,85.2L178.7,84.3L179.2,83.5L179.8,84.8ZM164.3,85.2L164.8,85.8L164.3,85.9L163.7,85.5ZM652.4,291.4L652.7,290.1L653.9,289.5L654.3,291.3ZM665.4,288.5L667.4,289.8L665.0,291.3L663.2,290.8ZM600.4,229.4L599.7,228.9L599.7,227.8L600.8,228.3L601.0,229.0ZM742.0,292.2L742.9,294.2L741.5,294.2L740.8,292.4ZM440.9,170.2L441.9,169.5L442.6,169.4L443.6,170.1L442.8,170.4L441.6,170.5ZM603.3,191.6L602.8,191.5L601.7,190.6L601.5,189.5L602.6,190.0L603.5,191.0ZM837.9,234.4L838.3,234.7L837.9,235.5L837.5,235.5L837.5,234.9ZM874.6,205.7L875.0,206.1L874.7,206.4L874.0,206.2L874.2,205.7ZM799.2,234.2L799.2,233.8L800.2,233.6L800.6,234.4L799.8,234.8ZM148.6,115.4L148.2,116.5L147.7,116.2L147.6,115.3L148.2,114.9ZM390.3,233.1L390.2,234.1L389.7,234.1L389.0,233.5L389.1,232.5L389.7,232.1ZM697.3,223.4L696.9,226.6L695.5,227.6L694.9,226.2L694.9,223.1L695.9,221.6ZM879.5,277.1L880.1,277.3L880.3,277.8L879.9,278.1L879.2,277.8L878.8,277.3ZM450.7,228.8L452.0,228.1L451.9,230.2L451.0,230.5ZM219.2,117.9L218.5,119.3L218.0,119.0L217.8,117.6L218.4,117.4L219.0,117.5ZM419.2,213.9L421.0,214.1L420.8,215.7L418.3,215.5ZM819.6,223.3L819.2,221.9L819.8,221.4L820.6,222.9ZM904.1,306.1L903.4,304.9L904.4,304.1L905.2,305.6ZM846.6,261.1L845.4,260.4L846.9,259.3L847.9,259.8ZM398.1,227.9L399.6,227.7L401.3,227.9L400.8,228.9L399.3,229.1ZM879.8,287.4L880.5,287.6L881.2,288.3L880.4,289.5L879.7,289.4ZM849.0,228.1L849.2,227.1L850.7,225.8L850.6,227.8L849.1,229.1ZM852.6,257.0L853.2,256.1L853.9,257.0L853.4,258.0ZM769.9,228.6L770.4,228.9L770.4,229.3L770.2,230.2L769.4,229.7L769.2,228.9ZM178.2,79.2L177.3,79.5L177.5,78.4L178.3,78.3ZM716.9,282.1L716.2,282.1L715.9,281.2L717.1,281.3ZM332.4,193.3L331.9,193.2L332.0,192.5L332.5,192.5L332.8,192.9ZM810.9,221.0L810.3,221.3L810.2,220.0L810.8,219.6ZM135.8,178.2L135.1,179.7L134.0,178.9L134.7,178.0ZM649.5,268.8L649.0,269.1L648.1,268.2L648.8,267.4L649.3,267.2L650.0,267.2ZM543.5,220.4L543.9,221.1L544.0,221.9L543.3,221.8L543.2,221.1ZM534.7,273.0L534.8,274.4L533.6,273.4L533.6,272.2ZM830.0,211.3L830.8,212.1L829.6,212.6L828.5,212.4L828.3,211.8ZM455.3,197.7L453.5,199.2L452.3,199.9L452.4,198.0L454.0,197.2ZM621.5,197.2L621.8,197.9L621.5,198.1L620.9,197.8L621.1,197.3ZM190.9,78.3L189.6,77.3L190.4,76.3L191.9,76.7ZM505.7,239.7L505.5,240.5L504.7,240.1L504.3,239.8L504.7,239.1L505.5,239.3ZM857.8,212.7L857.0,211.9L857.7,211.4L858.5,212.1ZM868.0,257.2L867.6,256.3L868.3,255.8L869.1,255.9L869.0,256.8ZM297.1,83.0L296.6,83.0L296.6,82.6L297.0,82.6ZM440.3,211.5L440.4,205.4L443.6,206.6L443.7,213.5ZM663.7,210.8L663.4,210.0L663.9,208.6L664.9,208.2L664.8,209.2L664.5,210.0ZM350.6,206.1L351.2,205.6L352.0,205.6L351.6,206.2L350.8,206.4ZM489.9,241.1L492.2,242.0L493.0,243.7L491.0,243.7L490.0,242.8L489.2,241.4ZM421.5,162.7L422.0,163.0L421.6,164.3L420.6,163.8L420.6,162.5ZM181.1,98.3L180.8,97.5L180.7,97.0L181.1,96.9L181.6,97.3L181.4,97.7ZM554.5,289.2L553.9,290.3L552.2,289.4L553.1,288.3ZM730.7,220.8L731.7,220.3L732.1,221.1L731.2,221.6ZM766.6,329.8L766.5,330.2L766.0,330.2L766.1,329.7ZM252.7,97.3L251.6,97.4L251.6,96.4L252.3,96.0L253.4,96.4ZM189.4,90.6L188.8,89.5L190.5,89.1L191.2,90.5ZM629.3,203.0L631.3,201.9L631.9,204.1L630.3,207.9ZM830.7,235.7L829.9,236.3L828.8,236.2L829.6,235.6ZM817.8,275.3L817.6,274.8L818.4,274.7L818.4,275.3ZM244.9,95.8L245.0,95.1L247.1,95.7L246.4,96.5ZM633.4,240.5L633.2,238.9L635.1,239.1L634.7,241.0ZM161.5,172.7L161.9,172.7L162.0,173.6L161.4,173.7ZM636.9,212.0L637.2,210.8L638.2,212.2L638.0,214.3L637.2,214.2L637.0,213.1ZM260.2,114.1L259.9,114.9L259.1,114.5L258.8,113.7L259.8,113.4ZM731.6,303.5L732.1,305.2L730.9,305.6L730.0,304.6L729.6,303.3L730.2,302.7ZM378.1,208.2L379.7,205.3L380.7,206.1L380.4,209.0ZM418.5,225.6L418.1,225.8L417.8,225.3L418.1,224.9L418.4,224.9L418.7,225.2ZM145.5,151.5L147.4,151.7L146.6,153.4L145.2,153.7ZM555.9,270.3L554.4,270.3L552.8,268.5L554.2,267.8L555.7,269.1ZM585.0,198.4L585.7,199.6L583.6,201.3L583.0,200.8ZM211.2,93.0L210.9,92.6L211.4,92.2L212.2,92.1L212.4,92.4L211.5,93.3ZM170.4,86.4L169.7,85.9L169.7,84.7L170.2,84.5ZM412.6,232.9L412.4,232.5L412.8,232.1L413.1,232.9ZM290.7,203.1L290.6,202.2L291.5,202.0L291.5,202.6ZM447.8,232.1L447.1,231.2L447.3,230.1L448.4,229.7L448.8,230.6L448.7,231.7ZM277.7,204.4L277.4,205.5L276.4,205.5L276.3,204.2L277.1,203.0ZM345.2,118.3L345.4,116.3L346.4,116.1L346.4,117.8ZM282.1,207.4L281.6,207.5L281.4,206.8L282.0,207.0ZM730.3,213.2L728.6,213.3L728.6,212.1L730.8,212.3ZM810.4,317.4L811.8,316.8L811.9,317.7L812.2,318.9L811.3,319.1L809.9,318.6ZM306.6,87.9L307.8,89.1L307.5,90.0L306.4,90.1L305.7,89.6ZM251.1,81.5L250.6,80.5L251.6,80.4L252.0,81.4ZM288.3,83.0L287.5,83.2L287.7,81.7L288.2,81.9ZM605.0,200.7L604.6,201.6L603.4,201.8L603.0,201.4L603.5,200.6L604.1,200.6ZM378.5,157.1L378.7,158.3L378.1,158.8L377.0,158.5L377.5,157.0ZM146.3,137.3L148.6,136.9L148.9,137.4L148.2,138.5L146.3,139.1L145.2,138.2ZM891.4,285.0L892.7,284.0L894.2,283.6L893.1,285.7L891.9,287.2ZM206.8,87.7L207.7,86.8L208.1,87.4L207.1,87.9ZM873.2,264.6L872.4,264.7L873.0,263.7L873.8,263.7ZM234.4,127.9L234.8,128.2L234.6,128.5L234.1,128.3L233.9,127.9ZM760.1,227.4L758.9,227.9L758.6,227.2L759.2,226.2L760.1,226.0L760.5,226.8ZM355.8,162.4L355.2,163.5L353.3,163.8L353.5,163.1L355.0,162.0ZM762.3,252.8L764.8,252.6L765.5,253.8L763.5,254.4ZM424.1,173.9L425.2,173.9L425.9,175.2L424.2,174.9ZM868.9,288.3L867.8,287.4L868.1,286.3L869.4,286.7ZM320.2,173.2L319.4,173.4L318.5,173.1L318.2,171.9L319.6,171.9L320.1,172.4ZM129.7,152.4L128.2,152.9L127.0,152.5L128.6,151.4ZM394.8,208.1L394.3,207.9L394.0,207.4L394.4,207.3L394.9,207.4L394.9,207.7ZM413.1,233.5L412.1,232.7L413.0,231.5L413.7,231.9ZM807.2,219.9L807.3,218.7L808.1,217.3L808.8,219.2L808.4,221.2ZM352.7,164.8L353.1,163.9L354.9,165.9L354.3,167.0ZM185.0,82.5L186.1,83.2L185.8,84.1L184.5,83.7ZM146.8,143.9L146.6,145.0L145.5,145.1L145.7,143.9L146.0,143.6ZM269.3,194.4L270.4,194.0L270.6,195.3L269.2,195.5ZM815.7,281.6L816.7,281.5L817.2,281.9L817.1,282.5L816.2,282.7ZM558.9,287.5L559.0,288.1L558.1,288.1L558.3,287.6ZM369.6,183.1L368.6,184.2L367.7,183.4L368.9,181.9ZM314.6,182.2L315.0,181.9L315.5,181.9L315.6,182.3L315.2,182.7L314.9,182.6ZM363.0,225.3L363.4,225.3L363.3,225.8L363.0,226.2L362.8,225.9L362.6,225.6ZM410.1,246.6L409.2,247.0L409.1,246.4L409.6,245.6L410.2,245.9ZM823.9,241.4L824.3,240.5L824.9,241.4L825.0,242.5L824.3,242.6L823.4,242.2ZM846.4,316.4L847.2,314.4L849.7,314.7L849.3,315.8ZM864.2,258.0L863.8,257.1L864.2,256.2L865.6,255.7L866.0,256.4L865.7,257.3ZM181.9,93.1L182.1,92.4L182.7,93.1L182.4,93.7ZM656.0,287.2L654.6,287.4L654.4,286.2L656.0,285.9ZM886.0,293.6L885.5,294.8L883.5,295.4L883.7,293.0ZM426.7,232.0L425.1,231.6L425.2,230.7L425.8,229.6L426.8,230.1L427.1,231.2ZM155.4,137.7L154.1,137.0L153.4,135.2L154.8,135.5L156.1,135.8L156.8,137.6ZM258.2,141.2L257.5,141.5L256.9,141.2L257.1,140.2L257.5,140.3L258.4,140.6ZM615.9,196.6L614.7,198.3L612.4,198.8L612.2,197.9L612.7,196.5L615.4,195.8ZM496.0,256.4L495.9,258.3L494.4,257.3L494.7,256.0ZM151.1,160.1L151.5,160.8L151.4,161.5L150.7,161.1L150.3,160.4ZM853.5,284.0L854.4,283.1L856.6,284.1L856.5,285.4L855.0,286.5L853.5,285.1ZM421.6,155.9L421.6,157.5L420.8,159.5L420.1,159.1L419.9,157.4L421.2,154.6ZM280.2,184.3L280.0,185.1L278.2,184.7L278.7,183.6ZM847.8,226.1L849.0,227.2L848.0,228.4L847.2,227.9ZM444.4,248.0L445.4,248.8L445.8,249.6L444.9,249.9L444.0,249.9L443.9,248.7ZM245.6,95.8L246.4,96.1L246.7,96.7L246.3,97.1L245.7,96.5ZM742.2,222.3L742.4,221.5L742.9,221.6L743.2,222.1L742.5,222.4ZM308.0,145.4L307.9,146.7L306.9,146.2L307.1,145.3ZM907.3,279.1L907.7,278.7L908.8,279.0L909.1,279.9L908.2,280.0L907.2,279.9ZM709.4,230.9L710.8,229.7L711.6,229.8L709.6,232.0ZM403.0,256.7L403.4,261.0L399.6,261.9L400.0,257.2ZM276.3,188.5L277.9,188.7L277.6,190.7L276.2,190.4ZM364.0,235.6L362.5,235.7L361.7,233.4L363.0,232.5ZM266.4,141.6L266.8,141.4L267.2,141.5L267.2,142.3L266.8,142.7ZM347.0,213.0L346.5,213.5L346.3,213.0L346.7,212.6ZM810.5,249.2L809.4,250.3L808.5,249.7L808.4,248.4L809.8,247.9ZM762.1,227.5L761.4,228.0L760.8,228.5L760.8,227.6L761.5,226.8L762.0,227.0ZM461.6,232.1L459.9,230.2L460.7,228.6L462.1,229.9ZM414.2,287.2L414.4,286.7L414.8,286.1L415.3,286.8L415.6,287.4L414.7,287.5ZM351.8,223.5L352.4,222.2L353.3,221.7L353.9,223.6L352.9,224.9ZM271.5,163.8L271.8,164.5L271.4,165.0L271.0,164.6ZM819.1,229.6L819.8,229.5L820.3,229.8L820.2,230.3L819.5,230.5L818.9,230.2ZM454.9,236.7L454.8,236.1L455.0,235.4L455.8,235.3L456.4,235.6L456.0,236.4ZM224.2,74.2L222.7,74.5L222.5,73.5L223.6,73.1ZM845.2,193.5L844.5,192.9L844.6,192.4L845.1,191.8L845.4,192.7ZM281.4,193.8L281.4,193.2L281.9,192.5L282.8,193.3L282.1,193.8ZM374.8,276.3L373.7,275.7L374.0,275.2L374.9,275.7ZM491.2,236.3L490.1,236.0L490.5,234.9L491.9,235.0L492.0,236.0ZM401.6,211.2L401.0,212.4L399.9,213.8L398.5,213.3L398.8,211.8L400.2,210.8ZM293.6,133.1L293.0,132.8L292.9,132.5L293.5,132.1L294.3,132.5L294.3,132.8ZM831.0,189.2L832.0,189.5L831.9,191.2L829.9,190.3ZM711.9,311.6L710.0,312.1L710.0,311.0L711.1,310.6ZM699.5,204.1L700.9,203.7L701.9,205.6L700.2,205.8ZM688.7,234.2L687.7,234.4L687.6,233.6L688.3,233.1ZM412.6,220.1L413.7,218.5L415.9,218.5L415.6,220.6L413.6,221.7ZM482.1,240.9L479.5,240.0L481.8,238.7L484.3,239.4ZM634.5,149.5L635.0,149.0L635.8,149.4L635.6,150.2L635.1,150.7L634.8,150.0ZM307.2,123.3L307.3,125.4L305.9,126.9L305.8,123.7ZM165.8,160.9L165.9,162.2L164.8,163.0L164.3,161.8L164.8,160.8ZM605.1,207.0L604.5,207.4L604.2,206.9L604.6,206.5L604.9,206.7ZM348.5,251.6L348.3,252.3L347.7,252.0L348.1,251.3ZM347.3,260.1L347.6,260.4L347.2,262.1L346.7,261.9L346.0,261.0L346.4,260.1ZM407.4,278.5L407.3,279.1L406.3,278.7L406.8,278.0ZM378.5,189.7L377.7,190.8L376.4,190.5L377.5,189.1ZM597.1,179.5L596.4,178.3L597.4,178.6L597.7,179.5ZM281.9,171.4L280.5,171.9L280.4,170.1L281.2,168.5L282.6,168.9L282.6,169.9ZM400.9,191.2L400.7,191.3L400.2,190.8L400.5,190.4L400.8,190.2L401.0,190.7ZM201.9,106.8L201.9,104.7L202.9,105.2L203.2,106.8ZM733.1,273.5L736.4,270.9L741.5,271.2L739.8,274.4L735.9,277.0L731.6,277.5ZM857.4,301.6L857.8,300.6L858.7,300.6L858.2,301.5ZM602.9,146.0L601.8,145.9L601.2,145.0L602.5,144.6ZM188.6,93.2L192.3,90.0L194.3,91.1L193.3,93.3ZM421.9,249.8L420.7,249.6L419.9,248.7L421.1,247.6L422.2,248.7ZM456.2,171.0L455.1,171.8L454.0,171.4L453.9,170.5L454.6,170.0L456.1,169.4ZM767.1,208.9L768.1,208.3L768.6,209.1L767.1,210.3ZM486.2,242.7L485.6,242.9L485.2,242.8L485.3,242.3L485.7,242.0L486.2,242.4ZM221.4,134.2L221.8,133.3L222.9,133.0L223.1,134.5L222.4,134.8ZM525.0,295.7L525.0,295.0L526.0,295.0L526.1,295.5ZM292.0,92.5L291.0,93.8L290.6,93.5L291.3,92.1ZM198.1,97.5L195.3,96.8L194.4,94.9L197.0,95.2ZM776.8,312.6L775.7,313.0L775.2,312.2L775.7,311.4ZM669.9,207.4L670.5,206.6L671.3,208.8L670.3,208.8ZM821.1,244.0L822.0,245.0L821.3,245.2L820.6,244.4ZM826.5,256.9L825.8,257.4L824.8,257.4L823.9,256.7L824.9,256.3ZM838.8,293.1L837.6,294.0L836.7,293.3L838.0,292.0ZM252.8,155.2L249.8,154.0L251.4,152.7L254.9,153.3ZM856.3,263.4L857.1,263.1L857.8,263.1L857.8,264.2L857.5,264.4L856.8,264.3ZM427.8,239.2L426.4,239.8L426.4,239.0L427.2,238.2L428.7,238.4ZM126.3,144.3L125.5,145.9L123.2,145.5L121.8,144.1L123.4,143.4ZM371.6,255.3L373.5,254.7L372.7,257.2L371.8,258.8L370.6,257.8ZM478.0,239.6L478.3,239.2L478.5,239.7L478.1,239.9ZM275.4,129.0L276.1,128.5L276.4,129.2L275.8,129.6ZM156.9,148.4L158.4,148.2L159.6,148.9L159.4,150.1L157.8,150.1L156.9,149.1ZM257.5,178.8L257.4,178.3L259.3,178.5L260.2,179.5L258.8,179.4ZM856.5,272.9L858.6,272.3L858.1,275.2L855.5,275.7ZM632.5,266.5L632.7,267.6L631.6,267.8L631.2,266.5ZM236.8,151.3L237.5,151.3L237.3,152.2L236.4,152.0ZM771.6,334.3L772.9,335.5L771.6,336.6L770.6,335.1ZM672.8,209.1L672.4,210.1L671.9,209.6L672.3,209.0ZM862.8,289.4L864.8,291.3L865.5,293.7L863.5,293.1L862.6,292.0ZM453.2,197.6L452.4,197.8L452.4,197.1L453.2,197.1ZM189.7,91.3L189.3,93.3L188.4,91.4L188.4,89.9ZM888.5,276.9L888.2,276.6L888.2,276.1L888.6,276.1L888.7,276.4ZM391.7,141.9L393.5,142.5L394.1,143.6L391.9,143.2ZM288.6,99.5L289.9,99.3L289.4,100.8L288.3,100.5ZM372.5,259.6L372.3,258.4L373.0,258.1L374.1,259.6L373.3,260.4ZM166.6,138.3L164.9,139.1L164.8,138.0L166.6,136.8ZM327.8,152.8L326.3,152.8L325.8,152.2L327.1,152.0ZM711.8,200.8L712.4,201.4L711.6,201.8L711.0,201.7L711.0,200.9ZM700.6,242.3L700.5,241.3L702.1,241.7L702.2,243.2ZM508.9,244.9L507.2,244.4L505.3,244.1L504.2,241.9L506.4,241.7L507.6,241.9ZM207.5,137.1L209.0,137.0L209.0,137.4L208.7,137.6L208.0,137.8L207.1,137.5ZM590.8,311.3L590.0,311.4L589.2,310.6L589.8,310.0L591.0,309.8L591.5,310.7ZM386.1,286.8L386.5,287.0L386.3,287.6L385.4,287.6ZM829.8,303.7L830.1,302.9L831.0,303.6L830.7,304.2ZM840.8,186.9L840.3,187.0L840.4,186.4L840.9,186.3ZM286.5,120.5L286.0,120.0L286.2,119.8L286.4,119.6L286.8,119.8L287.0,120.3ZM343.5,177.5L343.1,177.1L343.3,176.2L343.8,177.1ZM310.8,248.8L311.4,247.9L312.1,248.3L312.2,249.3L311.6,249.4ZM474.6,227.1L474.0,226.8L473.8,226.1L474.0,225.6L474.6,225.8L475.0,226.5ZM425.3,174.4L426.0,174.0L426.2,174.5L425.5,174.9ZM339.0,222.1L338.2,221.6L338.2,220.1L339.4,220.5L339.6,221.5ZM375.0,231.1L375.5,230.4L376.5,230.6L376.0,231.6ZM594.8,203.5L595.0,204.0L594.5,204.4L594.2,204.3L594.1,203.6L594.5,203.3ZM162.1,153.6L161.4,153.1L161.7,152.5L161.9,152.0L162.4,152.5L162.5,153.1ZM902.7,292.4L902.4,291.4L903.0,291.0L903.4,292.0L903.1,292.5ZM264.9,150.9L266.5,149.1L266.6,150.6L265.8,151.8ZM757.4,204.3L758.2,205.2L757.4,205.9L756.3,205.2ZM804.2,225.1L805.2,225.7L804.9,226.3L803.9,226.4ZM303.9,142.0L302.9,140.6L304.0,140.0L305.2,142.1ZM707.4,332.2L706.0,334.5L705.0,333.2L706.3,330.6ZM352.6,195.3L352.2,195.7L351.6,195.1L352.2,194.5ZM709.8,285.3L709.1,284.1L710.0,284.0L710.7,284.7ZM870.8,280.3L870.2,280.7L869.3,280.0L869.5,278.3L870.7,278.4L870.7,279.3ZM390.9,152.6L392.8,152.8L393.3,154.1L392.1,154.5ZM234.6,68.5L235.9,68.5L236.4,70.1L235.4,70.4ZM313.9,209.1L314.7,209.0L314.4,210.1L313.4,210.0ZM164.4,171.0L164.7,172.2L163.9,173.1L161.9,172.2L162.3,171.1ZM294.6,90.8L294.3,89.6L295.7,89.0L295.6,90.6ZM239.0,147.3L240.0,146.9L240.2,147.8L239.6,148.3ZM433.8,279.7L433.2,279.0L433.8,278.7L434.2,279.1ZM893.4,276.8L894.1,278.0L890.5,278.7L890.1,276.7ZM638.0,220.7L637.5,221.3L636.7,220.2L637.3,219.9ZM276.5,89.4L275.5,89.9L274.7,89.2L274.7,88.3L275.7,87.4ZM296.4,217.4L295.4,217.5L295.5,217.1L295.8,216.8L296.4,216.7L296.8,217.0ZM630.4,201.2L630.9,202.1L629.6,202.2L629.4,201.5ZM105.6,142.7L106.0,142.3L107.0,142.4L106.5,142.9ZM462.1,235.8L461.7,237.9L460.0,236.9L460.7,235.5ZM270.2,129.8L270.9,130.1L270.6,130.6L270.0,130.3ZM866.0,299.0L866.0,299.7L865.3,299.7L865.6,298.9ZM398.9,142.9L399.1,143.3L398.5,143.7L398.0,143.3L397.8,142.9L398.0,142.7ZM790.2,331.5L789.6,332.2L788.8,331.8L789.1,331.0L789.2,330.6L790.1,330.9ZM434.1,184.9L433.9,185.3L433.4,185.8L432.9,185.5L432.8,184.9L433.6,184.2ZM484.5,230.8L485.5,230.5L486.2,231.3L485.9,231.9L484.3,231.2ZM598.9,193.7L598.8,194.2L598.3,193.9L598.2,193.3L598.4,192.9L598.8,193.2ZM827.4,263.7L828.8,260.3L830.2,260.6L829.2,263.4ZM330.1,150.8L328.9,150.1L328.5,148.8L328.8,147.9L329.7,148.6L330.3,149.5ZM650.6,279.9L650.4,281.0L648.7,280.8L648.4,279.7L650.0,278.8ZM568.6,280.4L567.6,281.4L567.1,279.7L568.2,278.8ZM859.8,279.9L859.3,280.5L858.4,280.1L859.0,279.6ZM699.4,231.0L699.8,230.0L700.7,230.1L700.5,231.0ZM201.1,89.4L199.1,91.4L196.9,89.7L197.6,88.2ZM155.4,136.1L155.9,136.2L155.9,136.4L155.6,136.9L155.3,137.1L155.0,136.7ZM440.5,304.6L440.6,303.8L441.3,303.9L441.1,304.7ZM643.9,303.7L644.1,302.5L644.5,303.0L644.4,304.1ZM218.3,195.2L218.1,194.4L218.1,193.4L219.1,193.1L219.9,194.4L219.6,195.5ZM650.1,317.0L649.5,316.2L649.8,315.5L650.9,315.5L651.2,316.1ZM843.8,264.7L843.6,264.4L843.3,264.2L843.8,263.8L844.1,264.0L844.2,264.2ZM617.0,170.8L615.2,170.0L615.8,169.0L617.1,168.8L617.8,169.3ZM329.8,176.6L331.2,176.4L330.6,177.8L329.2,177.8ZM382.5,227.9L382.5,227.0L383.9,227.4L384.2,228.8ZM340.5,230.6L340.9,230.8L340.7,231.1L339.8,231.7L339.4,231.5L340.0,230.7ZM432.2,170.9L431.7,170.5L431.9,169.9L432.5,170.1ZM709.4,228.3L710.1,228.2L710.3,228.9L709.4,229.3ZM545.9,257.0L544.5,259.6L542.5,259.2L544.1,256.8ZM889.1,276.1L889.3,276.7L888.3,277.0L888.1,276.4ZM385.3,224.1L384.8,224.2L384.1,224.1L383.5,223.0L384.0,222.5L384.8,222.5ZM801.1,241.2L799.5,240.6L799.2,239.1L800.8,238.2L801.9,239.2L802.6,240.3ZM800.1,238.6L801.5,239.2L800.6,240.9L799.1,241.1ZM431.6,278.0L433.7,276.2L435.5,276.7L433.3,278.6ZM603.6,193.2L603.2,193.7L602.0,194.3L601.8,193.9L602.5,192.7L603.3,192.0ZM878.0,204.4L878.8,204.7L878.8,205.8L877.3,206.2L877.0,205.0ZM358.0,177.0L357.2,176.6L357.3,175.8L358.0,175.8L358.4,176.8ZM347.1,234.4L344.3,235.8L344.2,233.2L347.1,232.4ZM529.6,248.6L529.4,249.2L528.5,249.0L528.7,248.1ZM240.0,76.9L238.6,76.6L238.9,75.5L240.2,74.6L241.6,74.3L241.7,75.7ZM240.1,132.4L239.3,131.9L239.4,130.5L241.4,129.6L242.2,130.4L241.5,131.4ZM260.4,100.6L260.3,99.5L260.4,98.8L261.5,98.4L261.7,98.9L261.4,100.1ZM284.3,140.0L284.4,138.3L286.4,138.1L285.9,140.1ZM591.5,197.6L592.1,197.1L592.6,197.3L591.8,198.1ZM808.9,256.2L808.8,255.6L809.3,255.2L809.5,255.6ZM896.5,266.4L895.8,266.6L895.6,265.9L896.3,265.4L896.9,265.4L897.2,266.1ZM266.0,150.9L267.4,153.2L265.9,154.1L264.7,152.5ZM258.5,129.2L257.0,127.8L258.2,126.9L260.0,128.5ZM372.4,278.6L373.1,278.6L373.0,279.5L372.6,279.9L371.9,279.5L371.9,278.5ZM850.1,263.0L850.4,264.0L849.7,264.4L849.5,263.4ZM283.7,96.0L283.7,96.6L282.9,96.6L282.7,95.6ZM802.5,240.4L801.5,241.3L800.1,241.2L800.6,240.1ZM254.3,144.1L254.4,145.6L253.1,144.8L252.1,143.4L252.3,142.0L253.5,142.6ZM598.1,211.0L597.8,211.5L597.1,211.1L597.5,210.6ZM864.2,227.7L863.7,227.2L863.8,226.7L864.6,226.9ZM866.4,261.6L866.8,261.9L866.2,262.3L865.6,262.0ZM802.3,232.4L800.8,230.0L804.3,229.7L805.9,232.6ZM314.3,162.8L315.0,163.2L315.6,163.8L315.1,164.5L314.2,164.0ZM253.8,93.6L254.1,93.5L254.5,93.5L254.5,94.2L254.1,94.5L253.7,94.1ZM452.4,280.8L450.7,283.4L450.1,281.9L450.5,280.3L451.8,279.3ZM243.5,120.6L243.0,121.5L242.2,120.9L242.9,119.7ZM141.2,147.1L139.2,147.1L139.5,143.8L140.4,141.9L141.8,144.5ZM427.6,174.3L426.6,173.1L428.2,172.5L429.5,173.0L430.0,174.7ZM473.0,250.7L471.4,248.7L473.3,249.3L474.3,250.7ZM745.8,221.9L746.3,221.6L746.8,221.9L746.7,222.6L746.4,223.3L745.7,222.6ZM775.6,237.0L775.2,236.8L775.0,236.5L775.4,236.2L775.8,236.4ZM309.7,151.3L310.6,150.9L311.1,151.6L309.8,152.3ZM865.0,263.5L866.0,263.4L867.0,264.6L865.8,264.8ZM119.1,145.3L120.2,145.4L120.0,146.0L119.2,145.7ZM651.7,277.0L650.2,277.1L649.4,275.7L650.7,275.3ZM220.6,82.2L221.4,83.2L220.0,83.8L219.2,82.5ZM231.8,134.5L230.3,134.2L230.2,133.5L230.8,133.1L232.3,133.7L232.3,134.1ZM885.6,217.4L884.5,217.9L884.8,217.1L886.1,216.5ZM202.4,164.8L203.0,163.9L203.8,163.8L204.2,164.6L203.2,165.7L202.3,166.0ZM847.4,258.7L847.5,258.1L848.3,258.3L848.0,258.9ZM794.0,214.3L794.1,214.9L793.1,214.9L793.0,214.3L793.6,214.1ZM488.7,247.0L487.9,246.9L488.3,245.3L489.5,244.9L490.1,245.1L489.6,246.5ZM197.5,161.3L197.8,162.2L197.4,163.4L196.3,163.5L196.6,162.2ZM384.6,201.1L384.0,201.3L383.9,200.7L384.5,200.6ZM416.2,208.2L415.1,207.6L415.7,206.7L417.2,207.5ZM773.2,327.3L774.0,326.6L774.5,327.9L773.8,328.1ZM629.5,221.8L630.2,221.8L630.4,222.3L629.7,222.3ZM187.1,100.6L189.0,99.5L189.4,100.7L188.1,102.2L185.6,102.3ZM475.5,237.6L476.3,237.1L476.8,238.0L475.7,238.5ZM158.0,194.2L159.6,195.4L158.5,196.7L156.5,195.2ZM880.3,271.1L880.2,269.8L881.2,269.9L881.6,270.7L880.8,271.4ZM456.0,262.1L455.3,261.1L456.3,260.0L457.7,260.4L457.4,262.0ZM828.7,266.6L827.2,266.6L826.8,265.5L827.6,264.9L828.6,265.0L829.1,265.7ZM652.9,233.0L652.8,234.2L651.9,234.7L651.4,233.8ZM482.1,247.7L482.1,246.8L482.3,246.3L483.0,245.9L483.3,247.1L482.7,247.8ZM146.6,144.8L146.9,144.4L147.7,144.4L147.7,144.8L147.0,145.3ZM287.7,109.3L286.1,109.6L286.0,107.5L287.6,107.5ZM865.6,285.6L866.6,286.4L866.1,287.1L865.2,286.6ZM867.7,273.5L867.8,275.8L866.0,274.6L865.1,272.7L866.6,271.8ZM601.9,303.8L601.3,303.1L601.4,302.8L602.0,302.3L602.8,303.4L603.1,304.1ZM839.6,255.8L839.1,255.6L839.3,255.0L839.6,254.5L840.1,255.1L839.9,255.6ZM748.8,237.9L749.4,237.6L749.5,238.3L749.1,238.9ZM276.0,102.8L274.6,103.6L273.9,102.4L275.2,101.8ZM300.3,87.8L300.9,88.4L299.9,89.3L299.4,88.7L299.4,87.7ZM479.6,235.1L480.2,235.5L479.8,236.3L479.1,236.0ZM767.2,230.1L766.5,229.8L766.6,229.3L767.3,229.1L767.9,229.7ZM468.5,281.6L469.1,281.5L469.6,282.4L469.1,282.9L468.5,283.0L468.2,282.4ZM464.8,164.6L465.1,165.0L464.4,165.7L463.9,165.9L464.3,165.0ZM283.7,114.2L284.6,114.3L285.3,115.3L284.3,115.8L283.2,115.5L283.5,114.9ZM476.3,242.6L475.6,243.0L475.1,242.8L474.7,242.0L475.4,241.9L476.0,241.9ZM845.0,254.5L845.3,254.2L845.7,254.7L845.5,255.1L845.2,255.4L844.7,255.0ZM839.1,188.0L839.2,187.4L840.3,187.3L841.1,188.4L840.0,188.6ZM307.0,121.2L307.3,120.7L308.0,121.5L307.9,122.5ZM735.9,224.8L735.5,226.5L734.6,225.7L734.7,224.4ZM239.3,86.5L240.2,85.8L240.6,86.0L241.6,86.6L240.9,87.8L239.4,88.0ZM638.6,281.4L639.1,280.1L639.8,280.6L639.6,281.8ZM805.8,197.1L807.4,197.1L807.7,199.1L805.3,198.3ZM305.7,220.8L306.1,223.8L299.8,225.0L302.2,221.3ZM516.8,294.8L515.8,293.4L516.7,292.3L517.4,293.5ZM194.5,116.1L193.8,116.3L193.3,115.5L194.0,114.7L194.8,115.3ZM502.8,278.8L502.5,278.0L503.8,277.3L504.9,277.7L503.9,278.9ZM273.4,139.1L273.5,138.6L273.9,138.6L274.4,139.0L274.2,139.6L273.7,139.3ZM758.5,315.1L760.3,314.9L762.0,317.5L761.3,318.8L760.0,317.9ZM376.7,179.2L376.6,179.9L375.8,179.5L375.7,178.8L375.9,178.5ZM586.6,202.3L586.6,201.7L587.1,201.5L587.5,202.0L587.2,202.4ZM334.6,167.2L335.1,167.3L335.0,167.7L334.5,167.9ZM113.7,166.9L112.8,166.9L112.3,166.2L113.3,164.0L114.2,164.1L115.0,164.5ZM376.2,214.4L377.3,215.2L377.7,216.1L377.0,217.7L374.9,217.4L375.1,215.6ZM289.2,191.3L288.9,190.9L289.0,190.5L289.6,190.7ZM285.3,104.0L285.6,103.7L286.0,104.2L285.8,104.4L285.4,104.3ZM590.3,201.1L591.1,200.8L591.6,201.3L591.3,201.7L590.5,201.8ZM663.9,196.5L662.6,196.2L662.9,195.2L664.9,195.6ZM895.5,286.4L897.1,285.3L899.7,286.0L900.5,288.3L897.3,289.0ZM133.0,147.9L132.0,147.4L132.8,146.3L133.5,146.9ZM748.7,256.4L748.5,255.9L748.7,255.7L749.2,255.7L749.3,256.3ZM140.9,124.6L139.3,125.3L139.4,124.1L140.7,123.7ZM645.5,290.5L646.3,290.3L646.8,291.0L645.9,291.3ZM285.9,158.6L285.7,161.1L284.4,161.0L284.0,159.0ZM664.1,323.3L664.2,321.9L665.5,322.0L665.4,323.0ZM863.0,274.4L862.3,274.2L862.2,273.1L862.6,273.1ZM217.4,88.5L217.5,89.2L216.7,89.7L216.1,89.3L216.6,88.7ZM267.4,137.8L268.0,139.4L267.0,140.4L266.1,139.9L266.6,138.4ZM857.1,249.2L857.4,248.6L858.1,248.4L858.0,249.3L857.4,249.5ZM149.3,137.4L149.6,134.8L151.7,132.9L153.2,135.3L152.1,137.4ZM298.0,195.3L297.8,195.8L297.6,195.8L297.3,195.4L297.4,195.0L297.7,195.1ZM479.3,236.3L480.2,235.0L481.2,237.4L480.6,238.2ZM612.2,280.0L610.5,278.9L612.2,278.7L613.5,280.1ZM627.7,285.7L628.8,285.5L628.3,286.3L627.5,286.1ZM831.0,186.0L830.3,186.5L829.7,186.2L830.3,185.6ZM262.0,143.2L261.4,144.3L260.2,143.2L260.1,141.9ZM833.8,251.6L833.7,252.3L833.1,252.9L832.7,252.3L832.1,251.3L832.9,251.2ZM265.3,188.0L265.4,186.9L266.9,186.7L267.0,187.6ZM208.8,132.8L207.1,132.4L206.6,130.8L208.5,131.3ZM842.2,203.6L842.3,202.4L843.3,201.3L844.6,201.4L843.8,203.2ZM452.2,171.7L451.5,171.8L451.2,171.4L451.7,171.1ZM300.4,97.4L300.9,98.3L300.1,98.4L299.4,97.5ZM616.5,211.3L616.9,212.0L616.5,212.4L616.1,212.1L616.1,211.4ZM726.2,320.2L726.5,320.9L725.7,320.9L725.7,320.4ZM839.0,218.6L839.4,219.1L838.3,219.6L838.2,219.1ZM212.0,102.2L212.6,100.8L213.2,101.2L213.6,102.6L212.7,103.4L212.1,103.8ZM487.2,295.3L487.8,295.7L487.4,296.1L487.0,295.7ZM396.7,277.3L397.2,278.7L396.3,279.1L395.8,278.6L395.5,277.5ZM472.0,201.4L473.2,202.3L472.5,203.0L471.4,201.9ZM266.2,143.0L266.7,142.8L267.2,143.0L266.9,143.6L266.4,143.8L266.0,143.5ZM638.0,280.7L638.1,279.7L638.4,279.8L638.7,280.4L638.8,281.4L638.2,281.3ZM837.8,188.2L837.5,189.6L836.2,190.4L836.5,188.9ZM198.5,205.5L198.0,205.7L197.5,204.8L198.1,204.5ZM318.1,137.8L316.4,136.9L316.2,135.1L317.1,134.5L319.3,137.2ZM128.4,192.4L127.6,192.5L127.8,191.7L129.0,191.8ZM249.7,100.9L251.1,99.9L252.7,100.3L251.8,101.6L249.9,102.4ZM421.3,217.3L421.6,219.0L419.9,218.9L417.9,218.4L419.0,217.1ZM165.7,84.7L165.8,85.3L165.3,86.3L164.6,85.5L164.8,84.9ZM505.8,240.3L503.6,239.6L503.4,237.9L505.2,237.8ZM621.6,190.7L623.4,192.2L622.2,194.1L620.9,193.7L620.3,191.8ZM439.2,232.4L441.1,233.1L441.1,235.5L439.6,234.3ZM646.3,305.9L646.5,305.1L647.2,305.7L647.0,306.6ZM416.2,247.2L416.3,246.5L416.9,246.4L417.2,246.7L417.1,247.3L416.3,247.6ZM732.3,217.1L730.8,217.3L730.9,216.6L731.9,216.6ZM244.4,147.1L244.6,146.3L245.1,146.6L244.9,147.4ZM848.0,243.5L848.7,241.4L850.8,241.7L850.3,243.5ZM672.0,292.8L671.8,293.2L671.1,293.2L671.1,292.6L671.8,292.3ZM294.6,168.3L295.3,168.3L295.4,169.3L294.7,169.5L294.2,168.9ZM379.9,216.5L379.3,216.9L379.0,216.2L379.5,215.9ZM442.7,172.9L440.4,168.3L440.5,166.1L443.3,167.2L444.5,169.7L444.3,173.0ZM793.6,258.2L794.7,256.7L795.9,257.3L795.0,258.1ZM783.2,244.7L782.9,244.3L782.6,243.4L783.6,242.7L784.4,243.0L784.2,244.3ZM195.6,170.7L196.0,170.8L196.4,171.3L196.2,171.7L195.6,171.7L195.3,171.2ZM481.2,180.7L480.7,180.8L480.7,180.5L481.0,180.1L481.2,180.2ZM457.5,185.2L456.6,184.5L457.0,184.1L457.7,184.7ZM566.3,164.5L565.3,164.8L565.0,163.3L566.2,163.3ZM270.9,198.6L270.5,200.0L269.6,198.7L270.4,198.2ZM492.9,266.8L493.5,265.0L494.6,266.0L494.4,267.4L493.9,268.2L492.9,268.9ZM169.5,153.8L167.4,154.9L164.9,152.5L166.4,150.3L169.3,150.8ZM140.5,135.7L140.5,136.6L140.2,137.1L139.6,136.6L139.4,135.8ZM610.9,264.8L610.0,263.4L610.6,262.8L611.2,263.7ZM272.4,232.9L274.3,233.4L273.2,235.0L271.9,234.5ZM425.4,257.9L426.5,258.4L426.3,259.1L424.8,259.5ZM311.6,182.6L311.4,181.9L312.7,182.5L312.2,182.9ZM128.7,143.6L129.3,142.2L131.0,143.4L129.9,144.2ZM220.8,147.8L221.1,146.6L222.5,146.2L222.8,147.7ZM688.8,231.5L688.4,232.0L687.8,231.1L688.3,230.8ZM264.3,99.4L264.7,100.7L263.9,100.4L263.4,99.6ZM811.6,243.4L812.4,241.6L813.6,242.8L813.2,243.9ZM368.9,244.8L368.5,244.7L368.6,243.9L368.9,243.5L369.4,244.3L369.3,244.6ZM421.3,179.8L419.8,178.8L420.3,177.4L421.8,177.7L422.1,178.8ZM827.4,222.4L827.7,221.8L828.7,221.8L829.2,222.1L828.8,222.7L828.0,222.7ZM192.1,90.2L192.3,89.7L192.7,90.1L192.6,90.5ZM350.7,157.9L350.4,157.6L350.6,156.9L351.0,156.9L351.3,157.6L351.1,158.1ZM261.8,152.9L263.0,155.0L260.2,155.6L259.5,152.7ZM648.6,206.3L648.5,205.7L649.6,205.6L649.5,206.1ZM173.9,154.5L175.2,155.3L174.2,156.0L173.5,156.3L172.3,155.3L173.0,154.4ZM131.8,132.9L130.8,132.6L131.0,130.0L132.0,131.1ZM434.6,208.8L435.0,208.4L435.6,209.3L435.5,209.7L435.2,209.7L434.7,209.5ZM303.4,189.0L303.8,189.7L302.4,190.3L301.2,189.9L301.6,189.0ZM341.8,184.2L340.9,185.1L339.8,184.8L340.2,184.1ZM762.4,243.4L761.2,243.8L760.4,243.8L760.7,242.9L762.5,242.2L762.8,242.7ZM795.1,232.3L795.9,231.9L796.8,232.2L796.0,232.8L795.2,232.7ZM842.4,186.3L842.6,187.0L841.8,187.2L841.1,186.9L841.2,186.1ZM344.3,241.7L343.8,242.5L342.9,242.7L343.2,241.9ZM293.8,185.9L293.1,183.8L294.7,182.4L296.0,184.6ZM252.3,132.6L252.9,132.7L252.6,133.3L252.0,133.4ZM706.0,223.2L705.0,223.5L704.2,222.9L704.8,222.0L705.7,222.3ZM787.9,340.4L787.5,341.6L786.4,341.2L787.0,339.7ZM609.4,218.0L608.1,222.9L604.1,219.0L606.8,215.1ZM604.2,209.8L604.6,210.0L604.7,210.5L604.4,210.9L604.0,210.9L604.0,210.4ZM871.1,294.5L871.2,295.8L870.1,296.0L869.4,295.2L870.0,294.1ZM842.3,200.8L841.4,201.4L840.5,201.2L841.2,200.7ZM373.2,228.9L372.6,228.7L372.3,228.5L372.5,228.0L373.2,228.1ZM410.5,271.5L411.1,272.3L410.6,272.6L409.8,272.4L409.7,272.0L409.9,271.6ZM418.1,189.9L418.9,189.8L419.7,191.4L418.7,191.3ZM223.8,93.2L225.3,93.4L225.8,94.2L223.6,95.0L222.8,94.3ZM357.7,223.2L357.0,221.0L358.4,220.7L359.5,222.7ZM409.7,184.5L411.1,185.1L411.4,185.8L410.4,185.9ZM661.9,286.4L661.5,285.9L661.8,285.6L662.6,285.7L662.8,286.0L662.4,286.6ZM598.8,220.4L599.1,220.1L599.4,220.4L599.5,220.9L598.9,220.9ZM271.3,128.0L270.9,128.6L269.3,128.0L269.7,127.4ZM202.3,98.2L202.4,97.1L202.9,97.6L202.8,98.3ZM411.4,236.7L410.5,236.3L411.0,235.6L412.1,235.7ZM672.6,293.4L671.8,293.0L673.1,292.6L673.7,292.8L674.3,293.6L673.7,294.0ZM836.6,266.3L837.9,263.7L839.9,264.2L839.0,266.2ZM391.8,224.2L391.5,223.5L392.9,223.4L393.3,224.2ZM258.7,123.5L256.9,122.4L257.9,121.1L259.6,122.2ZM266.0,95.2L265.9,94.3L266.1,93.8L266.8,95.1L266.7,95.8ZM605.6,231.3L606.1,229.6L607.9,229.9L607.2,231.6ZM625.0,194.5L624.8,193.6L625.9,193.6L626.2,194.7ZM781.4,225.9L781.6,226.3L781.4,226.9L781.1,226.5ZM192.7,160.4L191.9,160.3L192.2,159.7L193.2,159.8ZM155.2,167.0L155.6,167.6L155.5,169.3L154.9,169.5L154.1,168.6L154.4,167.8ZM160.8,82.8L159.4,83.0L158.6,82.7L158.4,81.7L159.8,81.2L160.7,82.2ZM716.7,207.1L715.9,207.0L715.9,205.9L716.5,205.3L717.2,205.6L717.2,206.6ZM320.0,184.3L320.3,184.4L320.7,184.5L320.7,184.9L320.4,185.0L320.1,184.9ZM648.6,272.2L648.6,273.1L647.4,273.5L647.5,272.4L647.7,271.7L648.4,271.7ZM891.8,287.0L893.7,286.5L895.1,288.9L893.4,289.4L891.8,289.1ZM146.8,142.9L146.1,143.2L145.5,142.4L146.0,142.1ZM824.7,222.6L824.1,222.1L824.3,221.1L825.0,220.6L825.6,221.2L825.3,222.2ZM431.6,265.9L432.4,266.0L432.1,266.8L431.9,267.1L431.4,266.9L431.3,266.1ZM306.4,115.5L306.8,116.4L306.6,117.0L305.8,116.7L305.9,115.8L306.0,115.2ZM220.7,73.2L219.2,75.2L217.1,75.1L217.9,73.6ZM214.7,98.6L213.5,98.1L213.8,97.5L214.7,97.4L215.7,98.2L215.5,99.1ZM684.1,194.7L684.0,194.1L684.7,193.7L684.8,194.4ZM858.2,284.2L857.5,285.0L856.7,284.8L857.7,284.0ZM432.7,168.3L433.2,168.2L433.4,168.5L433.2,169.0L432.9,169.0ZM232.7,121.1L233.1,122.0L231.4,122.6L230.5,122.6L230.2,122.2L231.4,121.2ZM679.0,225.8L680.4,227.3L679.9,227.9L678.6,227.3L678.0,226.1ZM807.0,256.6L807.3,258.3L806.5,259.1L804.7,259.5L803.6,257.3L804.6,256.3ZM628.6,269.8L627.5,269.4L627.6,268.5L628.2,268.3L629.0,269.1ZM854.7,235.1L853.6,234.6L853.6,233.9L854.4,234.2ZM218.3,91.7L218.2,91.0L218.8,90.9L219.0,91.4ZM733.3,318.8L734.2,319.1L734.7,319.5L734.2,320.2L733.6,320.0L732.8,319.3ZM784.2,224.7L783.6,224.5L783.8,223.9L784.8,224.0L785.3,224.7L785.0,224.9ZM619.2,169.0L619.0,169.4L618.4,169.1L618.4,168.5L618.8,168.7ZM282.1,89.3L280.5,89.7L278.8,88.9L278.5,88.1L280.7,88.2ZM624.7,195.1L624.4,194.4L625.2,194.4L625.3,195.1ZM857.4,249.1L856.6,247.5L858.5,246.6L859.1,247.8ZM915.6,281.7L916.1,282.0L915.6,283.0L914.6,283.1L914.2,282.5ZM417.3,158.4L417.0,159.5L415.3,159.6L415.5,158.5ZM215.3,211.8L215.3,213.4L214.3,214.4L214.3,213.1ZM833.2,191.1L834.9,192.6L833.9,193.0L832.9,192.7L832.0,190.9ZM870.4,291.5L871.5,291.7L870.7,293.5L869.3,293.4ZM565.7,282.7L568.0,283.2L566.1,284.4L564.4,284.8L564.0,283.4ZM601.0,291.6L602.9,293.3L603.1,295.5L601.9,294.7L600.5,293.4ZM373.0,176.4L372.9,179.3L371.0,179.7L370.9,177.1ZM461.7,239.1L461.0,239.2L460.0,239.0L461.2,238.1L462.6,237.8L462.7,238.5ZM692.6,257.9L692.0,256.3L692.4,255.3L693.8,254.1L694.7,256.0L694.3,257.8ZM289.5,198.3L289.2,197.6L289.9,197.2L290.0,197.8ZM170.8,144.5L171.0,145.1L170.2,144.9L170.0,144.1ZM235.8,88.0L237.4,88.3L237.4,89.0L236.4,89.4L234.8,88.9ZM773.5,318.4L773.4,317.6L774.0,316.9L774.6,317.9ZM362.5,265.3L363.6,265.1L364.2,267.2L362.7,268.2L362.0,266.7ZM426.0,247.9L425.0,248.4L424.3,248.1L424.8,247.6L425.5,247.5ZM553.7,279.3L553.1,280.7L551.9,280.6L551.9,279.5L553.0,278.6ZM910.9,290.1L909.7,290.6L908.9,290.0L909.5,288.9L910.8,289.2ZM187.2,84.2L188.5,83.4L189.3,84.3L187.8,85.9L186.3,86.6L185.5,85.9ZM339.9,136.0L339.5,135.5L340.7,135.5L341.1,136.4ZM767.2,329.4L766.4,328.8L767.2,328.5L767.9,328.7ZM479.3,300.8L478.9,300.1L479.5,299.1L480.2,298.4L480.7,300.3L479.9,300.9ZM798.2,237.1L798.9,236.5L799.4,237.0L798.4,237.5ZM861.9,257.7L863.3,256.8L864.6,257.0L863.6,258.0L862.3,258.2ZM864.7,272.2L865.5,272.7L865.2,274.1L864.4,275.1L864.1,273.4ZM268.5,83.4L267.9,83.5L267.3,82.7L267.9,82.5L268.3,82.7ZM710.0,323.6L711.0,323.1L711.7,324.3L711.4,325.0L710.2,324.6ZM348.7,174.9L349.7,175.3L350.2,177.5L349.0,176.4ZM356.0,205.1L355.5,206.0L354.7,205.9L355.2,205.0ZM557.3,277.7L556.7,276.1L557.0,275.1L558.5,276.6L558.6,277.9ZM391.6,245.2L392.0,246.2L391.5,246.4L390.9,245.7L391.0,244.7ZM843.7,253.0L843.2,253.3L843.0,253.3L842.8,252.9L843.1,252.5L843.5,252.7ZM347.2,187.8L347.2,188.7L347.0,189.4L345.9,190.0L345.8,189.0L346.5,187.8ZM775.8,323.2L776.6,322.0L777.2,320.9L777.6,322.1L776.7,324.2L776.0,324.1ZM768.1,326.1L768.8,326.3L769.4,326.6L769.0,327.0L768.2,327.2L767.8,326.5ZM804.8,211.7L804.3,211.5L804.6,210.9L805.1,210.9ZM617.7,266.9L618.1,268.8L617.0,268.7L616.5,266.9ZM614.3,211.2L615.2,212.2L613.5,213.0L613.3,212.4ZM679.3,226.7L680.6,226.9L682.0,228.6L680.5,228.5ZM428.7,242.0L429.4,242.9L429.0,243.4L428.3,243.0L428.4,242.3ZM389.7,217.9L391.6,217.5L392.2,218.5L390.5,218.7ZM394.4,218.4L395.1,217.5L396.1,217.8L395.3,218.9ZM359.6,194.3L358.9,193.6L360.0,193.0L360.6,193.6ZM870.5,291.5L869.9,291.4L869.9,290.9L870.2,290.8L870.7,291.0L870.9,291.3ZM865.8,229.5L867.3,230.0L866.3,231.8L864.6,230.7ZM802.0,317.3L801.0,316.2L801.1,315.5L801.7,315.2L802.4,316.4ZM376.5,247.4L376.4,249.1L375.7,249.6L374.9,249.4L375.4,247.6ZM201.2,104.8L201.0,107.3L198.5,106.6L199.2,104.6ZM675.8,205.2L674.9,205.2L674.6,204.3L674.8,203.9L675.4,203.3L676.3,204.4ZM789.3,242.5L789.7,244.0L788.6,244.2L787.4,244.1L787.1,242.8L787.7,242.2ZM581.1,154.6L581.0,155.6L580.1,155.4L580.4,154.3ZM745.3,223.8L745.2,224.3L744.9,224.6L744.2,224.4L744.3,223.8L744.6,223.6ZM605.7,193.1L606.0,192.7L606.6,193.0L606.4,193.6L606.2,194.0L605.6,193.8ZM206.1,174.6L205.6,173.5L205.9,171.4L207.5,171.9L207.4,173.3ZM833.9,278.5L835.4,278.5L836.1,278.9L835.3,279.9L834.4,279.6ZM802.5,323.1L801.9,322.1L803.3,321.4L803.8,322.3ZM124.8,139.8L123.7,139.4L124.0,138.5L125.0,138.7ZM668.8,192.0L669.2,192.4L668.7,192.8L668.3,192.5ZM390.4,213.0L389.0,211.7L388.8,210.3L390.7,211.2ZM608.9,216.2L609.6,215.4L610.0,216.0L609.4,216.7ZM760.3,264.1L760.6,264.8L759.7,264.7L759.0,264.1ZM141.7,145.4L140.4,145.3L139.9,144.6L140.6,143.6L142.0,143.6L142.6,144.2ZM609.1,179.4L609.2,178.7L609.8,178.7L610.3,179.5L609.7,180.3ZM415.0,183.8L414.0,184.2L413.6,182.8L414.9,182.8ZM632.0,200.9L635.1,203.4L632.7,203.8L629.4,201.5ZM853.8,282.5L854.3,281.0L856.2,280.8L856.4,282.0L855.0,282.8ZM854.9,246.4L855.7,246.7L854.7,247.4L854.2,246.9ZM186.1,172.1L185.6,172.9L183.7,171.9L184.3,171.1ZM492.8,247.5L494.0,248.9L492.6,249.6L490.8,249.6L491.2,248.0ZM616.8,277.9L616.5,276.7L617.4,276.0L618.5,275.7L618.0,277.1ZM667.6,294.3L670.4,295.6L670.5,298.5L668.6,298.7ZM761.9,320.6L760.6,320.6L760.2,318.6L761.1,318.0ZM710.3,218.6L710.8,218.5L711.1,219.5L710.5,220.2L709.7,220.9L709.6,219.4ZM179.9,147.9L179.1,148.3L177.7,147.2L177.7,146.0L179.3,147.0ZM800.8,218.1L801.3,218.5L801.3,219.0L800.6,219.1L800.3,218.6ZM605.8,295.9L604.8,294.7L606.1,294.2L608.1,294.5L608.3,296.0ZM246.4,130.4L246.9,131.0L246.6,131.4L245.9,131.4L245.6,130.5ZM382.3,169.8L382.3,169.5L382.5,169.1L382.8,169.2L383.1,169.4L382.8,169.7ZM538.6,254.3L537.8,255.0L536.8,254.9L537.8,253.9ZM461.9,277.2L462.7,275.4L463.9,276.3L463.6,277.3ZM809.0,238.2L807.6,239.1L806.8,237.3L808.6,236.8ZM788.1,208.5L787.6,208.1L788.0,207.7L788.3,208.0ZM243.4,121.3L243.7,120.3L244.3,120.3L244.0,121.3ZM325.1,156.7L325.4,156.0L326.3,156.1L326.7,156.7ZM267.4,210.4L267.8,211.6L266.0,211.5L266.4,209.9ZM183.8,139.7L184.1,140.2L183.4,140.6L183.3,140.2ZM450.8,254.7L450.5,255.8L449.9,256.1L448.9,256.2L449.3,255.1L450.2,254.6ZM197.1,139.4L198.2,139.1L198.6,140.3L197.5,141.0L196.8,140.4ZM746.2,227.7L746.9,228.3L746.6,228.9L745.1,228.6L744.2,228.1L745.0,227.5ZM806.4,228.3L807.7,226.6L808.4,227.3L808.5,228.4L807.9,229.8L806.5,230.2ZM244.1,113.4L244.1,114.0L243.6,113.9L243.2,113.6L243.7,113.1ZM688.9,201.5L689.4,201.3L690.0,202.3L689.6,202.6L688.9,202.3ZM413.6,283.8L413.5,283.3L413.8,282.0L414.1,282.4L414.2,282.9L414.0,283.5ZM906.5,287.2L905.7,287.2L905.5,286.9L906.0,286.6L906.8,286.8ZM545.8,238.8L546.9,238.8L546.6,239.7L545.9,240.4L545.6,239.4ZM331.2,177.7L331.4,179.0L330.0,179.3L329.6,178.0L330.1,176.7ZM728.9,322.3L729.2,322.4L729.4,323.2L729.1,323.4L728.8,323.1L728.5,322.7ZM493.3,226.9L492.5,226.8L491.7,226.5L492.7,225.4L493.9,225.2L493.8,225.8ZM580.8,150.6L580.1,150.7L579.5,150.2L580.6,150.0ZM799.1,230.5L798.5,230.8L797.1,230.9L796.3,230.1L797.0,228.9L798.9,229.5ZM474.7,237.1L474.7,236.2L475.6,236.0L475.7,236.5ZM248.2,132.8L247.5,132.3L247.3,131.8L247.7,131.7L248.6,131.9L248.7,132.7ZM871.9,265.1L871.4,266.0L870.9,265.5L870.5,264.8L871.3,264.3ZM644.8,268.9L645.3,268.6L645.7,269.1L645.6,269.6L645.0,269.4ZM137.3,143.1L136.6,143.1L136.5,141.2L137.2,140.7L138.2,141.4L137.6,142.7ZM204.6,90.2L204.3,90.8L203.6,91.0L202.7,90.4L203.4,89.7L204.2,89.6ZM835.6,265.3L834.0,265.4L833.4,264.7L833.2,263.6L834.7,263.0L835.9,264.0ZM247.2,155.3L246.6,154.6L246.8,153.9L248.1,154.3L249.1,155.3L249.0,155.8ZM297.5,193.0L296.5,193.4L296.2,192.9L297.1,192.4L297.7,192.4ZM401.5,279.6L403.0,279.9L403.5,281.2L403.0,281.6L402.1,281.3L401.6,280.3ZM530.2,278.2L529.0,278.9L528.0,278.1L528.9,277.5L530.1,277.4ZM834.3,256.2L836.6,257.3L836.7,260.1L834.3,261.1L832.7,259.8L832.8,257.1ZM384.8,272.5L383.7,272.8L383.0,272.0L384.8,271.1ZM493.0,239.9L493.8,240.1L493.4,240.9L492.7,240.6ZM168.3,160.7L169.8,159.6L169.5,162.1L168.0,162.5ZM314.1,173.2L313.7,174.5L313.2,173.7L313.5,173.0ZM436.3,186.6L435.9,185.4L436.8,184.7L437.7,184.8L437.6,185.7L437.3,187.0ZM602.1,219.3L602.4,218.5L603.4,219.4L602.9,220.0ZM588.0,246.4L589.2,245.7L590.4,245.7L590.1,247.2L589.2,247.5ZM359.4,242.3L360.0,243.8L359.3,244.9L358.7,244.1L358.4,243.1L358.7,242.6ZM420.8,265.9L422.0,263.4L423.3,263.7L422.6,266.1ZM623.2,204.6L623.2,205.3L622.7,205.6L622.6,204.8ZM608.8,186.1L608.3,187.3L607.6,185.5L608.1,184.4ZM219.3,80.3L219.8,80.1L220.3,80.9L220.2,81.3L220.1,81.6L219.3,81.2ZM239.3,81.4L238.6,80.7L239.6,79.7L240.7,79.4L241.6,80.2L240.6,80.8ZM510.2,303.9L510.6,304.4L510.4,304.7L510.1,304.7L509.8,304.4L510.0,304.0ZM413.2,277.6L413.1,279.1L412.0,279.0L411.0,278.7L409.9,276.4L411.5,276.4ZM844.2,221.8L844.7,219.3L847.3,219.1L846.8,221.1ZM836.2,234.2L836.9,233.8L838.7,235.3L837.0,235.5ZM721.7,265.9L721.5,266.4L721.1,266.0L721.1,265.7L721.5,265.5ZM486.8,235.8L485.4,235.9L485.7,234.4L486.9,234.5ZM850.7,212.7L851.2,210.7L851.8,212.0L851.3,213.8ZM399.3,281.8L399.7,281.9L399.9,282.2L399.3,282.6L398.8,282.5L398.7,282.0ZM489.4,244.9L489.3,244.0L490.7,243.3L491.7,243.8L491.1,245.0ZM682.4,271.4L683.3,271.7L683.2,273.1L681.7,273.9L681.4,271.9ZM145.4,158.4L146.2,158.9L145.6,159.8L144.5,159.8L144.4,159.0L144.9,158.5ZM147.0,145.2L147.4,145.2L147.7,145.8L147.8,146.4L147.4,146.2L146.9,145.7ZM307.1,134.0L306.5,134.5L306.0,133.8L306.8,133.3ZM778.9,302.0L779.1,300.9L779.7,300.9L779.5,301.9ZM267.3,90.4L268.0,90.7L267.7,91.2L266.8,91.6L266.3,91.3L266.6,90.7ZM336.4,238.9L334.7,239.5L333.5,238.5L335.2,237.0L336.5,237.5ZM401.2,256.5L401.3,256.1L401.8,256.0L402.0,256.5L401.7,256.8ZM375.6,217.5L376.9,217.1L377.3,218.9L375.6,219.0ZM342.8,227.4L342.8,228.4L341.5,228.8L341.7,227.2ZM393.7,168.3L393.3,168.8L392.8,168.5L393.0,168.0ZM852.4,240.9L852.1,239.9L853.2,240.0L853.9,240.6L853.3,241.3ZM433.5,172.4L435.0,172.1L436.6,173.3L435.5,174.7L433.9,173.9ZM647.1,198.5L647.5,198.5L648.1,198.7L648.3,199.2L647.8,199.4L647.1,199.3ZM151.7,144.2L152.6,144.7L152.4,146.2L151.4,146.4ZM400.2,171.8L401.2,171.4L401.4,172.3L400.6,172.8ZM591.7,240.5L590.8,240.8L591.1,239.7L591.8,239.5ZM898.4,269.7L898.8,269.4L899.5,269.8L899.1,270.7L898.6,270.8L897.9,270.5ZM127.3,160.0L127.0,159.1L127.1,158.4L127.5,158.6L128.0,159.5L127.8,160.2ZM406.4,240.7L407.0,239.7L410.2,240.3L408.9,241.7ZM420.4,209.9L420.9,209.7L421.1,210.5L420.5,210.4ZM487.6,239.5L488.0,238.8L488.6,239.6L488.2,240.4ZM395.1,243.0L395.0,241.3L396.6,239.8L397.2,240.9L396.5,242.6ZM269.3,128.2L270.7,128.5L269.9,130.1L268.2,129.4ZM254.3,128.3L253.8,127.4L254.8,126.5L255.3,127.6ZM603.2,264.7L601.6,264.7L603.3,263.2L604.5,263.9ZM898.8,265.8L899.3,265.3L899.4,265.9L898.8,266.2ZM764.9,321.1L764.9,320.5L766.3,319.9L767.2,320.7L766.4,321.6ZM855.1,230.7L855.9,231.0L855.2,232.1L854.0,232.3ZM166.8,75.6L167.5,76.0L167.4,76.4L166.9,76.5L166.2,76.0L166.4,75.4ZM418.7,267.7L419.1,267.0L419.7,267.2L419.3,267.9ZM652.6,240.8L653.6,241.8L653.5,242.5L652.3,242.6L651.6,241.3ZM346.5,233.4L345.7,234.2L345.1,233.6L345.8,232.6ZM449.3,185.0L447.2,186.6L445.6,185.6L447.4,184.0ZM198.8,136.4L200.1,135.0L200.6,136.0L200.8,136.8L199.1,138.3L197.9,137.7ZM209.3,78.4L208.3,79.2L207.7,78.4L208.0,77.4L209.0,77.7ZM684.1,208.6L683.2,206.4L684.6,204.2L685.7,205.0L687.1,206.1L685.4,207.7ZM312.7,143.9L312.2,144.2L311.7,143.8L311.6,143.4L311.8,143.2L312.6,143.3ZM483.1,240.2L484.3,240.1L483.9,241.1L483.3,241.1ZM387.8,226.8L388.0,227.6L386.0,228.0L385.4,227.3L386.1,226.2L387.1,226.0ZM893.9,300.9L895.1,302.6L893.7,303.0L892.5,301.7ZM587.8,183.5L588.1,183.8L588.1,184.2L587.6,184.5L587.5,183.9ZM717.6,234.2L717.7,233.4L719.1,232.8L719.7,233.1L719.2,234.2ZM298.0,182.9L296.2,183.2L295.4,181.8L297.9,182.0ZM402.0,228.2L401.4,229.6L399.5,230.3L398.8,229.1L400.2,227.6ZM219.7,95.7L220.8,96.2L221.1,97.5L219.7,97.6ZM605.4,227.3L606.3,227.4L606.9,227.9L606.9,228.9L606.3,229.5L605.4,228.5ZM420.4,280.6L416.6,280.0L415.5,276.5L418.9,276.2ZM808.6,210.5L810.1,209.4L811.0,210.3L809.8,210.9ZM842.3,216.5L842.0,215.7L844.0,215.0L844.3,215.7L843.0,216.7ZM776.2,279.2L776.9,279.6L776.3,280.4L775.9,279.7ZM631.9,298.8L632.3,299.0L632.8,300.3L632.1,300.4L631.6,299.6ZM239.0,93.8L238.2,91.7L239.6,91.6L240.6,92.9L240.3,94.3ZM886.8,292.3L886.8,291.1L887.8,290.9L889.0,292.0L888.1,292.5ZM800.2,328.5L800.2,328.1L800.5,327.9L800.8,328.1L800.6,328.5ZM859.6,218.9L859.4,219.3L858.8,219.3L858.8,218.6L859.2,218.4ZM644.1,206.9L643.7,206.4L645.4,205.6L645.4,206.3ZM185.8,83.6L185.9,82.9L186.5,83.1L186.9,83.7L187.1,84.5L186.5,84.3ZM760.8,317.0L761.0,318.5L759.8,319.1L758.0,319.0L758.7,318.0ZM741.3,246.6L743.3,248.1L744.5,250.1L743.4,250.5L741.7,248.6ZM353.2,216.7L352.2,216.0L352.3,214.7L353.3,215.3ZM298.4,100.7L296.5,101.6L296.4,100.1L299.2,98.8ZM822.2,252.8L822.1,251.0L823.8,251.0L823.5,252.8ZM668.0,207.2L668.9,207.3L668.0,208.1L667.1,208.2ZM282.6,103.4L281.6,103.2L281.5,102.5L282.3,101.6L282.9,101.9L283.1,102.6ZM384.0,259.5L383.2,259.9L381.7,259.1L382.3,258.0L383.1,257.8ZM302.4,190.4L301.9,189.6L302.6,188.9L303.3,189.6L303.6,190.5L302.7,190.7ZM609.7,206.4L610.3,206.2L610.5,206.5L610.2,207.1L609.6,206.9ZM285.2,150.9L283.8,151.1L284.1,149.3L285.1,147.5L285.5,148.5ZM293.2,183.0L293.3,184.5L291.8,183.9L291.6,183.0L291.8,182.1ZM468.8,233.2L469.4,233.4L469.1,234.0L468.7,234.0ZM205.5,143.8L204.5,144.5L203.4,144.2L204.2,143.3ZM567.5,162.8L566.8,163.7L566.1,162.5L566.9,161.9ZM459.2,234.5L458.4,234.4L458.0,233.3L459.0,233.2ZM909.7,271.8L909.9,269.9L911.2,271.1L911.5,272.6L910.5,273.6ZM241.9,90.4L242.4,90.5L243.3,91.0L242.9,91.5L241.9,91.5L241.5,90.9ZM320.1,143.7L319.3,143.8L318.9,142.7L319.4,141.8L320.6,141.9L320.7,143.0ZM629.7,205.3L630.6,206.0L630.4,206.3L629.4,206.0ZM804.4,218.6L805.5,219.1L805.6,220.0L803.9,220.1L803.5,219.3ZM376.9,215.0L377.8,215.0L377.9,215.8L377.4,215.8ZM636.0,146.7L637.1,146.3L638.3,146.6L638.6,147.6L636.5,147.6ZM206.8,120.9L208.4,122.8L207.2,123.2L206.4,121.8ZM794.6,232.5L793.1,230.7L794.1,230.3L795.9,230.5L797.0,231.7L795.8,232.4ZM824.6,206.1L824.1,206.4L823.1,206.0L822.6,205.1L822.6,204.1L824.1,205.0ZM596.4,128.0L597.3,127.5L597.2,129.4L595.9,129.8ZM355.1,179.4L353.9,178.8L353.9,177.5L355.3,177.0ZM168.3,150.7L167.3,150.8L166.7,150.2L167.6,150.1ZM737.6,231.4L738.7,230.5L739.7,231.0L738.6,232.1ZM223.3,115.6L225.8,114.2L225.8,116.2L224.1,117.5ZM279.1,88.4L279.6,87.4L282.7,87.8L281.8,88.9L280.6,89.2L279.1,89.2ZM622.6,281.5L621.7,282.2L620.9,281.3L621.7,280.5ZM835.2,226.9L833.6,228.1L832.2,227.1L833.1,225.6ZM783.6,234.5L782.9,233.6L783.6,232.7L784.2,234.0ZM746.0,326.3L745.4,326.4L745.6,325.8L746.1,325.8ZM871.6,274.5L871.7,276.0L870.8,276.5L870.9,275.5ZM417.7,156.8L417.0,157.2L416.6,156.8L417.2,156.3ZM886.8,283.4L886.6,284.5L885.8,283.9L886.1,283.3ZM389.4,236.6L389.8,236.3L390.5,236.9L389.8,237.2ZM295.7,184.5L295.4,184.7L295.1,184.5L295.1,184.0L295.7,183.2L296.1,183.7ZM402.9,258.3L402.4,257.8L402.1,257.3L402.3,256.7L402.8,257.1L403.2,257.7ZM796.6,293.8L797.6,293.9L798.1,295.2L797.3,295.4ZM284.5,201.9L283.9,202.7L283.4,202.8L283.4,201.7L284.4,200.8ZM763.2,330.3L763.6,330.7L762.5,330.9L762.2,330.4ZM637.3,185.6L637.5,187.8L635.5,186.5L635.8,185.1ZM354.3,181.7L353.7,182.0L352.9,181.3L353.3,180.8ZM482.1,292.4L482.0,291.4L482.9,290.9L483.6,291.5L483.9,292.4L482.7,292.7ZM154.6,153.2L155.2,154.3L153.9,154.3L153.5,153.3ZM607.1,188.0L606.3,188.1L606.3,187.6L606.6,187.4ZM692.0,264.7L691.5,265.0L691.3,264.1L691.8,264.2ZM348.5,188.6L348.8,188.9L348.4,189.4L348.1,189.1ZM848.7,288.3L849.2,287.3L850.2,286.5L850.4,287.7L849.7,288.5ZM372.4,185.8L373.4,186.1L372.9,186.7L372.3,186.6ZM211.7,173.6L212.0,173.1L212.3,173.3L212.6,173.6L212.3,174.0L211.8,174.1ZM127.2,144.4L127.4,144.0L127.6,143.5L128.1,144.0L128.0,144.4ZM557.6,266.5L556.9,267.2L553.9,265.0L556.0,264.7ZM283.0,98.4L282.8,98.4L282.5,97.5L283.0,97.0L283.3,97.3L283.3,98.1ZM375.2,176.6L375.6,176.7L375.6,177.2L375.5,177.5L375.1,177.5L374.8,177.1ZM162.5,176.8L165.0,178.5L164.5,180.7L161.7,180.5L160.0,177.9L159.8,176.0ZM802.7,227.2L804.7,227.4L804.9,229.0L802.9,228.2ZM311.4,132.5L310.0,131.8L309.7,130.8L311.2,131.1ZM604.3,187.6L605.1,187.2L605.1,187.9L604.5,188.5ZM357.2,242.1L357.9,244.8L356.5,244.7L355.8,241.5ZM879.7,262.7L876.5,263.4L876.6,260.9L879.0,260.0ZM401.0,164.8L400.3,164.8L400.4,164.1L401.2,164.1ZM256.2,103.4L255.9,106.2L254.1,104.9L254.2,102.6ZM379.9,202.0L380.8,200.2L382.4,201.0L382.0,203.5L381.4,204.4L379.5,204.0ZM483.9,240.0L482.7,240.7L482.0,239.9L483.6,239.0ZM854.6,249.8L850.9,248.5L852.0,246.1L855.6,247.2ZM846.1,280.8L847.8,281.1L847.1,282.2L845.5,281.9ZM344.4,176.2L345.2,176.3L345.7,177.1L345.2,177.5L344.1,177.3ZM825.5,289.1L825.8,289.5L826.1,290.2L825.6,290.5L824.9,289.8L824.9,289.3ZM280.6,182.3L280.7,182.0L281.5,181.7L281.4,182.2L281.0,182.5ZM198.0,79.2L198.4,79.7L198.2,80.4L197.6,80.9L197.2,80.5L197.7,79.6ZM651.6,175.0L651.3,175.4L650.5,174.9L650.9,174.6L651.3,174.6ZM339.1,130.5L339.7,130.1L340.0,130.8L339.3,131.0ZM167.0,144.9L166.1,144.6L165.8,143.9L167.5,142.7L168.3,142.2L168.5,143.9ZM580.6,249.1L582.0,249.2L582.3,249.7L582.1,250.1L580.9,250.0L580.5,249.5ZM878.9,297.4L879.8,298.4L879.2,299.4L878.1,299.1L877.5,298.4L878.1,297.7ZM481.2,290.6L482.6,290.8L482.1,291.4L481.4,291.3ZM213.5,77.7L213.9,78.0L213.6,78.7L213.0,78.2ZM612.6,185.6L614.2,183.9L616.3,186.7L614.1,189.0ZM196.6,130.4L196.4,130.9L195.6,131.2L194.8,131.3L195.1,130.7L195.5,130.3ZM603.8,309.0L602.7,309.7L601.9,306.7L603.6,306.3ZM638.4,174.7L638.7,174.3L639.3,174.2L639.2,174.7L638.9,175.1ZM549.0,287.6L550.1,285.9L550.8,285.5L551.7,287.0L551.6,288.6L550.3,288.2ZM398.7,193.2L399.4,193.4L399.3,194.2L398.1,195.0L397.4,194.3L397.5,193.6ZM237.7,123.3L238.7,124.3L238.5,126.0L237.6,126.7L237.0,125.1L236.1,123.5ZM205.5,142.9L204.4,143.5L203.5,142.9L203.7,142.1L204.8,141.9L205.9,142.5ZM412.9,275.9L413.8,276.3L414.3,276.9L413.7,277.7L412.9,277.3L412.6,276.4ZM412.1,228.0L413.4,227.7L413.6,228.5L412.5,229.4ZM716.8,242.7L717.0,241.0L717.8,240.7L718.4,241.8L717.8,242.3ZM218.8,91.4L223.1,89.4L224.4,91.4L220.3,92.5ZM504.6,241.8L504.4,242.5L504.0,242.0L504.1,241.4ZM395.6,200.7L395.7,201.9L394.5,202.1L394.1,201.6L394.7,200.3ZM428.9,228.5L427.6,227.3L427.7,226.4L429.5,226.8L430.7,228.6ZM739.5,215.4L738.1,213.3L739.4,212.3L741.2,214.0ZM808.7,228.9L809.2,229.1L809.3,229.7L808.4,230.2L808.3,229.7ZM489.4,254.6L489.1,255.2L488.8,255.3L488.4,255.2L488.5,254.3L488.8,254.4ZM657.9,289.1L657.8,288.1L659.1,288.5L658.6,289.1ZM574.3,298.3L574.6,297.3L576.0,296.8L576.3,297.7L576.2,298.5ZM872.8,307.2L873.2,308.2L872.3,307.8L872.1,306.9ZM605.9,192.2L606.1,192.9L605.9,193.4L605.1,193.7L603.8,193.1L604.3,192.4ZM507.4,213.5L508.1,213.4L508.3,214.3L507.4,214.0ZM840.1,234.2L842.1,233.4L842.0,234.5L840.3,235.2ZM287.9,183.1L286.6,182.2L287.4,181.1L288.9,181.8ZM139.5,131.5L140.0,131.2L140.3,132.5L139.7,132.5ZM315.3,188.7L315.8,188.2L316.1,188.8L315.7,189.1ZM257.7,131.8L258.2,132.0L258.5,132.7L258.0,132.9L257.5,132.3ZM335.0,187.9L337.2,188.2L338.0,189.3L337.2,190.0L335.6,189.4L335.0,188.7ZM719.4,247.2L720.6,246.3L721.2,246.6L720.7,247.3ZM277.0,84.1L278.7,85.3L277.0,86.0L275.7,84.8ZM900.8,292.9L902.0,290.5L903.9,290.1L903.6,292.7ZM689.5,196.6L689.2,195.6L689.7,195.0L690.2,195.6L690.1,196.9ZM239.7,211.7L240.5,212.0L240.5,212.5L240.0,213.1L239.5,212.8ZM650.3,249.3L650.7,249.5L650.4,250.4L649.6,250.4ZM274.7,185.1L275.0,184.3L276.3,184.1L276.1,185.2ZM184.5,95.6L183.6,97.1L182.1,97.2L181.5,95.8L182.8,92.5L184.4,92.1ZM311.6,187.5L310.1,188.0L309.3,187.2L311.2,185.8L313.6,184.9L313.7,186.6ZM296.2,121.9L294.8,120.7L296.6,119.7L298.3,120.9ZM848.3,253.9L846.8,253.6L848.1,252.5L849.4,252.8ZM336.5,224.9L335.8,225.8L334.5,225.3L334.5,224.6ZM799.4,218.9L799.9,217.5L801.0,217.6L800.8,219.5ZM427.5,170.8L427.7,169.8L428.7,170.1L428.7,171.5L427.8,171.4ZM883.3,277.6L884.4,278.1L884.3,279.3L883.4,279.0L882.2,277.7ZM812.9,268.9L811.8,269.3L811.4,268.7L811.8,268.1L813.2,268.2ZM167.3,143.2L168.1,142.2L168.9,142.8L168.5,143.8ZM815.6,328.7L815.3,328.0L816.4,327.3L816.6,328.1ZM343.2,254.3L344.4,253.6L345.0,254.3L344.5,254.7ZM268.2,184.1L268.1,184.7L267.4,184.9L267.1,184.6L267.5,184.1L268.2,183.8ZM206.2,99.4L206.6,99.1L207.3,100.1L207.4,100.9L206.4,100.2ZM449.0,192.3L449.5,191.3L450.5,192.9L449.3,193.3ZM822.6,257.0L822.8,257.7L822.0,258.3L821.1,257.4L821.6,256.4ZM698.9,206.5L698.8,205.8L699.0,205.2L699.6,205.2L699.5,205.6L699.5,206.4ZM208.3,85.1L209.1,85.0L209.7,86.2L208.5,86.1ZM636.5,204.4L634.0,205.8L632.1,202.8L634.8,202.0ZM335.9,180.0L336.4,178.5L337.2,179.0L336.9,180.7ZM436.3,230.6L436.0,229.5L436.5,229.3L436.8,229.9ZM647.7,299.1L648.0,298.5L649.4,299.4L649.2,300.3L648.0,300.0ZM221.7,152.9L222.0,152.4L222.6,152.4L222.4,153.0ZM320.1,182.9L322.5,182.8L320.7,185.1L318.5,184.8ZM618.2,199.9L618.0,201.1L616.6,201.6L616.4,200.0ZM730.4,219.1L730.6,220.5L729.5,220.0L729.3,218.7ZM790.8,221.1L792.1,221.4L791.9,221.9L791.4,222.7L790.3,222.6L790.3,221.3ZM703.3,214.5L702.5,215.1L702.0,214.7L701.8,213.9L702.9,213.6ZM283.6,187.1L283.6,185.3L284.9,184.5L285.4,187.8ZM432.1,155.5L432.1,154.9L433.0,153.7L433.9,154.5L433.5,155.3ZM652.5,198.2L651.5,200.6L649.8,200.5L648.8,199.5L650.6,197.4L652.8,196.2ZM321.5,204.5L321.3,205.3L320.1,206.0L319.9,205.0L320.4,204.5ZM833.8,219.6L834.5,219.6L834.5,220.0L833.9,220.0L833.4,219.7ZM570.6,256.3L570.6,256.8L570.1,256.7L570.0,256.1ZM823.1,191.4L822.7,191.8L822.5,191.2L822.6,190.9L822.9,190.9ZM270.8,91.6L269.5,90.6L269.6,89.8L270.9,89.5L272.2,91.0L271.4,91.5ZM542.0,293.8L542.4,294.8L541.6,295.5L541.2,295.4L540.9,294.4L541.2,293.8ZM338.6,207.5L337.3,207.4L337.2,206.6L339.0,206.8ZM886.4,267.1L887.1,266.3L887.6,266.9L887.0,268.5ZM822.0,315.2L820.9,316.0L820.3,316.0L819.7,315.2L820.4,314.8L821.5,314.7ZM645.0,265.0L644.9,264.4L645.7,263.9L646.5,264.2L646.4,265.1L645.9,265.2ZM454.2,167.7L457.0,166.2L456.5,169.0L452.9,171.3ZM421.3,282.9L422.1,281.7L423.0,283.4L421.9,284.3ZM814.9,284.0L816.3,284.8L815.5,285.8L814.5,285.3ZM381.4,182.0L382.7,181.3L383.3,182.0L381.9,183.5L380.9,183.2ZM825.4,200.7L824.4,201.7L823.7,199.9L824.5,198.4L826.1,198.8ZM256.9,85.7L257.8,86.9L257.7,87.6L256.6,87.0L255.8,86.3L256.0,85.7ZM840.7,218.8L839.9,218.0L840.2,216.8L840.7,217.0L841.3,217.7L841.1,218.4ZM464.0,220.6L464.0,220.1L464.8,219.7L464.8,220.5ZM658.1,282.9L658.4,281.9L659.4,282.1L659.9,284.2L658.9,284.3ZM663.6,285.3L663.0,285.1L662.5,284.9L662.4,284.0L663.1,283.9L663.8,284.2ZM287.9,89.6L289.0,93.1L287.4,93.8L284.3,90.9L286.2,89.7ZM412.9,251.0L411.7,253.3L409.3,252.1L410.8,250.2ZM391.4,274.0L392.1,274.2L391.9,275.7L391.6,276.2L391.0,275.9L391.0,275.0ZM362.7,225.8L362.9,225.4L363.5,225.4L363.4,225.9L363.1,226.3ZM794.5,223.7L793.9,223.5L793.4,222.9L794.2,222.8ZM393.4,140.9L392.7,141.2L392.7,140.6L393.3,140.3ZM410.8,157.1L410.2,156.7L410.9,156.4L411.5,156.2L412.0,156.4L411.4,157.0ZM364.6,218.2L364.2,219.9L363.4,219.7L363.7,217.8ZM832.6,251.0L831.5,252.5L830.2,251.9L830.4,250.5ZM442.7,271.5L443.2,269.7L443.8,269.7L444.1,270.6L443.7,272.1L443.1,272.4ZM729.1,300.1L730.3,298.8L730.9,298.6L731.6,299.2L731.5,300.4L729.8,301.2ZM590.7,194.7L591.6,195.4L590.3,196.2L589.6,196.8L589.2,195.2L589.9,194.6ZM741.9,231.1L740.4,228.0L747.7,229.7L747.3,232.9ZM648.1,275.1L647.7,275.8L646.5,276.3L646.6,275.4L646.6,274.6L647.6,274.2ZM281.2,117.7L281.9,118.0L281.7,118.6L281.1,118.6ZM169.3,140.0L169.2,141.0L167.9,140.8L168.4,139.8ZM458.9,175.5L457.3,174.1L458.7,173.8L459.9,174.8ZM263.2,209.8L264.0,209.6L264.6,210.0L264.2,210.6L263.7,210.8L263.1,210.3ZM852.5,296.0L853.6,296.7L853.5,298.1L852.3,297.6ZM212.8,176.0L212.8,175.2L213.4,174.9L213.9,175.8ZM845.3,248.1L844.6,246.5L847.1,246.1L848.0,247.9ZM733.0,214.2L733.4,214.6L732.8,215.5L732.1,215.3L732.4,214.5ZM695.3,267.6L695.9,268.1L695.4,268.5L694.8,268.5L694.6,268.0ZM794.9,220.2L794.5,220.5L794.4,219.8L794.9,219.8ZM118.1,138.1L118.9,135.8L124.1,135.7L122.6,137.5ZM845.8,223.5L844.0,224.0L843.1,222.5L845.0,222.5ZM405.2,211.5L405.6,211.6L405.4,212.6L404.5,212.2ZM645.3,156.9L645.7,156.8L646.2,157.7L645.5,157.8ZM434.6,277.9L434.8,277.2L435.4,277.7L435.1,278.5L434.7,278.3ZM177.9,103.6L178.2,104.0L178.1,104.4L177.8,104.4L177.4,104.2L177.6,103.8ZM182.7,142.5L182.1,142.5L181.9,142.0L182.5,141.9ZM835.7,256.6L835.3,256.3L835.9,255.8L836.8,255.4L836.7,256.0L836.2,256.6ZM656.3,240.5L655.5,241.1L655.2,240.4L655.1,239.6L656.1,239.5L656.7,239.7ZM861.4,290.1L861.9,289.8L862.0,290.5L861.5,290.9ZM234.2,125.8L238.8,127.3L235.8,129.7L230.7,131.2L230.8,129.4L231.2,126.6ZM327.6,243.4L328.5,243.4L329.0,244.6L328.2,244.7ZM197.4,76.7L197.7,77.4L197.4,77.8L196.8,77.0L196.9,76.7ZM475.1,182.2L475.1,182.8L474.5,182.6L474.4,182.0ZM647.5,249.8L648.0,250.4L647.5,251.1L646.6,251.3L646.0,250.9L646.0,250.0ZM723.5,290.0L723.9,290.4L723.6,290.6L723.0,290.7L723.1,290.1ZM153.8,177.2L152.6,176.6L152.7,175.1L153.8,175.1L155.9,176.9L155.4,177.5ZM477.2,221.3L477.6,220.6L478.5,220.7L478.3,221.1ZM617.3,192.4L616.6,191.5L615.5,189.8L616.3,189.3L617.5,189.9L617.9,190.7ZM688.7,244.2L688.3,243.7L689.1,243.2L689.7,243.1L690.1,243.8L689.3,244.2ZM741.7,328.2L740.8,327.6L740.5,327.3L740.3,326.5L741.3,327.0L741.8,327.8ZM636.6,186.3L637.9,185.2L639.5,187.3L638.1,187.8ZM847.8,268.5L847.7,267.6L848.4,267.2L849.2,268.0L848.9,268.7ZM307.9,119.0L309.4,119.1L308.9,120.2L307.4,119.9ZM603.2,198.5L602.5,198.0L602.4,197.5L602.7,197.6L603.7,197.8L604.1,198.6ZM273.2,86.5L272.6,87.4L271.5,87.3L271.3,84.5L272.3,84.3ZM414.7,244.5L414.8,244.9L414.1,245.1L413.3,244.7L414.2,243.8ZM505.5,251.0L505.9,252.6L505.5,253.8L504.5,254.0L504.2,252.3ZM601.0,225.5L601.5,225.0L601.9,225.6L601.2,225.8ZM300.3,111.7L300.2,112.3L299.8,112.1L299.6,111.8L299.8,111.6ZM337.9,143.7L337.8,144.4L337.3,144.3L337.2,143.7ZM232.4,134.2L236.3,132.8L237.2,134.3L234.1,136.1ZM820.4,266.2L820.7,266.8L820.4,267.1L820.0,267.1L819.8,266.8L820.0,266.4ZM805.0,226.4L805.2,227.1L804.5,227.5L804.1,226.8ZM242.7,137.4L241.8,136.4L242.5,135.9L243.2,136.9ZM295.6,115.6L294.9,115.3L294.5,114.7L294.9,114.5L295.7,114.8ZM196.5,88.1L197.5,88.5L196.9,89.3L196.2,89.3L196.0,88.6ZM699.9,234.6L699.4,233.8L699.9,233.2L700.5,234.0ZM318.5,192.1L318.7,192.7L318.1,192.7L317.6,192.0L317.9,191.5L318.2,191.6ZM175.1,188.5L175.7,187.2L176.4,187.2L176.6,188.3ZM164.7,182.3L165.4,181.4L165.8,181.9L165.8,182.4L165.3,182.7ZM657.9,191.4L658.9,190.7L659.4,191.6L658.9,192.6L657.8,192.5ZM907.7,297.7L908.4,297.4L908.3,298.8L907.7,299.0ZM859.1,234.8L859.6,236.7L858.8,237.5L858.0,236.2ZM233.0,214.2L235.0,214.0L236.5,216.7L235.1,217.2ZM819.7,248.9L819.8,248.4L820.5,248.9L820.1,249.3ZM614.1,194.5L614.4,195.3L613.1,195.8L613.1,194.6ZM693.9,305.3L692.6,306.3L692.2,305.2L693.2,304.8ZM322.1,114.7L320.3,115.5L319.2,115.0L319.8,113.7L322.4,113.6ZM676.4,282.8L676.3,283.4L675.9,283.5L675.5,283.3L675.7,282.8ZM244.0,151.6L243.3,151.9L242.1,151.4L242.9,150.4L244.1,150.6ZM646.7,285.1L648.6,286.6L646.3,287.3L645.3,286.0ZM224.8,146.3L225.2,147.3L224.7,147.6L224.1,146.9L224.2,146.5ZM474.8,229.8L473.7,227.8L473.9,225.7L475.1,225.0L476.3,228.7ZM195.7,153.5L195.4,154.3L194.3,154.4L193.9,153.6L195.0,153.2ZM447.1,226.4L446.0,225.8L445.8,225.2L446.1,223.9L446.7,224.2L447.3,225.5ZM350.4,241.0L351.9,240.8L352.2,241.9L350.8,242.2ZM629.5,284.4L630.1,283.0L630.8,284.2L630.6,285.4L629.7,285.4ZM622.8,244.0L623.1,244.5L622.4,245.3L621.8,244.8L622.1,244.1ZM708.6,197.3L706.9,195.3L709.6,194.7L710.7,196.6ZM260.7,137.3L260.0,137.1L260.3,136.6L261.0,136.9ZM414.3,167.9L414.5,168.0L414.7,168.3L414.2,168.8L413.7,168.5L413.8,168.1ZM174.1,156.6L175.1,156.5L175.2,157.6L173.9,157.5ZM726.3,232.4L726.5,232.6L726.2,233.2L725.9,233.0L725.5,232.5L725.9,232.2ZM162.6,167.9L161.5,167.1L162.5,166.4L163.6,166.5L163.4,167.5ZM132.6,167.2L131.3,165.9L131.9,164.9L133.0,165.9ZM271.1,110.1L272.5,109.7L273.1,110.8L272.4,111.9ZM387.8,228.5L387.4,227.7L387.8,227.1L388.3,228.3ZM324.1,169.9L323.3,170.6L322.7,169.2L323.8,169.1ZM397.3,185.8L397.2,187.0L396.3,187.0L395.7,185.9L396.0,185.1ZM830.4,260.2L831.3,260.4L831.5,260.9L830.5,260.9ZM180.9,113.4L181.6,112.4L183.3,114.3L182.0,115.3ZM141.2,147.8L141.1,147.1L142.1,147.4L142.2,148.1ZM856.1,283.9L856.8,283.9L856.6,284.6L856.0,284.7L855.8,284.2ZM499.1,254.2L498.4,253.7L498.2,252.7L498.4,252.2L499.2,253.0L499.3,253.7ZM587.3,197.6L587.3,196.1L590.0,196.7L589.2,198.1ZM847.5,191.5L846.5,191.4L845.9,189.7L847.0,189.7L847.9,190.3ZM421.0,153.3L421.8,151.3L422.7,152.0L422.9,153.4L422.3,154.3L421.7,154.2ZM390.4,288.4L391.1,288.8L391.1,289.2L390.9,289.8L390.5,289.3L390.0,288.7ZM647.5,242.3L646.0,240.4L647.3,238.5L650.8,240.6L652.2,243.4L650.6,245.7ZM414.1,224.5L414.1,222.6L415.2,221.2L417.6,221.3L418.0,223.1L416.5,224.3ZM364.3,172.8L365.0,173.8L364.3,174.5L363.2,174.2L362.7,173.8L362.7,172.7ZM143.5,138.7L146.3,139.6L144.4,141.9L139.6,140.6ZM601.1,278.9L599.7,279.1L599.3,278.1L601.1,278.1ZM560.9,280.6L560.9,281.9L559.9,282.1L559.9,280.7ZM144.9,135.7L145.7,134.9L146.3,136.0L145.3,137.1ZM255.4,179.4L254.8,179.1L255.4,178.4L256.2,178.7ZM258.9,126.3L259.6,125.9L259.9,126.9L258.9,127.1ZM278.1,81.3L279.1,81.1L279.6,82.6L278.6,83.4ZM423.6,234.6L422.8,233.6L423.2,233.2L424.0,234.3ZM686.4,211.0L686.9,211.7L686.6,212.5L686.1,212.8L685.9,211.8ZM832.9,317.8L833.2,317.3L833.6,317.5L833.3,317.9ZM232.9,133.4L231.1,132.8L230.4,132.2L231.4,131.6L232.6,132.1ZM589.2,201.0L590.0,201.5L589.5,202.0L589.1,201.6ZM133.2,183.4L133.3,184.0L132.5,184.0L132.8,183.3ZM350.9,184.4L352.6,182.2L355.3,183.0L353.8,186.4ZM379.0,262.4L378.3,261.7L378.2,261.1L379.3,261.6L379.7,262.2ZM783.3,185.0L782.1,184.1L783.1,183.7L784.6,183.3L784.7,183.8L784.9,184.5ZM302.5,138.3L302.6,138.6L302.6,139.2L302.1,139.2L302.0,138.9L302.0,138.4ZM387.4,171.0L386.0,170.6L386.6,169.8L387.5,169.5ZM776.5,214.8L778.4,213.9L780.4,214.0L779.8,215.6L779.3,216.6L776.9,216.1ZM168.8,79.0L168.5,79.5L168.0,79.5L168.0,78.9ZM369.4,171.6L373.1,172.2L374.3,174.6L371.7,174.7L369.5,174.2ZM591.8,198.8L592.1,198.6L592.8,199.0L592.7,199.7L592.1,199.7L591.4,199.1ZM354.0,199.8L353.4,201.1L352.5,201.6L351.5,201.0L352.6,198.9L353.2,198.7ZM473.9,212.1L473.5,213.6L472.6,213.8L472.4,212.4ZM707.5,205.4L707.3,205.2L707.4,204.8L707.8,204.8L708.1,205.0L707.9,205.3ZM265.2,140.3L265.9,140.0L266.5,140.7L266.3,141.2ZM842.4,261.1L842.0,262.4L841.1,262.1L841.0,261.1ZM726.5,234.5L726.7,233.9L727.3,234.6L726.8,235.4ZM741.7,247.7L739.9,246.5L741.0,244.6L743.4,245.2ZM298.5,91.8L297.7,90.8L299.4,89.7L299.5,90.9ZM361.0,164.5L361.1,163.5L361.6,163.8L361.5,164.8ZM833.3,294.4L833.8,295.7L833.3,296.1L832.3,295.4L831.4,294.5L831.8,293.7ZM828.3,243.6L827.9,242.8L829.1,241.5L830.5,242.0ZM294.3,109.9L295.1,109.6L296.6,110.4L296.0,111.6L294.9,111.1ZM841.9,215.3L842.8,214.7L843.3,215.5L842.6,216.1ZM856.5,257.0L858.7,258.7L857.2,259.6L855.0,257.9ZM866.2,257.1L865.0,256.0L864.5,254.4L865.6,254.3L866.9,255.8L866.8,256.6ZM816.7,215.2L816.2,213.8L817.1,213.0L818.3,214.6ZM786.2,220.5L785.6,221.0L785.5,220.2L786.3,219.5ZM439.3,178.7L440.2,180.0L439.6,181.1L438.8,180.0ZM183.6,85.3L186.6,85.4L187.9,87.1L187.5,87.7L185.6,88.5L184.4,87.5ZM865.3,317.8L864.9,318.9L864.1,318.5L863.9,317.6ZM340.7,221.2L340.3,220.5L340.8,219.6L341.2,220.3ZM762.0,320.1L762.6,321.7L761.2,323.9L759.6,324.0L759.8,320.6ZM742.6,214.3L744.7,214.6L745.7,215.8L745.2,217.1L743.7,217.3L742.4,216.2ZM359.0,176.9L359.3,177.4L359.0,178.0L358.3,178.0L358.3,177.5L358.7,177.0ZM406.3,278.3L406.9,275.1L409.5,274.1L409.1,277.0ZM634.9,291.9L634.1,292.0L634.2,291.5L635.7,290.9ZM271.7,108.3L268.9,107.2L269.7,106.0L272.3,107.4ZM854.1,249.7L853.1,249.3L853.4,248.8L854.2,249.2ZM704.3,334.8L703.8,335.9L703.1,334.9L703.1,333.6L703.8,333.8ZM707.8,230.7L708.0,231.4L707.4,232.5L706.8,232.4L706.9,231.3ZM727.6,210.7L728.2,209.6L729.5,210.6L728.3,211.4ZM630.9,234.2L632.1,235.0L630.6,235.7L629.8,234.9ZM741.9,323.9L742.6,323.7L743.0,324.1L742.7,324.5L742.4,324.6L741.9,324.2ZM693.0,230.7L692.3,230.6L692.6,230.0L693.4,229.8ZM743.5,230.3L746.3,230.4L746.0,232.2L744.4,233.1ZM607.8,271.7L606.2,271.9L606.5,270.7L607.8,270.7ZM350.1,158.0L350.3,157.7L350.8,157.8L351.1,158.2L350.8,158.4L350.1,158.6ZM355.0,207.5L355.6,207.7L355.3,208.5L354.8,209.0L353.7,208.3L354.3,207.6ZM195.3,179.3L196.5,179.9L196.3,181.1L194.9,180.5ZM265.3,170.2L264.8,170.0L265.2,169.7L265.5,169.8ZM221.3,129.4L221.1,127.0L222.3,126.7L222.4,130.1ZM500.1,231.5L498.7,232.4L498.2,231.9L498.6,231.1L499.8,230.4L500.3,230.6ZM400.4,204.0L401.3,205.1L400.3,205.4L399.5,204.2ZM754.1,264.5L753.4,266.6L752.3,266.9L753.1,264.7ZM416.7,278.6L417.5,278.6L418.5,279.0L418.3,279.4L418.0,279.5L416.7,279.0ZM318.1,179.5L318.4,180.0L318.2,180.5L317.6,180.9L317.5,180.6L317.6,180.1ZM736.8,228.9L736.2,228.2L735.9,227.6L736.2,226.3L736.7,225.6L737.3,227.3ZM360.7,240.3L361.1,241.1L361.0,242.1L360.5,242.3L359.7,240.8L359.9,239.5ZM762.0,307.5L762.3,307.0L762.7,307.2L762.9,307.8L762.1,308.2ZM822.9,225.3L822.2,226.1L821.6,225.2L822.3,224.7ZM659.2,278.8L660.7,280.3L658.8,281.3L657.1,280.6L656.3,279.0L657.4,278.4ZM856.9,247.2L856.0,246.8L856.2,246.0L857.3,246.3ZM300.5,132.9L299.9,133.7L299.1,132.5L299.4,131.0L300.2,130.4L300.5,131.4ZM737.6,214.5L736.9,213.8L737.1,212.9L737.9,213.6ZM306.3,153.1L305.7,153.4L305.7,152.6L306.4,152.5ZM801.2,246.8L800.6,247.4L800.1,247.5L799.9,247.0L800.0,246.5L800.6,246.6ZM620.0,203.6L620.8,202.0L621.5,202.4L620.8,203.5ZM533.0,265.0L532.5,265.0L532.7,264.5L533.2,263.7L533.6,264.4ZM703.0,222.1L702.9,221.4L704.4,220.6L704.7,221.6L703.5,222.6ZM667.8,268.4L668.5,268.2L669.3,268.9L669.3,269.4L667.9,269.3L667.3,269.1ZM698.4,323.0L697.5,323.3L697.1,323.0L697.6,322.5ZM267.9,119.1L268.3,119.5L268.4,120.0L268.0,120.2L267.7,119.7ZM189.6,98.7L190.6,98.2L190.9,98.9L189.9,99.8L189.0,99.4ZM416.6,273.5L417.1,273.3L418.1,273.8L417.9,274.5ZM380.0,240.5L379.1,240.5L379.4,239.9L380.3,240.1ZM660.2,224.2L660.6,223.5L660.9,223.5L661.0,224.3L660.6,225.2L660.1,225.3ZM836.0,195.7L836.5,195.7L836.8,196.2L836.1,196.7L835.9,196.3ZM289.3,155.7L288.9,156.0L288.4,155.9L288.0,155.1L288.9,154.9L289.4,155.1ZM741.6,227.7L740.8,227.6L740.5,226.7L741.1,226.2L741.9,226.5L742.3,227.3ZM797.9,216.7L797.3,217.6L796.5,217.4L796.1,216.5L796.7,215.9ZM339.1,261.0L338.6,260.8L338.5,260.4L338.8,260.2L339.4,260.4L339.3,260.8ZM646.2,286.0L646.5,285.5L646.9,285.8L646.7,286.2ZM117.9,169.0L117.4,170.4L116.0,170.3L116.4,168.8ZM292.9,133.8L293.3,135.6L292.6,136.5L291.8,136.2L291.9,135.1ZM264.7,185.0L264.2,184.4L264.0,183.5L264.9,184.2L265.2,185.1ZM197.7,144.4L198.3,143.5L198.8,143.9L199.2,144.3L198.9,145.2L198.2,145.1ZM427.0,264.2L426.8,264.8L426.2,264.8L425.9,264.6L425.8,264.1L426.4,263.9ZM369.4,268.8L369.4,270.0L368.8,270.1L367.9,269.4L368.3,268.9L368.8,268.5ZM257.1,141.0L257.2,141.6L256.4,142.5L255.8,142.0L256.1,141.2ZM525.8,282.5L526.4,281.4L527.2,283.3L526.4,284.1ZM900.7,271.1L899.0,270.6L899.3,269.7L900.6,270.0ZM264.1,189.5L266.2,189.0L266.1,189.7L264.7,190.3ZM277.6,106.6L276.8,106.4L276.1,105.4L277.7,105.6L278.9,106.1ZM357.7,165.1L355.9,164.1L354.3,162.6L355.8,161.4L358.4,162.2L359.0,163.7ZM286.2,179.9L286.5,180.7L285.3,181.2L284.0,180.1L284.3,179.5L284.9,178.7ZM352.9,205.9L353.5,205.0L354.2,205.6L353.2,206.9ZM158.2,139.0L157.8,138.7L157.7,138.5L158.5,138.3L159.2,138.4L158.9,138.9ZM329.8,235.7L327.8,235.3L327.1,234.3L329.2,234.4ZM268.9,153.1L269.1,152.6L269.4,152.3L270.0,152.8L269.6,153.1L269.2,153.4ZM164.0,79.6L164.1,78.6L166.0,79.0L165.6,80.2ZM417.7,236.8L418.1,237.5L417.2,237.9L417.2,237.1ZM828.7,264.6L829.2,264.3L829.5,264.8L828.9,265.1ZM787.0,219.3L786.7,218.8L787.1,218.7L788.0,219.4L787.9,219.9L787.7,220.3ZM264.1,99.5L263.7,100.5L260.4,100.1L261.3,98.4ZM185.4,164.0L185.7,164.5L185.1,164.7L184.9,164.2ZM795.6,206.6L795.5,207.2L794.6,207.2L794.8,206.7ZM779.1,232.1L779.8,231.6L780.2,232.1L779.4,232.8ZM422.0,249.8L421.0,249.4L421.6,248.3L422.6,249.0ZM253.7,137.5L253.2,137.3L253.1,136.5L253.6,136.4L254.4,136.9ZM842.6,258.0L843.3,259.4L841.5,259.7L841.0,257.7ZM574.5,232.2L573.9,232.8L573.1,232.6L573.8,231.9ZM478.5,278.4L479.2,280.1L479.5,281.0L478.4,281.0L477.8,280.4L477.5,278.7ZM774.9,330.7L776.3,331.5L776.2,332.3L774.4,332.8L773.7,331.5ZM842.8,193.4L842.1,190.9L844.9,191.2L845.2,194.0ZM387.9,227.6L386.8,226.8L387.8,225.6L389.1,226.7ZM765.9,239.9L766.1,239.3L766.9,239.5L766.7,240.2ZM293.5,163.2L293.0,163.3L292.7,163.3L292.7,162.9L293.0,162.7L293.3,162.7ZM875.4,283.8L875.8,282.2L877.9,282.2L878.0,283.5L877.6,285.1L876.7,285.3ZM827.7,222.1L829.1,221.8L829.4,223.0L828.1,223.2ZM808.4,223.4L808.1,224.0L807.7,224.0L807.5,223.5L807.8,223.1L808.2,222.8ZM188.5,85.3L188.4,86.5L187.5,87.4L186.8,87.0L187.4,85.7ZM187.6,93.4L187.4,92.8L187.6,92.2L188.0,92.5L188.3,92.8L187.9,93.5ZM714.5,315.3L713.9,315.2L714.1,314.5L714.9,314.7L714.8,315.2ZM867.8,273.8L869.3,273.7L868.5,276.6L867.1,275.8ZM808.7,238.3L809.1,240.2L807.3,239.9L807.4,238.3ZM626.5,196.0L626.5,196.8L625.9,196.9L625.8,196.6L626.1,196.1ZM262.2,203.6L260.8,204.6L260.3,203.8L261.4,203.0ZM822.8,266.4L823.4,267.7L820.4,266.3L821.5,265.5ZM851.6,277.0L851.6,278.6L849.6,279.4L847.6,279.0L849.8,277.0ZM726.7,211.0L726.0,212.2L725.4,211.9L725.1,211.0L726.0,210.4ZM357.3,166.0L356.9,165.3L357.7,164.3L358.5,164.2L359.0,165.4L358.5,166.0ZM271.6,94.3L272.8,93.4L273.4,94.5L272.5,95.5ZM868.0,256.0L867.4,257.9L865.5,255.5L866.4,254.1ZM558.9,292.0L559.5,292.4L559.2,293.2L558.7,292.9ZM796.8,316.8L796.7,316.1L797.3,315.8L797.4,316.5ZM424.4,278.6L424.1,277.9L424.8,277.8L424.9,278.3ZM460.1,172.5L461.1,171.9L461.5,172.4L461.1,173.9L460.5,174.0L459.8,173.8ZM282.8,195.5L284.2,194.9L283.8,196.6L282.6,196.4ZM433.9,234.6L434.7,235.4L434.9,236.1L434.2,235.9L433.7,235.5L433.3,234.6ZM278.2,92.0L277.1,92.2L276.7,91.8L277.1,91.0L277.8,90.5L278.6,91.3ZM361.5,203.6L360.7,203.4L360.5,203.2L361.2,202.6L361.7,203.0ZM257.8,77.4L258.7,78.0L258.2,79.1L257.5,79.3L257.3,77.9ZM297.4,172.9L297.6,169.0L300.1,168.9L301.4,171.2L299.0,173.8ZM860.4,256.7L859.7,256.0L860.8,255.9L861.4,256.5ZM711.5,214.8L713.4,215.5L713.4,216.9L711.7,216.6L711.1,215.9ZM405.7,137.2L405.4,137.1L404.8,137.0L404.5,136.0L405.1,135.8L405.6,136.0ZM426.9,302.0L425.7,302.3L425.3,301.9L424.8,300.7L425.9,300.6L426.8,300.9ZM797.1,240.2L797.7,242.3L796.1,242.9L795.7,240.8ZM630.0,179.4L629.0,181.2L626.1,181.3L624.9,179.5L626.8,178.6ZM251.2,137.4L252.4,137.5L253.0,140.0L251.6,139.6ZM345.2,169.6L345.0,166.0L347.7,166.8L348.2,169.7ZM350.8,233.5L351.5,233.0L351.8,233.7L350.7,234.3ZM866.9,271.3L866.1,272.3L864.5,271.3L864.9,270.1ZM861.4,268.3L862.8,267.7L863.1,269.0L860.8,271.5L860.4,270.4ZM301.8,90.9L301.5,92.2L300.4,92.3L300.6,91.3ZM390.4,221.2L390.6,221.5L390.4,221.9L389.7,221.7L389.8,221.0ZM762.5,208.2L762.2,207.0L762.6,206.1L763.4,206.7L763.5,207.8ZM874.9,263.3L875.6,262.7L876.3,262.9L875.7,263.5ZM301.6,128.1L302.4,129.2L301.8,129.7L300.8,128.5ZM138.1,148.5L138.9,150.3L135.2,154.9L133.4,153.3L134.8,149.9ZM437.0,161.0L436.4,160.6L436.3,160.0L437.5,160.1L437.8,160.5ZM555.2,285.9L551.5,283.9L551.4,282.4L553.4,282.2L555.3,284.2ZM839.8,183.7L840.2,183.2L840.6,183.4L840.7,184.0L840.4,184.1ZM679.2,215.9L678.9,215.4L679.6,215.3L679.8,215.9ZM121.5,176.6L122.3,176.3L122.7,177.4L121.6,177.8ZM875.0,230.0L874.3,231.2L873.8,230.6L874.3,229.6ZM827.7,260.5L828.0,260.0L828.6,260.3L828.3,260.9L828.0,260.9ZM709.5,241.1L708.7,240.5L709.0,239.9L709.6,239.0L710.9,239.6L711.0,240.7ZM690.3,218.5L689.9,219.1L689.2,219.1L688.5,218.8L688.7,218.3L689.4,218.3ZM834.9,286.0L834.1,288.9L832.1,288.2L831.8,285.7L832.7,283.3L834.3,284.4ZM271.6,92.9L271.4,92.4L272.2,92.2L272.5,92.8ZM377.4,208.8L378.3,209.1L379.1,210.6L378.3,211.0L377.5,210.5ZM365.5,196.8L365.9,195.2L367.9,195.9L367.6,197.5L366.3,197.8ZM596.8,319.0L597.2,317.4L597.7,317.1L599.1,317.4L599.8,318.5L598.4,320.0ZM736.4,246.1L736.0,246.1L736.3,245.0L736.6,244.6L737.3,244.4L737.2,245.0ZM439.8,158.5L442.5,158.8L443.3,160.3L440.6,160.4ZM765.3,233.2L764.9,233.7L764.4,233.5L764.7,233.2ZM728.9,334.0L728.6,333.6L728.7,333.2L729.1,332.8L729.5,333.0L729.4,333.6ZM812.1,280.1L812.6,280.2L812.5,280.9L812.1,281.1L811.8,280.5ZM354.2,183.2L354.8,185.1L353.5,185.8L352.4,184.1ZM427.6,218.4L427.0,217.4L428.3,216.6L429.1,217.8ZM438.0,240.5L436.7,241.6L436.0,241.4L436.1,239.6L437.5,238.9ZM861.8,253.2L861.8,252.6L862.9,252.0L863.1,252.4L863.1,252.9ZM637.6,266.8L638.0,266.8L638.0,267.3L637.8,268.1L637.1,268.0L637.2,267.6ZM126.7,140.4L125.9,141.0L125.0,140.1L125.3,139.4L126.7,138.5L127.3,139.1ZM835.9,265.3L834.6,265.0L835.0,263.2L836.5,263.6ZM269.3,142.1L268.9,142.7L267.8,142.9L268.1,142.1L268.8,141.7ZM560.8,281.4L562.4,281.9L562.2,282.8L560.6,283.3L559.6,282.0ZM426.1,273.0L424.5,271.7L425.1,270.5L426.5,271.9L426.5,272.7ZM373.0,266.0L371.9,266.8L370.3,265.5L370.9,261.2L372.9,261.5ZM693.1,257.0L693.3,254.8L695.5,255.3L696.8,258.1ZM424.4,170.0L426.5,170.0L425.7,171.6L423.3,171.8ZM883.3,280.3L885.0,280.9L883.9,281.7L881.6,281.6ZM740.3,307.3L740.4,306.7L741.1,306.7L741.6,307.1L740.8,307.9ZM311.1,178.6L308.3,178.5L309.5,176.6L312.3,176.9ZM147.4,137.9L148.3,138.6L148.3,139.5L146.8,139.8L146.4,139.0L146.3,138.0ZM399.5,189.6L399.8,190.1L398.9,190.5L398.5,190.0ZM147.7,119.8L148.2,120.2L147.8,120.7L147.3,120.4L147.3,120.0ZM177.6,165.1L178.0,165.7L177.9,166.5L177.5,166.7L177.3,166.0ZM160.8,171.6L158.7,172.8L156.2,172.9L157.1,171.5L158.1,170.5L159.4,170.9ZM786.9,233.4L787.3,234.1L786.3,234.5L785.8,234.4L786.0,233.9ZM618.9,208.9L622.0,210.6L618.5,212.0L614.3,212.2L616.0,210.3ZM249.3,81.0L249.8,82.3L248.5,84.3L247.4,83.4L247.7,81.9ZM462.7,227.9L463.3,228.6L462.5,228.7L462.0,228.1ZM418.6,168.0L419.5,169.0L419.5,169.8L417.6,171.4L417.5,170.6L417.7,169.3ZM450.3,206.5L449.1,205.9L449.0,203.7L450.9,202.9ZM252.2,135.2L253.3,136.0L253.8,136.8L253.0,137.8L251.3,136.4L251.3,135.4ZM678.2,228.0L678.5,228.4L677.7,228.9L677.6,228.2ZM485.6,237.1L486.2,236.9L486.4,237.5L485.7,238.1L485.4,237.9L485.2,237.2ZM239.7,83.4L239.9,81.9L241.3,82.7L241.1,83.9ZM172.4,90.1L172.0,89.9L172.2,89.5L172.6,89.3L172.9,89.7L172.8,89.9ZM126.4,151.6L128.4,151.5L129.0,152.5L127.0,153.8L125.6,152.8ZM646.1,299.8L645.1,299.4L644.6,298.9L644.8,298.5L645.6,298.8ZM205.0,85.1L206.8,84.5L205.5,86.5L204.2,86.2ZM867.4,280.0L867.4,278.8L869.1,278.6L869.6,279.7L868.9,280.9L867.8,281.4ZM467.6,260.6L467.9,260.2L468.6,259.8L468.6,260.7L468.5,261.0L467.6,261.2ZM436.6,214.5L437.4,216.1L435.6,217.5L434.7,216.7ZM693.3,313.1L695.8,313.1L694.4,314.9L693.0,314.8ZM394.3,201.0L394.5,201.3L394.0,201.5L393.7,201.2ZM756.2,209.9L756.1,209.2L757.0,209.7L757.1,210.4L756.6,210.6ZM590.6,250.1L590.4,249.6L590.6,249.1L591.1,248.9L591.4,249.1L591.2,249.9ZM280.3,182.1L280.7,180.9L281.6,180.2L282.7,181.8L282.0,182.6ZM349.4,176.9L349.1,176.8L349.8,175.6L350.3,175.3L350.8,175.6L350.4,176.1ZM831.7,189.0L831.2,189.0L830.6,188.7L830.6,188.0L831.3,188.0ZM819.6,201.7L819.9,201.1L820.7,201.6L820.7,202.3ZM304.9,89.0L307.2,87.7L307.8,88.5L307.8,89.3L306.0,90.1L304.8,89.8ZM862.4,261.6L861.3,263.0L860.1,261.6L860.9,260.9ZM441.3,193.4L441.6,196.0L440.1,194.9L439.8,192.5ZM415.9,181.1L416.3,181.5L416.2,182.2L415.4,182.3L415.4,181.7ZM745.2,219.7L746.4,220.6L746.3,221.3L745.2,221.0ZM882.3,262.6L883.1,262.3L883.1,263.1L882.3,263.3ZM831.9,260.3L828.7,259.0L829.8,257.9L831.9,258.7ZM454.0,240.1L455.0,240.9L454.0,241.5L452.4,241.9L452.1,240.9ZM856.1,283.7L858.8,286.5L853.7,289.6L850.5,285.9ZM596.5,203.2L596.8,204.3L596.0,204.9L594.2,203.2L595.4,202.6ZM449.8,290.6L449.2,291.6L448.1,290.9L448.4,289.5ZM771.3,228.0L771.1,228.7L770.4,228.9L769.5,228.8L769.8,228.2L770.2,227.6ZM517.1,246.7L516.1,247.6L515.1,246.9L514.8,245.9L515.8,245.4L516.7,245.9ZM370.4,180.4L370.5,180.8L369.8,180.9L369.0,180.3L369.5,180.0L370.1,179.8ZM831.0,198.3L831.3,198.3L831.1,199.0L830.7,199.6L830.0,199.6L830.3,198.7ZM858.7,298.5L859.1,297.6L859.7,297.5L859.5,298.3ZM211.5,143.0L210.1,143.3L209.6,141.8L211.4,141.8L212.0,142.6ZM716.7,300.4L717.5,299.2L718.0,300.6L717.5,301.3ZM296.1,99.8L295.3,101.1L291.3,99.6L290.2,97.5L292.3,96.6ZM282.8,129.4L283.4,128.9L283.9,129.3L283.7,129.8ZM722.2,227.7L722.4,227.1L723.6,227.3L723.6,228.0ZM249.8,110.8L249.6,110.7L249.3,110.3L249.8,109.8L250.1,109.9L250.3,110.7ZM269.6,93.9L269.8,92.9L270.9,94.0L270.7,95.1L270.6,96.5L269.7,95.0ZM662.0,224.9L662.9,224.4L663.6,224.9L663.4,226.1L662.7,226.5L662.0,225.6ZM803.4,269.2L804.2,269.2L803.4,270.2L802.9,270.0ZM262.6,197.2L261.8,195.6L263.1,196.3L264.3,197.7ZM157.4,168.8L159.0,169.6L158.8,170.8L158.0,172.3L157.0,171.9L157.1,170.5ZM609.2,204.1L609.8,204.7L609.7,205.1L609.4,205.6L608.9,205.2L609.1,204.6ZM829.0,247.1L829.7,248.0L829.6,249.1L829.1,249.9L828.5,249.0L828.6,247.8ZM830.2,182.3L831.2,182.8L831.3,183.9L830.5,183.7ZM301.3,183.4L300.6,182.4L301.3,181.8L302.4,182.9ZM320.2,116.7L321.0,116.4L322.2,117.3L321.4,117.7ZM419.7,223.3L421.2,223.0L420.6,224.3L419.5,224.6ZM645.2,173.1L644.5,174.2L643.6,173.5L643.3,172.5L643.8,172.2ZM246.8,98.3L248.1,96.7L249.3,96.2L251.7,96.5L253.3,98.2L250.0,98.6ZM368.4,175.0L368.5,175.9L367.6,175.9L367.6,174.7ZM240.1,86.0L241.4,86.4L241.3,87.3L241.0,88.2L239.9,88.4L239.0,87.4ZM665.9,172.8L666.0,174.2L665.3,174.7L664.4,174.0L664.7,172.7ZM346.6,170.4L343.3,168.0L343.9,166.3L348.8,168.4ZM430.8,171.4L430.7,170.4L431.0,170.3L431.5,170.7L431.5,171.8L431.2,171.8ZM201.3,189.2L202.2,188.5L202.8,188.4L202.9,189.6L202.2,190.7L201.6,190.4ZM665.8,221.3L664.7,220.9L664.3,220.1L665.0,219.4L666.0,220.1ZM626.8,273.0L626.4,272.4L627.0,272.2L627.5,272.8ZM432.4,177.7L432.0,177.6L431.7,177.3L432.2,176.9L432.5,177.0L432.8,177.4ZM626.5,201.0L626.1,199.1L627.6,198.6L627.7,200.8ZM657.8,178.2L659.2,178.4L661.0,179.1L660.2,180.5L658.9,180.3ZM610.7,172.6L610.4,173.6L609.1,173.7L609.2,172.5ZM605.1,184.5L605.4,184.8L605.2,185.3L604.4,185.7L604.2,185.4L604.6,184.6ZM383.2,234.4L384.9,233.0L385.3,233.9L383.7,235.2ZM325.7,183.4L325.2,183.8L325.2,183.3L325.5,182.9L325.9,182.9ZM759.6,229.3L759.7,230.0L759.2,230.3L758.9,229.7L759.1,229.4ZM616.0,192.5L615.4,193.1L615.2,192.6L615.8,192.0ZM628.9,205.6L629.2,202.7L630.3,203.6L630.6,205.2ZM409.2,238.7L409.5,238.2L409.9,238.2L410.3,239.0L410.1,239.3L409.4,239.2ZM837.9,222.3L838.7,217.9L840.7,217.5L839.4,222.8ZM848.1,228.1L846.4,227.4L845.9,225.7L846.9,224.2L848.1,226.0ZM732.6,294.4L732.3,295.4L731.7,295.3L732.0,294.3ZM865.7,265.2L865.5,265.9L864.2,266.1L865.0,265.1ZM494.4,188.0L493.7,189.1L493.3,188.6L494.0,187.6ZM461.3,217.7L460.8,216.9L461.4,216.4L462.0,217.0ZM188.7,96.4L187.8,97.2L186.7,96.3L187.6,95.8ZM296.0,193.0L295.5,192.8L295.3,192.3L296.1,192.3L296.1,192.7ZM147.5,163.0L147.8,162.6L148.2,162.9L147.9,163.5ZM845.3,235.5L845.0,236.1L844.6,236.1L844.4,235.6L845.1,235.0ZM790.6,218.0L791.1,217.1L791.8,217.4L792.2,218.0L792.0,218.7L791.1,218.8ZM864.2,255.4L864.5,255.3L864.6,255.7L864.6,256.2L864.1,256.2L863.9,255.7ZM844.9,241.1L846.9,240.0L847.3,241.1L845.7,242.8L844.6,243.4L843.5,242.3ZM801.5,220.3L802.4,221.1L802.3,221.6L801.6,221.4L801.0,220.8L801.0,220.1ZM221.4,149.9L220.6,149.8L220.4,149.5L220.4,148.8L221.3,148.6L221.6,149.3ZM441.9,243.0L443.8,244.1L443.9,249.2L441.0,250.2L438.6,248.0ZM408.2,237.5L409.4,237.4L408.9,238.1L408.1,238.2ZM441.8,183.7L442.0,182.9L442.5,183.5L442.5,184.4ZM892.7,269.5L892.5,271.0L890.4,269.2L890.7,267.5ZM694.9,213.5L693.9,214.7L692.8,214.0L693.6,213.1ZM294.0,131.6L294.0,131.0L295.1,131.1L294.6,131.9ZM167.3,154.7L167.9,155.4L167.4,155.6L166.6,155.3L166.5,154.5ZM887.0,207.9L886.0,208.3L885.3,207.4L885.9,206.8ZM808.3,205.3L809.3,206.7L808.4,208.0L807.4,206.4ZM620.3,212.0L619.7,210.6L621.0,209.0L621.8,210.8ZM174.6,110.5L174.0,109.9L174.6,108.9L175.4,109.3L175.3,110.3ZM861.4,223.4L862.1,223.0L862.8,223.4L862.1,223.9ZM221.5,80.1L222.1,79.3L222.6,80.0L222.1,81.0ZM269.2,96.7L272.2,95.7L272.5,97.1L269.4,97.8ZM633.3,272.2L632.9,272.9L632.1,273.1L632.1,272.5L632.7,272.0ZM224.2,77.6L224.1,79.2L223.2,79.9L222.9,77.3ZM652.4,253.3L650.5,251.0L650.4,248.8L653.1,247.9L653.2,250.1ZM393.9,263.6L393.4,263.7L393.2,263.3L393.9,263.0ZM386.2,213.8L386.5,213.4L387.3,214.3L387.0,214.8L386.8,214.7L386.2,214.1ZM399.3,241.6L399.4,241.1L399.9,241.1L399.6,241.8ZM348.7,184.2L347.2,185.1L346.7,184.1L348.2,183.0ZM350.0,164.5L348.8,165.3L347.0,165.5L347.0,165.0L347.4,164.3L348.9,164.2ZM362.3,197.1L361.8,196.5L362.8,194.2L363.3,195.5ZM594.8,199.2L595.5,199.3L595.2,200.2L594.2,200.6L594.2,199.8ZM832.3,182.1L831.6,181.6L831.7,181.0L832.7,181.3ZM393.2,228.0L393.7,228.5L393.6,229.1L393.2,229.0L392.8,228.6ZM888.8,288.5L887.4,289.7L887.5,287.7L888.2,286.8ZM199.9,92.5L199.6,93.3L198.9,93.1L198.7,92.6L198.9,91.7L199.6,92.2ZM447.6,176.0L448.6,176.6L448.2,177.1L447.0,176.2ZM400.3,240.9L400.1,240.2L400.4,239.1L401.0,239.4L401.4,240.0L400.9,240.7ZM855.6,269.3L856.3,268.7L857.4,269.2L857.2,269.7L856.6,270.2L855.9,269.8ZM627.7,175.4L628.1,174.4L629.0,174.2L630.4,174.3L630.1,175.2L629.1,175.5ZM458.9,163.2L458.0,162.0L457.8,160.8L458.7,161.0L459.7,161.3L459.7,162.6ZM599.2,285.2L600.5,285.1L600.9,286.5L599.6,286.5ZM809.6,212.3L808.1,212.1L808.2,210.0L809.7,210.1ZM308.4,164.2L307.5,164.4L307.6,163.9L308.1,163.2L308.6,163.2L309.1,163.5ZM589.7,197.2L589.9,197.9L589.6,199.0L589.0,199.0L588.1,198.3L588.7,197.5ZM871.8,290.4L870.8,291.0L870.3,290.5L870.5,289.8L871.3,289.6ZM243.1,111.9L245.0,111.2L245.3,111.9L244.0,113.8L241.9,113.4ZM299.7,119.8L300.5,118.9L301.0,119.2L300.8,119.9L300.0,120.1ZM525.1,275.7L527.0,269.9L529.7,271.8L529.0,275.8ZM187.3,83.4L188.1,83.2L188.4,83.6L188.4,84.0L187.8,84.5L187.3,83.8ZM879.8,295.6L881.5,293.9L883.5,294.2L881.1,297.0ZM654.3,184.0L654.4,183.0L655.9,183.5L655.4,184.5ZM203.8,137.8L202.2,140.1L200.4,140.4L198.5,139.6L200.8,137.2L203.0,137.3ZM425.3,238.1L427.8,240.9L426.8,242.6L424.9,240.9ZM874.2,277.5L874.0,277.2L874.0,276.8L874.3,276.7L874.6,276.9L874.5,277.2ZM280.2,134.2L280.1,133.7L280.3,133.4L280.7,133.5L280.8,133.9ZM492.5,243.1L491.9,242.8L492.1,242.3L492.4,242.2L492.8,242.7ZM392.6,183.0L393.5,182.8L394.3,184.9L393.1,186.0ZM172.7,166.4L172.3,167.2L171.6,167.4L170.8,166.7L171.0,166.2L172.0,166.0ZM807.2,252.6L809.4,249.5L809.9,253.0L808.2,256.0ZM172.1,151.8L172.9,151.7L172.9,153.0L172.2,153.2L171.5,152.4ZM589.5,201.4L588.3,201.5L588.6,200.7L589.5,200.9ZM359.9,222.8L359.5,221.7L360.0,221.7L360.6,222.2L360.8,222.7L360.4,223.2ZM658.6,310.6L660.4,310.2L662.1,311.4L659.7,312.2ZM409.0,288.4L410.8,288.0L410.9,289.2L408.6,289.5ZM255.1,143.0L254.9,143.5L254.3,143.6L254.6,142.9ZM764.6,228.7L764.6,229.3L764.0,229.3L764.2,228.9ZM625.6,196.7L625.4,198.3L624.4,197.9L624.5,196.0ZM611.8,214.3L611.0,214.5L609.4,213.8L609.2,212.9L609.7,212.4L610.5,212.9ZM686.6,249.2L686.0,248.7L686.6,248.3L687.6,249.0L687.1,249.4ZM229.4,204.0L228.2,203.9L227.3,203.3L226.6,201.9L227.8,201.4L228.9,202.8ZM393.6,164.5L390.6,164.8L390.7,162.9L392.9,162.5L394.8,163.2ZM669.1,218.2L669.1,219.0L668.6,218.9L668.5,218.5ZM853.6,307.4L854.8,306.0L856.7,307.5L856.5,309.7L855.1,310.8L853.3,308.6ZM771.7,215.7L772.4,215.0L773.2,214.9L774.1,215.5L773.0,216.1L771.6,216.3ZM474.8,255.0L474.3,253.9L474.8,251.4L475.9,251.4L476.0,253.4ZM397.0,272.7L396.5,272.0L397.2,271.5L397.7,272.0ZM283.9,84.9L283.6,85.4L282.9,84.8L283.3,84.6ZM293.9,192.9L293.1,194.8L291.1,194.0L290.5,192.9L291.8,191.6L292.9,191.7ZM800.3,291.6L799.7,294.0L797.2,295.8L795.9,294.4ZM149.3,137.7L149.2,138.6L148.5,139.1L148.2,138.3L148.9,137.5ZM133.8,126.0L134.7,126.9L134.1,128.1L132.9,127.2ZM283.3,101.5L282.7,101.2L282.6,100.5L283.0,100.5L283.8,101.4ZM639.8,203.2L637.9,204.0L637.2,202.5L639.0,201.4ZM900.4,279.0L899.6,278.9L899.0,278.0L899.9,278.1ZM452.6,263.8L454.0,263.8L454.7,265.0L454.4,265.4L452.9,265.1ZM861.2,309.2L862.4,308.6L862.5,310.1L861.8,310.9ZM897.4,294.1L896.2,293.5L895.7,292.5L896.8,291.6L897.4,292.1L897.8,293.1ZM413.6,229.0L413.0,229.8L412.0,230.2L410.9,228.9L411.8,228.0L412.5,228.3ZM276.7,110.5L277.8,112.2L277.2,113.2L275.7,111.5ZM482.9,228.4L483.5,228.5L483.3,229.0L482.6,228.9ZM743.5,226.1L742.7,225.7L743.0,224.8L744.0,224.0L744.1,224.9ZM875.1,281.5L875.7,280.9L876.6,281.4L876.3,281.9L875.6,282.4ZM269.6,95.1L269.0,95.1L268.8,94.5L269.5,94.5ZM233.1,129.8L234.5,131.0L232.7,131.4L231.8,130.6L231.8,129.7ZM822.8,247.0L822.4,247.4L821.8,246.9L821.6,246.3L822.1,245.6L822.6,246.3ZM496.8,248.7L495.0,248.1L494.7,247.3L496.5,246.5L497.4,247.1L497.8,248.0ZM241.9,129.7L242.6,130.6L242.5,132.1L241.4,130.4ZM417.2,283.7L416.6,284.9L415.6,285.2L414.7,285.1L415.6,283.8L417.1,283.0ZM455.4,245.8L455.7,245.8L455.9,246.4L455.6,246.6L455.1,246.7L455.1,246.3ZM281.3,89.3L281.6,90.7L280.7,90.9L279.6,90.6L280.1,89.5ZM710.0,211.7L710.8,211.8L710.5,212.4L709.9,212.1ZM552.8,263.9L554.5,262.7L555.0,263.8L553.2,265.1ZM487.6,219.9L487.7,220.8L487.3,221.6L486.7,221.0ZM490.0,186.1L490.9,186.5L490.7,187.7L489.7,187.3ZM545.2,227.3L546.1,227.1L546.4,227.8L545.5,228.3ZM356.8,179.4L353.3,184.9L350.2,183.3L354.4,177.6ZM265.5,130.8L265.7,131.8L264.5,131.5L263.9,130.6L264.4,130.0L265.2,130.4ZM558.4,277.5L559.6,278.1L559.0,279.5L557.5,278.4ZM608.1,190.3L607.7,190.2L607.5,190.0L607.6,189.6L608.1,189.5L608.4,189.9ZM782.2,232.8L781.6,231.3L783.8,231.2L784.4,233.5ZM326.4,173.6L326.0,173.7L325.8,173.5L325.8,173.0L326.3,173.2ZM397.3,221.4L395.3,221.6L394.3,220.5L397.4,220.2ZM325.2,196.5L326.2,197.3L326.6,199.4L325.1,199.3L323.7,198.6L323.8,197.0ZM598.2,192.6L598.1,193.7L597.8,194.2L597.1,194.6L597.1,193.3L597.6,192.3ZM221.0,153.4L220.4,152.7L221.3,152.6L221.5,153.1ZM256.0,122.4L257.0,124.2L255.8,125.2L254.1,123.2L254.6,122.0ZM593.1,126.9L592.4,127.7L591.7,127.2L591.8,126.8L592.4,126.1L593.4,126.2ZM478.6,177.9L479.1,177.9L479.3,178.3L478.8,178.4ZM293.9,174.4L295.1,174.4L295.9,176.2L294.0,175.7ZM325.6,185.1L325.9,184.3L326.6,184.1L327.0,184.5L327.0,185.1L326.3,185.6ZM430.6,276.2L427.2,278.8L426.4,275.2L428.9,273.4ZM432.7,188.4L432.6,187.6L433.6,187.8L433.2,188.5ZM302.6,116.2L303.0,115.4L303.9,115.2L305.0,116.3L304.2,116.7L303.6,117.0ZM287.2,99.1L286.7,98.7L287.2,98.3L287.5,98.6ZM274.6,153.3L275.4,154.2L275.1,155.1L274.8,155.7L273.9,154.7L273.6,153.1ZM267.8,121.0L269.3,120.5L270.1,121.0L270.4,121.7L269.3,122.6L268.7,121.9ZM623.5,192.7L623.9,193.0L623.7,193.4L623.2,193.3L623.2,192.9ZM294.6,189.2L294.3,189.2L294.1,189.0L294.1,188.6L294.4,188.5L294.8,188.6ZM659.5,309.3L659.1,310.4L658.4,310.1L657.9,309.6L658.1,308.7L659.1,308.6ZM839.3,252.2L837.7,250.7L840.6,250.5L841.8,252.3ZM775.7,236.3L774.9,235.3L775.6,234.9L776.4,235.8ZM144.9,173.6L143.4,171.8L145.3,169.3L147.0,171.0ZM638.2,203.6L639.2,204.2L639.1,204.8L638.5,205.5L637.7,205.1L637.5,204.2ZM880.2,307.4L882.3,308.3L880.5,309.7L878.2,309.7L878.7,308.1ZM596.8,320.2L596.4,322.4L594.8,322.5L594.5,320.1L595.8,319.0ZM862.4,292.8L862.1,291.4L863.3,291.7L864.6,292.9L863.6,293.9ZM513.1,260.8L510.5,259.8L510.4,254.5L513.3,255.3ZM375.9,194.0L376.3,193.5L376.9,193.8L377.5,194.8L376.7,195.6L376.4,195.1ZM482.4,286.1L483.7,288.2L483.2,291.2L481.1,291.9L480.6,288.9L481.4,287.1ZM193.6,98.2L193.2,98.5L192.2,97.9L193.0,97.7ZM221.7,79.7L222.5,79.8L222.9,80.6L222.3,81.8L221.6,81.3ZM128.6,138.1L129.2,137.9L129.6,138.2L129.1,138.8ZM860.2,269.0L859.2,270.0L858.3,269.2L858.4,268.1L859.1,267.7L859.8,268.0ZM629.9,222.4L629.3,222.5L628.8,222.5L628.5,222.1L629.2,221.8L630.0,222.0ZM834.1,225.3L834.1,224.1L834.8,223.5L835.6,223.9L834.8,225.6ZM688.4,213.7L687.8,214.9L686.4,215.4L685.6,213.4ZM782.5,216.2L781.8,216.1L781.6,215.8L781.9,215.2L782.5,215.4L782.7,215.8ZM605.6,188.7L606.5,183.5L608.7,183.7L607.9,187.9ZM315.6,189.3L315.5,190.8L314.2,190.4L314.8,188.8ZM372.2,265.9L371.5,267.4L370.6,267.2L370.9,266.3L371.6,264.6L372.2,264.7ZM205.0,76.9L205.1,77.7L204.1,77.9L204.2,77.3ZM127.7,151.1L128.0,150.9L128.6,150.9L128.7,151.4L128.4,151.7L128.0,151.6ZM594.7,207.9L594.4,207.0L595.1,206.8L595.5,207.3ZM778.4,216.8L777.9,217.8L777.1,216.7L777.3,215.9L777.9,215.5ZM811.9,238.3L813.4,238.6L813.2,240.5L812.4,242.4L811.3,241.5L810.8,240.2ZM851.4,291.1L850.9,291.3L850.8,290.8L851.2,290.5ZM277.7,87.4L279.5,88.0L278.7,90.9L274.9,91.4L274.7,89.1ZM402.3,161.1L401.7,160.5L401.6,160.0L401.8,159.9L402.4,160.0L402.7,160.8ZM280.2,187.6L280.2,189.0L278.5,189.0L278.6,187.8ZM278.5,139.6L279.5,139.6L279.1,140.2L277.8,140.7ZM309.8,178.2L309.3,177.8L309.1,177.4L309.7,177.0L310.4,177.3L310.4,178.0ZM335.5,132.2L335.4,131.7L335.6,131.4L336.1,131.6L335.9,132.0ZM380.0,267.6L379.4,266.8L380.0,266.7L381.1,267.4ZM667.3,288.5L668.1,288.4L668.3,288.8L667.5,289.8L666.9,290.2L667.1,289.3ZM848.0,261.7L846.5,260.6L847.1,258.9L848.6,260.3ZM915.8,283.0L915.4,283.8L914.9,283.5L915.2,282.9ZM783.2,333.1L785.0,339.0L785.1,342.9L782.0,338.7L780.3,333.9ZM399.7,280.1L397.0,279.6L396.9,277.9L400.5,279.1ZM825.9,187.8L825.0,187.3L825.3,186.8L826.0,187.0L826.4,187.4ZM450.8,203.8L451.7,206.4L450.0,207.9L449.5,205.3ZM299.7,156.0L300.0,156.9L299.2,157.0L298.8,156.1ZM600.2,195.0L600.7,196.3L599.2,196.6L598.6,195.8L599.3,195.2ZM635.1,224.7L635.4,224.0L636.4,224.6L635.6,225.0ZM339.4,205.5L339.1,204.7L340.2,204.3L340.4,205.3ZM311.8,112.3L312.4,111.7L313.3,112.0L314.2,112.9L313.3,113.8L312.4,113.5ZM362.5,252.6L361.7,253.0L361.7,251.1L362.5,251.2ZM284.8,132.7L285.1,132.8L285.6,133.1L285.2,133.5L284.9,133.4L284.7,133.0ZM238.2,169.1L238.3,168.8L239.0,169.3L239.1,170.0L238.8,169.9ZM297.1,136.9L298.2,135.9L299.4,136.9L297.8,138.3ZM724.2,291.5L725.8,290.8L727.2,291.7L725.8,292.0ZM267.2,90.5L266.8,90.3L267.0,89.9L267.5,89.5L267.8,90.2ZM284.5,129.5L285.5,128.4L287.6,128.6L286.5,129.8ZM326.0,197.6L326.1,197.1L326.6,196.8L326.7,197.4L326.5,197.8ZM128.2,143.7L127.6,145.0L126.6,146.1L125.6,144.8L125.3,143.4L126.9,143.2ZM712.5,276.4L711.3,276.6L710.7,275.7L712.2,275.6ZM831.6,206.2L831.7,205.8L832.1,205.5L832.3,205.9L832.2,206.2L831.8,206.5ZM630.2,226.7L630.1,227.6L629.0,228.2L628.3,227.8L629.4,226.8ZM662.0,275.3L663.4,275.2L663.8,276.4L662.2,276.3ZM287.4,109.9L286.9,110.3L286.6,110.4L286.5,109.7L287.1,108.9L287.5,109.2ZM785.5,234.9L785.2,235.6L784.6,235.8L784.8,235.0ZM338.2,245.4L337.5,246.3L336.9,246.0L337.4,245.2L337.7,244.8ZM851.3,290.6L850.6,291.7L850.3,291.0L851.2,290.0ZM296.1,181.8L295.4,182.1L295.1,181.6L295.9,181.3ZM460.0,164.9L459.6,165.1L459.2,165.0L459.1,164.4L459.7,164.3L460.2,164.5ZM869.2,282.8L869.7,282.8L870.1,283.3L869.9,284.0L869.4,283.7L869.2,283.3ZM606.5,194.1L601.7,192.0L602.4,188.3L608.2,191.7ZM382.1,274.7L381.6,275.4L381.1,275.0L381.9,274.1ZM419.0,163.7L419.9,164.3L418.7,165.6L417.4,165.1ZM244.5,139.5L245.1,139.6L244.9,140.2L244.3,140.1ZM264.6,142.9L262.9,143.7L262.7,142.3L264.5,141.4ZM606.9,198.2L605.7,197.4L606.8,196.3L607.4,197.1ZM847.8,247.9L846.2,246.9L844.5,245.1L845.2,244.5L846.8,244.8L848.7,246.8ZM767.0,231.1L766.3,231.9L765.1,231.1L766.0,230.7ZM123.2,135.5L124.4,137.3L122.6,137.6L121.2,136.1ZM431.0,231.4L431.5,230.8L432.2,230.9L432.1,232.3L431.3,232.5ZM891.7,265.9L890.7,264.5L892.3,262.1L893.5,263.5ZM196.6,158.2L198.1,158.7L196.8,159.4L195.8,159.0ZM237.8,103.6L238.1,103.1L239.0,103.2L239.2,103.7L238.5,103.8ZM639.4,175.6L638.7,175.2L638.9,174.4L639.7,174.2L640.4,174.8L639.8,175.2ZM452.7,170.8L452.3,171.6L451.3,171.5L450.8,171.2L451.2,169.7L452.1,170.3ZM751.7,247.8L750.9,247.4L751.1,246.8L751.9,247.3ZM430.7,282.2L430.2,281.5L431.2,281.0L431.7,281.6ZM444.2,169.7L444.0,169.0L444.7,168.9L444.9,169.7ZM460.6,177.5L461.6,177.3L462.2,177.8L461.9,179.2L461.1,178.8L460.4,178.2ZM592.0,198.8L591.8,198.1L592.3,197.8L592.5,198.3L592.5,198.7ZM845.9,248.5L846.8,246.8L847.3,248.3L846.8,249.9ZM907.8,298.9L908.9,299.4L908.3,300.1L907.1,299.8ZM555.9,277.2L555.5,276.8L556.2,276.3L556.9,276.1L556.6,276.8ZM255.2,100.9L255.6,101.4L255.1,101.6L254.9,101.3ZM507.6,249.6L505.5,250.1L506.7,247.8L508.0,247.5ZM731.4,308.8L731.7,303.9L732.5,303.2L734.0,303.9L734.5,306.7L733.1,308.4ZM710.8,236.7L712.2,235.7L713.2,235.8L711.6,237.5ZM501.4,285.1L501.9,284.6L502.6,285.0L502.3,285.4L501.8,285.7ZM259.5,89.9L260.2,90.8L259.5,90.9L258.8,90.1ZM336.5,160.5L337.4,159.3L339.3,160.6L338.1,161.8ZM872.0,277.5L871.5,278.0L871.0,278.2L870.4,278.0L871.0,277.2L872.2,277.0ZM388.1,283.1L387.5,283.1L387.9,282.4L388.5,282.5L388.9,283.0ZM210.8,166.3L210.5,167.1L209.6,165.9L210.1,164.9ZM749.3,277.0L749.7,277.7L749.0,278.6L747.8,279.2L747.7,278.0L747.7,277.0ZM417.8,234.3L419.0,235.3L417.6,237.1L416.1,236.2ZM761.8,241.7L761.9,242.3L761.1,242.1L761.3,241.3ZM842.5,241.7L842.8,242.6L842.0,243.0L841.5,242.2ZM266.7,129.4L265.0,130.6L263.7,130.4L264.4,128.7ZM362.4,219.0L362.3,218.7L362.8,218.4L362.9,219.1ZM209.3,176.7L208.8,176.8L208.3,176.2L208.4,175.8L209.0,175.5L209.5,176.1ZM238.2,89.3L240.0,88.5L241.2,91.1L239.1,90.8ZM303.9,165.2L303.9,165.6L303.7,166.0L303.4,165.8L303.2,165.2L303.5,164.8ZM739.7,222.6L741.4,223.6L741.0,224.9L739.1,223.9ZM225.8,90.3L224.5,89.7L223.9,88.2L224.8,87.9L225.8,89.0ZM622.8,219.2L621.1,219.8L620.1,219.7L620.8,218.6L622.3,217.3L623.9,218.1ZM870.1,272.6L869.8,272.4L869.8,271.9L870.2,271.5L870.5,271.6L870.5,272.5ZM179.9,142.6L180.4,142.2L180.6,142.8L180.1,143.1ZM884.2,311.5L883.9,313.1L882.8,312.5L882.1,310.8L883.4,310.4ZM791.9,225.6L792.2,226.2L791.7,226.6L791.2,226.1ZM611.6,291.2L613.5,290.3L614.1,291.2L612.2,293.3L610.7,293.3ZM395.7,251.5L396.4,251.5L396.7,251.9L396.1,252.7L395.5,252.5ZM458.8,240.1L459.4,241.8L457.5,242.2L456.3,240.9L457.4,239.3ZM389.2,226.3L389.0,227.0L388.4,226.8L388.4,225.9L388.8,225.7ZM244.0,107.3L242.3,105.1L244.2,104.3L245.9,106.3ZM379.2,231.6L379.2,232.1L378.6,232.2L378.7,231.6ZM222.5,149.3L222.5,148.9L223.0,148.8L222.8,149.4ZM337.6,178.1L336.8,178.3L335.9,177.9L336.9,177.6ZM265.3,99.8L266.7,100.7L267.0,102.5L266.5,103.1L265.1,102.4L264.8,100.5ZM425.8,273.2L427.9,272.6L428.6,273.6L426.9,274.5ZM837.9,296.3L835.2,295.8L835.1,294.0L835.5,292.5L837.8,292.1L839.5,294.7ZM796.7,242.1L797.7,242.7L796.5,243.2L794.5,243.1L794.8,242.2ZM318.0,99.9L316.1,99.0L316.1,98.1L317.3,98.7ZM771.0,315.0L771.8,315.9L771.3,317.7L770.7,317.1L770.0,315.4L770.4,314.9ZM201.5,81.5L200.6,80.7L202.0,80.4L203.6,80.4L204.2,81.6L202.8,82.2ZM838.8,185.2L838.0,185.7L837.6,184.8L838.6,184.4ZM608.1,208.5L608.3,207.2L609.8,206.6L610.1,208.3L609.3,209.7ZM538.6,269.4L537.3,268.6L537.8,267.7L539.1,267.8L539.8,267.9L539.7,269.1ZM404.2,222.4L404.6,221.6L405.5,222.1L404.6,223.2ZM847.9,293.9L849.4,292.6L851.4,292.9L851.9,294.0L849.5,294.3ZM401.5,256.2L402.2,256.5L401.5,257.5L400.1,258.1L399.7,257.7ZM709.2,218.7L708.4,219.1L706.7,219.1L705.7,217.7L707.0,217.2L708.2,217.1ZM285.0,96.3L286.6,96.3L288.6,97.5L286.8,97.6ZM670.1,304.0L670.4,304.3L670.5,304.8L669.9,305.0L669.6,304.6L669.5,304.2ZM600.5,236.3L601.1,236.5L600.7,237.1L600.1,237.0ZM438.5,219.7L438.8,217.6L439.7,217.9L439.5,220.2ZM365.3,262.7L365.9,262.9L366.6,263.4L366.0,263.6L365.0,263.5L364.6,262.9ZM283.5,241.5L284.2,241.2L284.7,241.7L284.1,242.1ZM556.2,266.3L555.8,266.7L555.0,266.2L555.7,265.7ZM841.7,261.6L842.2,260.6L842.8,261.0L842.3,261.6ZM883.4,276.0L884.0,275.0L885.2,275.2L885.2,276.3L884.6,276.9L883.2,277.1ZM841.0,281.8L842.0,282.5L841.8,283.4L840.5,283.2L840.0,282.5ZM301.2,87.9L300.7,88.9L299.9,88.4L300.6,87.8ZM255.9,84.1L254.7,84.5L254.7,83.8L255.1,83.0L255.8,83.4ZM912.0,277.2L912.5,277.6L912.3,278.1L911.5,277.8ZM157.6,142.9L158.1,143.6L157.7,144.3L157.1,143.9ZM303.7,184.3L302.6,185.2L301.9,184.0L302.9,182.8ZM229.3,146.7L230.5,147.0L230.5,147.7L229.8,148.0L228.8,147.5ZM372.9,238.5L370.8,238.4L372.0,237.2L373.6,237.4ZM675.8,264.1L675.7,263.6L676.2,262.5L677.7,261.9L678.4,262.8L677.3,263.5ZM349.1,197.4L349.5,198.2L349.0,198.3L348.5,197.3ZM446.0,175.4L446.7,175.1L447.3,176.6L447.0,177.6L446.4,177.4L446.1,176.3ZM234.7,139.8L236.1,140.1L235.2,141.4L234.5,141.2ZM203.3,84.2L204.3,84.6L204.1,85.6L202.6,85.7ZM243.2,126.7L243.2,126.9L243.2,127.3L242.8,127.5L242.5,127.3L242.5,126.6ZM203.6,82.4L202.7,82.9L202.1,82.8L203.3,81.8ZM161.5,97.8L159.6,97.9L159.4,96.2L161.1,96.2ZM449.0,276.3L449.2,276.6L448.7,276.9L448.4,276.5ZM623.9,206.8L625.1,206.9L625.3,207.9L624.6,208.1L623.9,207.6ZM733.1,322.5L730.6,322.1L728.8,317.9L732.0,316.5L735.5,321.2ZM383.5,272.2L383.4,271.6L384.3,271.6L384.7,272.5L384.7,273.1L384.0,273.1ZM657.3,253.8L656.8,254.0L656.3,253.8L656.4,253.4L657.1,253.1ZM814.2,231.6L813.0,230.5L813.3,228.6L814.4,229.1ZM764.3,214.1L764.9,215.0L763.6,216.1L762.8,215.3ZM579.2,146.8L581.0,146.4L580.2,147.8L579.3,148.1ZM375.2,231.3L376.3,230.5L377.0,231.7L376.3,232.4ZM571.2,292.3L571.3,292.0L571.7,291.6L572.0,292.5L571.8,292.9L571.4,292.9ZM294.5,91.7L294.4,91.0L295.4,91.1L295.1,91.6ZM583.0,287.2L582.4,286.1L583.9,285.0L584.4,285.9ZM314.8,238.0L315.8,237.9L315.5,238.4L314.3,238.8ZM567.7,275.4L567.6,276.5L565.7,275.8L566.2,275.1ZM307.9,242.0L306.7,242.9L303.8,242.1L305.0,240.9ZM331.6,121.5L333.7,121.9L333.0,123.1L331.4,123.1ZM142.1,146.3L141.4,148.1L139.9,147.8L139.9,146.4L141.3,145.4ZM851.6,247.9L852.1,246.3L852.9,246.4L852.8,247.8ZM296.6,188.2L296.2,189.4L294.7,189.9L295.6,188.5ZM513.1,284.2L513.1,283.7L513.6,283.6L514.0,284.3L513.6,284.5L513.3,284.6ZM504.0,237.7L503.5,237.4L504.2,236.8L505.3,236.8L505.0,237.6ZM518.1,271.3L518.7,273.6L517.1,272.4L516.7,271.0ZM267.7,187.5L269.3,189.0L268.8,189.7L267.6,189.3L266.9,187.9ZM633.6,268.1L634.8,268.2L634.5,269.9L633.1,269.4ZM309.9,120.4L310.2,120.0L310.8,119.9L310.7,120.4ZM632.3,263.9L633.2,265.6L632.5,266.2L631.9,265.0ZM681.1,197.0L681.5,197.8L680.3,198.1L680.3,197.2ZM425.1,270.5L425.0,271.4L424.1,271.8L424.3,270.9ZM800.7,231.2L801.4,232.2L800.4,233.3L799.8,232.1ZM379.0,210.5L378.3,210.5L377.7,209.6L378.5,209.3ZM229.8,155.4L229.8,154.6L230.7,155.2L230.6,155.8ZM254.7,150.6L255.3,150.7L255.6,151.4L255.2,151.8ZM768.5,209.5L768.4,211.1L767.5,210.8L767.7,209.8ZM388.3,224.1L388.4,222.0L389.8,220.2L391.7,220.6L390.8,222.2ZM314.5,99.6L314.2,98.7L314.7,98.2L315.2,98.8ZM117.7,168.3L117.7,169.0L117.1,168.8L117.2,168.2ZM161.8,149.1L161.5,148.6L161.9,147.6L162.4,147.8ZM812.2,225.1L812.6,226.9L810.7,226.4L810.3,224.2ZM393.0,261.5L394.8,262.0L394.2,263.3L393.5,263.7L391.9,263.3L390.9,261.7ZM211.1,161.8L209.6,162.8L208.5,162.0L209.7,159.3L210.9,159.1L211.9,160.5ZM709.7,207.1L709.9,206.5L710.3,206.7L710.5,207.3L710.3,207.7ZM250.5,101.9L251.5,100.0L252.9,101.4L251.4,103.6ZM283.2,139.0L283.3,138.4L284.4,137.4L285.3,138.2L284.9,139.3L283.7,140.0ZM808.0,223.8L808.8,224.1L809.2,224.8L808.5,225.6L808.0,224.8ZM136.1,147.3L136.6,147.2L136.8,147.7L136.1,148.0ZM305.5,144.9L305.5,144.0L306.2,143.7L305.9,145.0ZM244.2,141.4L244.3,140.5L245.5,140.8L245.2,142.1ZM277.0,160.5L275.5,160.7L274.6,160.3L275.7,159.6L276.8,159.9ZM713.5,336.7L712.5,337.6L712.3,336.2L713.3,335.0ZM133.1,141.2L132.7,141.2L132.6,140.6L132.9,140.0L133.2,140.8ZM137.3,135.0L136.2,134.0L136.0,132.1L137.3,131.4ZM152.3,155.1L152.8,155.8L152.8,156.3L152.3,156.4L151.7,155.5ZM187.5,130.5L187.1,130.0L187.4,129.5L187.9,130.0ZM753.6,240.7L753.1,240.4L753.3,239.6L753.8,239.3L754.1,239.6L753.9,240.6ZM827.7,212.6L827.0,212.3L826.6,211.4L826.8,210.2L827.6,210.0L828.5,211.2ZM189.6,81.4L189.9,82.0L189.2,82.3L188.1,82.1L187.8,81.7L188.6,81.5ZM474.7,214.1L475.2,214.1L475.5,214.3L475.3,214.8L475.0,214.8L474.6,214.7ZM804.6,187.2L804.7,188.0L803.9,188.1L804.0,187.4ZM850.6,280.2L849.3,280.6L848.3,280.0L849.2,279.5ZM391.6,247.7L393.0,248.7L392.0,249.2L390.4,248.1ZM819.3,269.3L821.1,269.9L823.4,273.8L820.3,273.9ZM277.9,93.3L280.0,92.7L281.3,93.5L279.9,94.4ZM304.5,187.5L305.0,188.6L304.2,189.2L303.2,187.5ZM148.7,144.3L150.1,145.4L149.4,145.6L148.3,144.7ZM892.9,274.8L893.5,275.2L893.6,275.6L893.2,275.9L892.1,275.4L892.2,275.1ZM193.7,96.0L194.8,95.7L195.2,97.3L194.1,98.0ZM400.7,151.6L401.2,151.7L401.4,152.7L401.2,152.9L400.5,152.6L400.0,152.0ZM280.1,139.2L279.6,140.2L277.8,139.6L278.2,138.6ZM558.0,236.9L558.5,238.2L557.3,238.7L557.2,237.5ZM296.3,133.3L296.2,133.6L295.5,133.6L295.6,133.1L295.9,132.8ZM391.6,272.0L392.4,272.1L392.6,272.5L392.3,272.8L391.4,272.8L391.6,272.3ZM822.6,327.4L822.4,328.0L821.7,328.1L821.6,327.6ZM419.4,245.1L420.5,245.2L420.8,246.2L420.1,246.9L418.8,246.2ZM869.0,211.2L869.5,210.7L869.9,211.0L870.0,211.8L869.5,211.6ZM369.5,244.8L370.2,244.9L370.2,245.3L370.0,245.7L369.7,245.5L369.5,245.3ZM555.1,242.4L554.8,240.4L556.2,238.5L556.4,241.1ZM266.6,139.1L264.9,141.6L262.2,140.2L265.0,137.6ZM529.1,219.7L528.6,219.4L528.8,217.7L529.2,217.0L529.7,217.7L529.9,219.0ZM229.7,178.1L229.6,177.8L230.3,177.9L230.5,178.4ZM146.6,138.6L147.1,138.8L147.1,139.2L146.7,139.4L146.4,138.8ZM597.2,221.7L596.9,222.5L596.3,221.6L596.6,221.2L596.9,221.0ZM791.9,224.6L790.9,223.9L790.5,222.9L793.1,223.2L794.1,223.8L793.4,224.8ZM420.9,274.6L421.0,275.6L420.4,276.2L419.7,275.6L419.6,275.0L420.1,274.5ZM722.2,219.0L722.0,218.4L722.7,218.3L722.9,218.8ZM269.4,141.9L269.7,141.7L270.0,142.0L270.0,142.3L269.6,142.5L269.2,142.3ZM401.1,217.8L400.7,218.4L400.3,218.2L400.7,217.5ZM527.1,230.6L527.8,230.7L528.0,230.9L528.0,231.9L527.3,231.9L526.9,231.3ZM288.5,113.5L288.2,111.2L290.1,111.2L289.7,113.3ZM870.1,266.7L867.8,266.4L868.5,264.6L870.4,265.0ZM615.4,242.5L614.8,242.5L614.6,242.0L615.1,241.8L615.8,242.0ZM313.6,134.9L313.4,135.6L312.3,135.8L312.7,135.0ZM368.4,228.9L367.8,228.8L367.7,228.1L368.6,228.1ZM838.0,185.7L837.8,185.5L838.5,184.7L838.9,185.0ZM226.0,133.5L225.4,133.3L225.2,132.6L225.8,132.2L226.5,132.9ZM371.0,193.6L371.2,194.2L370.7,194.8L370.5,194.0ZM416.0,244.7L417.0,244.7L417.0,245.8L415.9,245.8ZM610.5,192.7L608.7,192.4L609.4,190.6L611.1,191.3ZM391.3,238.4L390.5,237.5L391.4,236.6L392.2,237.7ZM423.3,175.1L423.3,175.7L422.9,176.1L422.6,175.5L422.9,174.8ZM775.3,232.2L775.0,231.4L775.5,230.6L775.9,231.5ZM864.4,209.8L864.3,210.5L863.1,210.6L862.9,209.6L863.2,208.8L863.8,208.9ZM87.6,154.0L88.3,153.1L88.9,154.5L88.1,155.4ZM345.8,174.8L346.6,174.1L348.0,174.8L348.7,175.5L346.3,175.6ZM789.2,266.8L787.8,266.2L788.7,264.7L790.8,265.6ZM602.5,198.4L601.0,195.2L601.7,193.6L605.4,193.9L608.7,199.9L607.0,200.1ZM838.8,213.5L839.0,212.0L839.9,213.5L839.5,214.6ZM871.9,288.1L872.6,288.5L872.5,288.8L872.0,289.1L871.7,288.5ZM130.2,133.9L129.7,132.5L130.6,131.6L131.4,132.8ZM761.7,292.0L763.7,292.3L763.6,293.7L760.9,293.9ZM857.5,280.1L855.1,279.7L855.0,278.6L858.1,278.6ZM159.1,154.7L159.4,155.2L158.1,155.9L157.7,155.7L158.3,154.4ZM720.5,214.8L718.9,213.3L717.9,211.6L721.2,211.3L723.0,212.5L723.6,213.5ZM242.5,174.8L240.8,175.9L238.8,174.9L240.3,172.5L241.9,173.4ZM393.5,187.9L393.8,187.0L394.7,186.9L394.4,188.1ZM875.8,282.3L876.4,281.6L877.1,281.6L877.6,282.5L877.0,283.3L876.5,283.0ZM454.1,254.6L453.2,254.0L453.5,252.3L454.6,253.0ZM361.2,258.9L361.1,259.6L360.2,259.8L360.1,259.2L360.3,258.6L360.7,258.5ZM703.8,227.9L703.9,227.2L704.5,226.9L704.9,227.9L704.5,228.5ZM478.3,214.2L478.1,214.7L477.6,214.2L478.0,213.8ZM916.6,276.5L915.0,276.9L911.9,275.2L912.4,274.2L913.7,273.0L915.7,274.4ZM729.1,330.8L730.1,328.6L731.6,329.2L730.9,330.4L730.0,332.7L728.9,331.8ZM799.1,232.5L797.6,232.1L797.0,230.6L798.2,229.7ZM378.6,265.8L378.3,266.9L377.5,266.7L377.7,265.2ZM364.4,180.0L364.9,181.2L363.9,181.3L363.3,180.1ZM843.4,257.6L844.3,258.4L843.5,258.4L842.4,257.8ZM297.6,130.5L296.9,129.9L297.6,128.5L298.6,129.9ZM618.5,216.2L617.6,216.1L617.4,215.1L618.3,215.6ZM430.6,159.8L429.1,158.6L431.4,157.1L433.6,157.8L432.9,159.1ZM144.8,156.3L143.5,153.9L145.1,153.3L146.1,155.6ZM429.7,174.8L429.9,176.2L428.1,176.5L427.7,174.9ZM874.3,286.8L873.3,285.8L873.6,283.0L875.1,284.3ZM335.6,168.9L335.9,169.6L335.6,169.9L334.8,169.5L334.2,169.0L334.9,168.8ZM300.7,118.7L296.0,120.2L296.7,118.0L300.7,116.2ZM657.3,220.2L658.0,219.9L658.3,220.6L658.1,221.2L657.5,221.0ZM895.3,272.7L895.4,271.8L896.1,271.5L896.6,272.0L896.4,272.9ZM355.8,166.5L354.9,165.4L355.2,164.2L356.4,165.4ZM900.4,290.6L899.8,290.0L900.4,289.4L901.4,289.9ZM474.9,245.6L475.6,246.8L474.7,247.0L474.2,246.1ZM492.7,242.1L491.7,242.6L491.0,242.4L491.3,241.0L492.1,241.1ZM798.7,247.7L797.9,247.6L798.0,247.0L798.5,246.9ZM827.8,222.1L829.6,223.8L829.1,225.7L827.2,224.8ZM607.5,217.2L606.5,218.0L604.6,217.3L604.1,216.0L605.9,215.4ZM416.4,253.2L416.3,254.3L415.6,254.0L414.9,253.2L415.3,252.7L415.8,252.6ZM885.1,299.0L884.2,298.9L884.0,298.3L885.1,297.7L885.9,297.8L886.5,298.4ZM610.4,220.3L610.1,219.4L610.6,219.5L611.0,220.4ZM459.0,246.9L458.6,246.2L459.3,245.9L459.7,246.3ZM587.6,189.0L587.3,190.0L586.7,189.1L587.1,188.5ZM632.1,189.5L633.3,191.0L631.4,191.4L630.4,190.7L629.5,189.4L630.3,188.9ZM337.4,232.2L336.7,232.2L336.9,231.2L337.6,230.8L337.9,231.5ZM390.6,166.4L390.6,165.7L391.1,165.0L391.7,166.0L392.0,167.4L391.2,167.7ZM354.1,211.6L353.8,211.3L354.7,211.2L355.4,211.4L355.7,211.9L355.2,212.1ZM634.5,202.9L634.9,201.4L636.4,201.1L636.3,202.3ZM762.8,230.1L763.3,229.4L764.1,229.5L764.1,230.2L763.4,230.5ZM347.9,188.8L347.3,188.9L347.1,188.2L347.1,187.6L347.9,188.1L348.1,188.6ZM252.4,130.2L251.9,129.9L251.3,128.6L252.2,128.4L253.1,128.1L253.9,129.5ZM324.7,188.2L324.3,189.6L323.3,189.0L323.0,188.0L323.7,186.8L324.4,186.7ZM872.3,289.2L871.7,288.3L873.0,287.7L873.5,288.5ZM757.3,221.0L757.8,222.3L756.4,223.9L755.0,222.7L754.8,220.4ZM281.3,140.3L279.4,140.5L281.5,138.2L283.7,138.5ZM837.3,186.4L836.6,186.0L837.5,184.7L838.0,185.3ZM433.4,238.2L433.0,238.8L432.4,238.6L432.8,238.0ZM456.9,179.5L458.9,180.2L457.0,181.2L455.5,179.8ZM301.0,183.9L299.7,184.0L298.9,182.7L300.2,182.4ZM818.1,252.0L818.7,252.6L817.6,253.8L817.7,252.8ZM240.2,136.7L239.9,138.3L239.0,138.8L237.9,137.8L238.7,136.9ZM180.0,75.9L178.6,75.2L178.8,74.2L179.5,74.1L180.1,74.8ZM384.7,220.6L384.5,217.2L388.0,217.8L390.0,223.1L387.4,223.6ZM463.9,180.4L463.3,180.8L462.9,179.6L463.5,179.3ZM440.5,257.8L439.4,257.8L438.7,257.3L439.6,257.1L440.4,257.4ZM338.0,208.4L338.6,208.0L339.0,208.3L338.1,209.0ZM156.5,157.6L157.4,158.9L155.6,159.5L154.6,157.0ZM448.6,176.5L447.3,177.9L443.9,176.5L443.4,174.9L448.9,175.0ZM882.1,295.8L882.2,296.9L881.5,296.3L881.4,295.8ZM833.6,218.1L833.7,217.4L834.4,217.6L834.3,218.1ZM579.9,283.7L578.2,284.5L576.8,283.4L577.3,282.0L578.5,280.8L579.4,281.9ZM343.9,164.5L343.6,164.3L343.8,163.5L344.1,163.0L344.4,163.8L344.3,164.4ZM227.2,78.9L228.2,77.8L229.1,78.6L227.9,80.0L226.8,80.1ZM369.0,242.6L369.5,243.7L369.6,244.7L368.5,244.4L368.1,243.1ZM829.1,238.6L831.9,236.7L834.3,236.9L835.8,238.4L831.3,239.3ZM204.9,66.0L206.2,65.9L206.1,66.3L205.1,66.8ZM914.2,289.0L913.1,289.1L912.9,288.5L913.8,288.2ZM778.1,254.9L777.7,253.8L778.1,253.4L779.3,254.0L779.5,254.8L779.0,255.2ZM258.9,87.2L258.7,88.0L258.0,88.4L257.4,87.9L257.9,87.1ZM682.1,220.3L680.9,219.1L683.1,219.3L684.0,220.3ZM584.8,204.0L584.9,203.7L585.5,203.1L586.8,204.0L587.0,204.5L586.0,204.9ZM333.7,190.7L333.0,189.9L333.0,189.1L334.0,189.1L334.7,190.1L334.7,190.8ZM320.2,171.6L322.9,169.9L323.6,171.3L324.9,174.0L322.4,174.3L319.5,174.0ZM877.5,284.2L876.8,284.7L875.9,284.3L876.7,283.8ZM360.6,170.7L360.4,172.0L359.4,171.9L359.4,170.9ZM491.0,248.6L490.9,248.2L491.8,247.9L491.7,248.7ZM853.9,284.2L853.5,286.1L851.9,286.5L852.6,284.0ZM373.1,268.7L372.9,268.3L373.3,267.8L373.6,268.4ZM387.4,279.3L386.2,277.7L386.9,276.2L387.7,276.8ZM843.0,247.3L842.1,246.9L843.0,246.2L843.7,246.6ZM791.2,250.3L792.5,249.9L792.4,250.5L791.5,250.8ZM137.0,142.9L136.9,143.3L136.6,143.5L136.4,143.3L136.2,142.7L136.5,142.7ZM401.7,174.5L400.7,174.3L400.6,173.7L402.0,173.6L402.4,174.2ZM903.9,299.8L904.5,300.9L903.4,301.3L903.2,300.3ZM393.8,251.0L394.9,251.2L394.1,252.0L393.3,251.8ZM254.8,79.5L257.9,80.5L258.3,83.7L254.0,83.2ZM799.7,328.9L801.0,331.1L800.4,332.5L798.0,333.4L797.3,330.1ZM738.6,221.7L737.7,221.0L738.0,219.8L739.4,219.9ZM470.3,246.2L470.9,248.2L468.6,247.5L467.7,246.2L467.8,244.9ZM353.8,263.6L354.9,263.6L355.3,265.4L353.7,266.2L353.2,265.1ZM667.8,279.9L669.2,279.7L670.1,281.1L668.5,281.2ZM239.4,112.2L238.6,113.6L237.5,113.6L237.5,112.8L238.7,111.7ZM621.5,271.8L622.0,272.7L621.0,273.4L620.6,272.0ZM643.9,186.5L644.6,186.9L645.5,187.7L644.7,188.1L643.3,187.6L643.3,186.8ZM373.2,276.3L370.7,274.5L371.6,272.8L374.1,274.3ZM407.7,237.4L409.3,238.2L406.8,239.2L404.8,238.1ZM732.1,218.4L732.3,219.0L731.8,219.5L731.2,219.2L731.3,218.4L731.8,218.1ZM654.5,282.0L654.0,281.7L653.6,281.2L654.3,280.9L655.0,281.3L655.3,281.6ZM840.7,268.3L840.1,268.1L840.2,267.5L840.9,267.7ZM264.0,94.9L263.7,93.9L264.3,93.6L265.3,94.3L264.6,94.8ZM839.0,264.7L840.4,265.8L839.7,266.8L838.6,266.0ZM378.7,230.2L378.2,230.4L378.1,229.8L378.5,229.6ZM350.2,169.7L350.3,167.9L351.8,168.6L351.3,170.2ZM370.7,188.9L370.3,189.1L369.7,188.8L369.8,188.4L370.5,188.2L370.6,188.6ZM322.7,250.9L323.2,250.5L323.6,250.9L322.9,251.6ZM855.4,314.5L855.5,315.2L854.2,315.3L854.5,314.5ZM583.9,291.2L584.9,290.1L585.2,291.4L584.6,292.5ZM262.8,129.6L262.7,130.4L262.2,131.1L261.5,131.1L261.2,130.3L261.8,129.8ZM824.6,225.3L824.6,224.3L825.5,224.7L825.4,225.3L825.1,225.8ZM604.5,224.5L603.0,223.0L604.6,222.6L605.8,224.2ZM622.0,276.9L621.4,277.1L621.1,276.9L621.2,276.2L621.4,275.9L622.0,276.2ZM777.2,222.4L777.0,222.8L776.3,223.0L776.3,222.6L776.3,222.1L776.9,222.2ZM817.5,215.3L817.6,216.3L817.0,216.6L816.4,215.6ZM280.4,88.4L281.3,87.4L282.1,88.0L282.0,89.3ZM839.0,254.7L838.3,254.9L838.4,254.2L838.9,254.1ZM613.5,138.2L614.4,138.7L613.9,140.0L613.4,139.6ZM378.4,263.6L378.5,262.9L379.2,263.0L379.4,263.4L378.9,263.7ZM699.0,337.6L697.9,336.9L698.3,335.6L698.9,335.6L699.6,337.2ZM489.1,230.3L489.0,229.6L489.7,229.2L489.7,229.9ZM786.9,219.0L787.3,219.0L787.3,219.5L786.9,219.5L786.6,219.2ZM879.2,266.5L878.3,266.5L878.0,265.9L878.6,265.6L879.1,265.3L879.7,266.0ZM290.3,94.2L292.2,94.9L292.4,95.9L291.6,96.2L290.1,95.6ZM505.6,235.7L506.5,234.6L507.7,235.0L507.7,236.0ZM468.9,247.0L469.2,247.8L468.8,248.0L468.3,247.8L468.5,247.2ZM414.6,261.3L415.5,261.3L415.0,261.9L413.9,262.1ZM338.0,131.5L339.5,131.6L340.1,132.8L338.1,132.3ZM691.8,212.9L690.9,214.7L688.4,212.4L690.1,210.9ZM224.0,137.2L224.2,136.7L225.0,136.4L225.2,136.8L225.0,137.7ZM603.4,188.7L601.4,188.6L601.7,188.2L602.5,187.5L603.9,187.7L604.5,188.0ZM337.7,172.6L336.4,174.2L335.5,172.5L336.4,170.0ZM380.2,255.6L379.3,254.3L380.8,253.8L381.1,255.2ZM747.8,239.3L751.2,237.8L755.0,242.7L754.5,245.3L751.8,243.3ZM839.0,256.1L839.5,255.4L840.1,255.9L840.2,257.2L839.6,257.8L839.3,257.4ZM691.8,281.0L691.4,281.1L691.1,280.6L691.5,280.2ZM798.8,270.4L795.4,269.3L798.1,267.4L800.6,268.1L801.4,270.3ZM659.4,229.0L658.4,228.0L659.2,227.1L659.8,228.0ZM775.5,226.2L775.7,225.6L776.4,226.0L775.8,226.6ZM298.4,106.0L296.9,105.8L296.0,105.4L296.7,104.1L297.5,104.3L298.2,105.3ZM854.5,257.7L854.6,258.3L853.8,258.3L853.6,257.8L854.2,257.4ZM603.5,203.2L603.2,203.6L602.7,203.6L602.7,203.0L603.3,202.8ZM901.8,283.2L901.6,282.2L902.8,281.9L903.1,282.8ZM865.4,287.1L865.8,287.2L865.9,287.7L865.6,288.0L865.1,287.6L865.0,287.4ZM836.1,192.6L836.4,192.9L835.8,193.4L835.4,193.4L835.1,193.0L835.6,192.5ZM821.7,332.8L822.8,332.3L823.4,332.9L822.7,333.6L822.0,333.6ZM371.4,234.0L372.2,234.9L370.2,235.7L369.4,234.6L370.1,234.0ZM465.1,249.5L464.0,249.0L464.0,248.4L464.7,248.8ZM851.4,252.6L852.2,252.3L853.2,252.5L852.3,253.6L851.1,253.5ZM740.1,245.9L740.1,245.2L741.4,245.3L741.4,246.3ZM217.3,71.9L216.8,71.4L217.5,71.1L218.0,71.6ZM301.6,194.6L303.1,193.2L304.2,194.1L304.3,195.2L303.4,195.6ZM415.9,270.4L416.0,270.2L416.6,270.4L416.5,270.7L416.2,271.1L415.8,271.0ZM399.6,242.0L399.3,243.1L398.3,243.0L398.5,241.9ZM154.6,143.5L152.4,144.9L150.8,143.2L152.8,140.1L154.8,140.6ZM712.9,265.3L712.0,266.0L711.4,265.5L711.8,265.0ZM647.8,214.4L648.8,214.5L649.4,215.4L648.9,216.9L647.8,216.4L647.2,216.0ZM402.4,197.0L402.1,197.3L401.5,197.0L402.0,196.5ZM862.8,251.3L863.4,251.7L863.4,252.9L862.2,252.3ZM778.0,248.6L777.7,248.1L778.0,247.9L778.5,248.3ZM234.2,140.5L235.0,140.3L234.8,141.4L234.2,141.3ZM606.7,283.6L607.7,285.1L607.0,286.2L606.2,284.7ZM811.5,255.8L810.9,256.4L810.0,256.7L810.3,255.6L811.2,254.4L812.2,254.4ZM380.0,238.8L379.1,240.3L378.1,239.5L378.6,237.9ZM398.0,227.1L398.5,226.8L398.8,227.3L398.4,227.5ZM868.2,273.3L867.6,272.1L869.5,270.4L870.4,271.2ZM660.9,259.3L659.7,261.8L657.9,260.5L657.7,258.0ZM835.6,260.2L838.0,261.1L839.0,264.1L836.8,266.1ZM843.8,259.2L841.8,258.6L842.1,257.6L843.4,258.2ZM771.6,340.2L773.0,341.2L772.3,342.3L771.4,342.1ZM231.7,105.0L231.0,105.0L230.8,104.3L231.6,104.2ZM824.8,192.3L827.5,191.9L826.4,194.1L824.3,193.5ZM194.6,87.3L193.0,87.2L192.3,83.9L194.2,84.6ZM204.6,89.9L203.5,89.0L204.1,88.5L204.9,89.1ZM383.0,238.5L382.3,235.0L383.4,233.7L385.2,233.8L385.7,237.3L384.3,239.9ZM694.0,225.1L694.7,224.6L695.7,224.9L694.9,225.4ZM415.1,146.7L414.5,147.2L413.6,146.6L414.4,146.0ZM704.3,214.7L704.2,213.7L704.6,213.2L704.8,214.4ZM488.6,239.0L487.7,239.5L486.9,239.1L487.5,237.7L488.9,237.3L489.1,238.1ZM769.5,328.4L769.8,328.8L769.5,329.2L769.1,329.0L768.9,328.7L769.0,328.4ZM707.2,215.9L708.1,217.6L704.3,218.3L703.0,216.7ZM580.8,187.6L582.1,188.6L581.7,190.1L580.1,189.4ZM476.7,231.1L475.2,231.7L474.3,231.2L475.0,229.6L476.0,229.1L476.9,229.1ZM796.3,207.8L794.0,207.9L794.3,206.5L796.1,206.5ZM602.0,201.5L602.7,200.7L603.4,201.0L602.9,201.8L602.4,202.0ZM265.8,99.9L266.0,99.6L266.3,99.8L266.2,100.3L265.8,100.4ZM657.6,165.3L658.5,164.5L659.4,166.4L658.6,167.5ZM558.2,259.1L559.8,258.3L561.6,259.0L562.2,260.5L560.1,260.4ZM879.3,310.5L879.5,311.2L879.1,311.4L878.8,310.7ZM835.7,237.1L834.9,238.5L833.8,237.6L834.3,236.6ZM221.3,164.6L220.4,164.1L220.3,163.8L221.2,163.5L222.0,164.0ZM611.4,183.4L610.8,183.3L610.9,182.7L611.3,182.6ZM645.6,209.1L645.9,210.6L645.1,211.5L645.0,210.3Z"/><rect x="81.33" y="57.20" width="167.34" height="49.40" fill="none" stroke="#222" stroke-width="0.70"/><rect x="248.67" y="57.20" width="167.34" height="49.40" fill="none" stroke="#222" stroke-width="0.70"/><rect x="81.33" y="106.60" width="83.67" height="49.40" fill="none" stroke="#222" stroke-width="0.70"/><rect x="165.00" y="106.60" width="83.67" height="49.40" fill="none" stroke="#222" stroke-width="0.70"/><rect x="248.67" y="106.60" width="83.67" height="49.40" fill="none" stroke="#222" stroke-width="0.70"/><rect x="332.34" y="106.60" width="200.81" height="49.40" fill="none" stroke="#222" stroke-width="0.70"/><rect x="81.33" y="156.00" width="83.67" height="49.40" fill="none" stroke="#222" stroke-width="0.70"/><rect x="165.00" y="156.00" width="83.67" height="49.40" fill="none" stroke="#222" stroke-width="0.70"/><rect x="248.67" y="156.00" width="83.67" height="49.40" fill="none" stroke="#222" stroke-width="0.70"/><rect x="332.34" y="156.00" width="83.67" height="49.40" fill="none" stroke="#222" stroke-width="0.70"/><rect x="416.01" y="156.00" width="117.14" height="49.40" fill="none" stroke="#222" stroke-width="0.70"/><rect x="541.51" y="106.60" width="41.84" height="98.80" fill="none" stroke="#222" stroke-width="0.70"/><rect x="583.35" y="106.60" width="83.67" height="49.40" fill="none" stroke="#222" stroke-width="0.70"/><rect x="583.35" y="156.00" width="83.67" height="49.40" fill="none" stroke="#222" stroke-width="0.70"/><rect x="667.02" y="156.00" width="83.67" height="49.40" fill="none" stroke="#222" stroke-width="0.70"/><rect x="750.69" y="156.00" width="83.67" height="49.40" fill="none" stroke="#222" stroke-width="0.70"/><rect x="834.36" y="156.00" width="167.34" height="98.80" fill="none" stroke="#222" stroke-width="0.70"/><rect x="81.33" y="205.40" width="167.34" height="49.40" fill="none" stroke="#222" stroke-width="0.70"/><rect x="248.67" y="205.40" width="83.67" height="98.80" fill="none" stroke="#222" stroke-width="0.70"/><rect x="332.34" y="205.40" width="83.67" height="49.40" fill="none" stroke="#222" stroke-width="0.70"/><rect x="416.01" y="205.40" width="83.67" height="49.40" fill="none" stroke="#222" stroke-width="0.70"/><rect x="499.68" y="205.40" width="83.67" height="49.40" fill="none" stroke="#222" stroke-width="0.70"/><rect x="583.35" y="205.40" width="83.67" height="49.40" fill="none" stroke="#222" stroke-width="0.70"/><rect x="667.02" y="205.40" width="83.67" height="49.40" fill="none" stroke="#222" stroke-width="0.70"/><rect x="750.69" y="205.40" width="83.67" height="49.40" fill="none" stroke="#222" stroke-width="0.70"/><rect x="332.34" y="254.80" width="83.67" height="98.80" fill="none" stroke="#222" stroke-width="0.70"/><rect x="416.01" y="254.80" width="83.67" height="98.80" fill="none" stroke="#222" stroke-width="0.70"/><rect x="499.68" y="254.80" width="83.67" height="98.80" fill="none" stroke="#222" stroke-width="0.70"/><rect x="583.35" y="254.80" width="83.67" height="98.80" fill="none" stroke="#222" stroke-width="0.70"/><rect x="667.02" y="254.80" width="83.67" height="49.40" fill="none" stroke="#222" stroke-width="0.70"/><rect x="750.69" y="254.80" width="83.67" height="49.40" fill="none" stroke="#222" stroke-width="0.70"/><rect x="834.36" y="254.80" width="167.34" height="98.80" fill="none" stroke="#222" stroke-width="0.70"/><rect x="667.02" y="304.20" width="83.67" height="98.80" fill="none" stroke="#222" stroke-width="0.70"/><rect x="750.69" y="304.20" width="83.67" height="98.80" fill="none" stroke="#222" stroke-width="0.70"/></g><path d="M156.6,94.5 L157.6,105.6 L161.8,104 Z" fill="#fff" stroke="#222" stroke-width="0.70"/><path d="M83.30,154.00 L105.30,141.70 L120.30,135.20 L128.60,130.00 L135.30,125.60 L144.40,116.90 L148.30,113.60 L157.80,105.90 L162.00,103.80 L159.70,98.00 L155.20,87.60 L158.30,82.30 L166.00,73.60 L176.00,70.40 L187.50,68.00 L207.50,65.50 L222.50,63.75 L232.50,64.50 L240.00,66.25 L250.00,71.25 L265.00,76.25 L285.00,80.50 L306.00,83.00 L314.00,91.25 L330.00,101.25 L350.00,112.50 L367.50,122.00 L382.50,128.50 L400.00,132.50 L417.50,137.50 L430.00,143.00 L442.50,148.75 L463.75,160.00 L480.00,178.00 L500.00,187.00 L520.00,200.00 L537.50,213.75 L555.00,225.00 L570.00,231.25 L585.00,233.25 L596.00,235.00 L598.75,229.50 L595.00,220.00 L587.50,207.50 L573.00,198.75 L582.50,187.50 L581.00,178.75 L567.50,172.50 L560.00,162.50 L552.50,151.25 L556.00,140.00 L560.00,126.25 L571.00,120.50 L585.00,122.00 L600.00,126.25 L622.50,132.50 L637.50,133.75 L645.00,142.50 L655.00,156.25 L667.50,170.00 L680.00,180.00 L697.50,190.00 L712.50,197.50 L726.00,204.50 L745.00,193.75 L757.50,180.00 L775.00,172.50 L791.00,168.00 L811.00,186.25 L836.00,180.00 L860.00,190.00 L880.00,201.25 L892.50,212.50 L897.50,221.00 L884.00,233.75 L867.50,231.00 L856.00,240.00 L860.00,247.50 L875.00,256.00 L892.50,263.75 L910.00,268.75 L916.00,277.50 L918.00,288.75 L912.50,300.00 L905.00,307.50 L890.00,313.75 L877.50,318.75 L862.50,320.00 L845.00,321.25 L834.00,325.00 L825.00,332.50 L819.00,337.00 L810.00,337.50 L800.00,336.25 L792.50,341.25 L785.00,345.00 L772.50,346.25 L760.00,343.75 L750.00,341.25 L727.50,338.75 L704.00,338.75 L690.00,333.75 L675.00,327.50 L662.50,322.50 L650.00,320.00 L637.50,313.75 L630.00,307.50 L617.50,303.75 L605.00,302.50 L601.00,306.25 L607.50,311.25 L608.00,322.50 L602.50,328.00 L596.00,327.50 L585.00,320.00 L576.00,311.25 L571.00,300.00 L560.00,296.25 L551.00,296.25 L546.00,298.75 L537.50,297.50 L532.50,303.75 L520.00,306.25 L510.00,307.50 L507.50,312.50 L500.00,312.00 L492.50,311.25 L490.00,300.00 L486.00,293.75 L475.00,305.00 L467.50,308.00 L455.00,310.00 L445.00,310.75 L437.50,306.25 L425.00,302.50 L415.00,300.50 L400.00,295.00 L380.00,285.00 L360.00,273.75 L345.00,265.00 L332.50,260.00 L320.00,253.75 L310.00,251.25 L305.00,243.75 L295.00,241.25 L285.00,244.50 L270.00,241.25 L260.00,238.00 L250.00,232.50 L242.50,225.00 L232.50,221.25 L221.00,218.20 L207.20,213.60 L198.80,208.00 L192.90,204.60 L183.60,198.60 L178.00,193.20 L174.30,190.80 L169.50,191.00 L165.00,197.70 L155.70,200.60 L146.40,199.80 L129.70,193.20 L120.00,188.50 L113.00,184.50 L100.00,171.30 L90.00,160.90Z" fill="none" stroke="#000" stroke-width="2.80" stroke-linejoin="round"/></g>
<text x="1046.30" y="503.60" font-size="30.00" class="b">(d)</text>
<text x="1057.50" y="728.25" font-size="29.40" class="b">Legend</text>
<rect x="1057.00" y="764.50" width="39.25" height="19.50" fill="#005CE6" stroke="#7d7d66" stroke-width="0.8"/>
<text x="1110.00" y="784.50" font-size="26.90" class="b">New Construction Land Area(2014-2017)</text>
<g transform="translate(1925,504.5)"><g><circle r="18.8" fill="#fff" stroke="#000" stroke-width="2.3"/><circle r="18.8" fill="none" stroke="#fff" stroke-width="0.5" stroke-dasharray="1.2 2.4"/><g transform="rotate(22.5)"><path d="M0,-13 L0,-7" stroke="#999" stroke-width="0.35"/><path d="M0,-20.2 L0,-21.6" stroke="#777" stroke-width="0.6"/></g><g transform="rotate(67.5)"><path d="M0,-13 L0,-7" stroke="#999" stroke-width="0.35"/><path d="M0,-20.2 L0,-21.6" stroke="#777" stroke-width="0.6"/></g><g transform="rotate(112.5)"><path d="M0,-13 L0,-7" stroke="#999" stroke-width="0.35"/><path d="M0,-20.2 L0,-21.6" stroke="#777" stroke-width="0.6"/></g><g transform="rotate(157.5)"><path d="M0,-13 L0,-7" stroke="#999" stroke-width="0.35"/><path d="M0,-20.2 L0,-21.6" stroke="#777" stroke-width="0.6"/></g><g transform="rotate(202.5)"><path d="M0,-13 L0,-7" stroke="#999" stroke-width="0.35"/><path d="M0,-20.2 L0,-21.6" stroke="#777" stroke-width="0.6"/></g><g transform="rotate(247.5)"><path d="M0,-13 L0,-7" stroke="#999" stroke-width="0.35"/><path d="M0,-20.2 L0,-21.6" stroke="#777" stroke-width="0.6"/></g><g transform="rotate(292.5)"><path d="M0,-13 L0,-7" stroke="#999" stroke-width="0.35"/><path d="M0,-20.2 L0,-21.6" stroke="#777" stroke-width="0.6"/></g><g transform="rotate(337.5)"><path d="M0,-13 L0,-7" stroke="#999" stroke-width="0.35"/><path d="M0,-20.2 L0,-21.6" stroke="#777" stroke-width="0.6"/></g><g transform="rotate(45)"><path d="M0,-16 L3.5,-6.8 L0,0Z" fill="#000" stroke="#000" stroke-width="0.3"/><path d="M0,-16 L-3.5,-6.8 L0,0Z" fill="#fff" stroke="#000" stroke-width="0.35"/></g><g transform="rotate(135)"><path d="M0,-16 L3.5,-6.8 L0,0Z" fill="#000" stroke="#000" stroke-width="0.3"/><path d="M0,-16 L-3.5,-6.8 L0,0Z" fill="#fff" stroke="#000" stroke-width="0.35"/></g><g transform="rotate(225)"><path d="M0,-16 L3.5,-6.8 L0,0Z" fill="#000" stroke="#000" stroke-width="0.3"/><path d="M0,-16 L-3.5,-6.8 L0,0Z" fill="#fff" stroke="#000" stroke-width="0.35"/></g><g transform="rotate(315)"><path d="M0,-16 L3.5,-6.8 L0,0Z" fill="#000" stroke="#000" stroke-width="0.3"/><path d="M0,-16 L-3.5,-6.8 L0,0Z" fill="#fff" stroke="#000" stroke-width="0.35"/></g><g transform="rotate(0)"><path d="M0,-22.8 L4.5,-7.8 L0,0Z" fill="#000" stroke="#000" stroke-width="0.3"/><path d="M0,-22.8 L-4.5,-7.8 L0,0Z" fill="#fff" stroke="#000" stroke-width="0.4"/></g><g transform="rotate(90)"><path d="M0,-22.8 L4.5,-7.8 L0,0Z" fill="#000" stroke="#000" stroke-width="0.3"/><path d="M0,-22.8 L-4.5,-7.8 L0,0Z" fill="#fff" stroke="#000" stroke-width="0.4"/></g><g transform="rotate(180)"><path d="M0,-22.8 L4.5,-7.8 L0,0Z" fill="#000" stroke="#000" stroke-width="0.3"/><path d="M0,-22.8 L-4.5,-7.8 L0,0Z" fill="#fff" stroke="#000" stroke-width="0.4"/></g><g transform="rotate(270)"><path d="M0,-22.8 L4.5,-7.8 L0,0Z" fill="#000" stroke="#000" stroke-width="0.3"/><path d="M0,-22.8 L-4.5,-7.8 L0,0Z" fill="#fff" stroke="#000" stroke-width="0.4"/></g><text x="0" y="-25.6" font-size="12" text-anchor="middle">N</text><text x="0" y="33.4" font-size="12" text-anchor="middle">S</text><text x="23.6" y="3.8" font-size="12">E</text><text x="-23" y="3.9" font-size="12" text-anchor="end">W</text></g></g>
</g>
</svg></body></html>
